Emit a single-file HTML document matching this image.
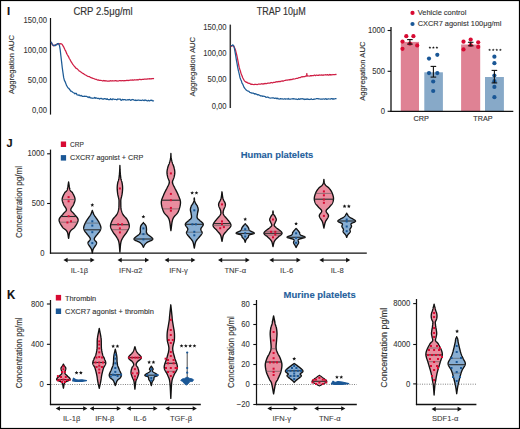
<!DOCTYPE html>
<html><head><meta charset="utf-8"><style>
html,body{margin:0;padding:0;background:#fff;}
svg{display:block;font-family:"Liberation Sans", sans-serif;}
</style></head><body>
<svg width="520" height="429" viewBox="0 0 520 429">
<rect x="0" y="0" width="520" height="429" fill="#fff"/>
<text x="7.0" y="14.7" font-size="11.2" text-anchor="start" font-weight="bold" fill="#111" stroke="#111" stroke-width="0.15" >I</text>
<text x="73.4" y="15.4" font-size="10.2" text-anchor="start" font-weight="normal" fill="#333" stroke="#333" stroke-width="0.15" textLength="59.2" lengthAdjust="spacingAndGlyphs" >CRP 2.5μg/ml</text>
<text x="256.8" y="15.4" font-size="10.2" text-anchor="start" font-weight="normal" fill="#333" stroke="#333" stroke-width="0.15" textLength="49" lengthAdjust="spacingAndGlyphs" >TRAP 10μM</text>
<text transform="translate(46.9,23.3) scale(0.9,1)" x="0" y="0" font-size="8.5" text-anchor="end" font-weight="normal" fill="#333" stroke="#333" stroke-width="0.08" >150,00</text>
<text transform="translate(46.9,53.300000000000004) scale(0.9,1)" x="0" y="0" font-size="8.5" text-anchor="end" font-weight="normal" fill="#333" stroke="#333" stroke-width="0.08" >100,00</text>
<text transform="translate(46.9,83.3) scale(0.9,1)" x="0" y="0" font-size="8.5" text-anchor="end" font-weight="normal" fill="#333" stroke="#333" stroke-width="0.08" >50,00</text>
<text transform="translate(46.9,113.3) scale(0.9,1)" x="0" y="0" font-size="8.5" text-anchor="end" font-weight="normal" fill="#333" stroke="#333" stroke-width="0.08" >0,00</text>
<text transform="translate(14.1,94.1) rotate(-90)" x="0" y="0" font-size="7.6" fill="#333" stroke="#333" stroke-width="0.15" textLength="59" lengthAdjust="spacingAndGlyphs">Aggregation AUC</text>
<line x1="50.5" y1="18" x2="50.5" y2="114.6" stroke="#111" stroke-width="1.2" />
<path d="M51.1,42.1 L51.8,43.4 L52.5,44.6 L53.2,45.6 L53.9,45.8 L54.6,45.3 L55.3,44.9 L56.0,44.9 L56.7,44.3 L57.4,44.0 L58.1,44.2 L58.8,43.7 L59.5,43.8 L60.2,43.6 L60.9,43.8 L61.6,43.9 L62.3,44.7 L63.0,45.8 L63.7,46.9 L64.4,48.5 L65.1,50.1 L65.8,51.2 L66.5,53.1 L67.2,54.5 L67.9,55.7 L68.6,56.8 L69.3,58.5 L70.0,59.5 L70.7,60.9 L71.4,62.2 L72.1,63.2 L72.8,64.4 L73.5,65.1 L74.2,66.1 L74.9,66.8 L75.6,67.8 L76.3,68.5 L77.0,68.7 L77.7,69.4 L78.4,70.0 L79.1,71.0 L79.8,71.2 L80.5,71.8 L81.2,72.2 L81.9,72.8 L82.6,73.2 L83.3,73.6 L84.0,74.1 L84.7,74.5 L85.4,75.0 L86.1,75.3 L86.8,75.8 L87.5,76.1 L88.2,76.5 L88.9,76.6 L89.6,76.7 L90.3,77.3 L91.0,77.7 L91.7,77.9 L92.4,78.1 L93.1,78.4 L93.8,78.5 L94.5,79.0 L95.2,79.2 L95.9,79.3 L96.6,79.4 L97.3,80.0 L98.0,80.2 L98.7,79.9 L99.4,80.4 L100.1,80.3 L100.8,80.3 L101.5,80.5 L102.2,80.8 L102.9,80.9 L103.6,80.5 L104.3,80.9 L105.0,80.6 L105.7,81.0 L106.4,80.8 L107.1,81.1 L107.8,81.2 L108.5,81.0 L109.2,81.2 L109.9,80.9 L110.6,80.7 L111.3,81.0 L112.0,80.7 L112.7,80.8 L113.4,80.9 L114.1,81.0 L114.8,80.7 L115.5,80.6 L116.2,81.0 L116.9,80.7 L117.6,81.0 L118.3,81.0 L119.0,80.7 L119.7,80.7 L120.4,80.7 L121.1,80.8 L121.8,80.7 L122.5,80.7 L123.2,80.7 L123.9,80.8 L124.6,80.6 L125.3,80.5 L126.0,80.6 L126.7,80.3 L127.4,80.3 L128.1,80.6 L128.8,80.3 L129.5,80.3 L130.2,80.0 L130.9,80.2 L131.6,80.2 L132.3,79.9 L133.0,80.1 L133.7,80.1 L134.4,79.7 L135.1,80.0 L135.8,79.9 L136.5,79.9 L137.2,79.7 L137.9,79.8 L138.6,79.8 L139.3,79.4 L140.0,79.3 L140.7,79.6 L141.4,79.7 L142.1,79.3 L142.8,79.3 L143.5,79.3 L144.2,79.2 L144.9,79.1 L145.6,79.1 L146.3,79.0 L147.0,79.1 L147.7,78.9 L148.4,78.9 L149.1,79.0 L149.8,78.6 L150.5,78.8 L151.2,78.9 L151.9,78.6 L152.6,78.5 L153.3,78.7 L154.0,78.4" fill="none" stroke="#cf1f45" stroke-width="1.25" stroke-linejoin="round"/>
<path d="M51.1,41.8 L51.8,43.3 L52.5,44.9 L53.2,45.0 L53.9,45.6 L54.6,45.4 L55.3,45.6 L56.0,44.7 L56.7,44.8 L57.4,43.7 L58.1,43.5 L58.8,43.9 L59.5,45.7 L60.2,49.9 L60.9,56.0 L61.6,61.9 L62.3,68.0 L63.0,72.8 L63.7,77.7 L64.4,80.4 L65.1,81.6 L65.8,83.4 L66.5,85.4 L67.2,86.5 L67.9,87.8 L68.6,88.3 L69.3,89.0 L70.0,89.9 L70.7,91.2 L71.4,91.1 L72.1,91.7 L72.8,92.3 L73.5,92.7 L74.2,93.0 L74.9,93.9 L75.6,93.3 L76.3,93.4 L77.0,94.8 L77.7,95.0 L78.4,95.3 L79.1,94.9 L79.8,95.7 L80.5,95.9 L81.2,95.3 L81.9,96.1 L82.6,96.4 L83.3,96.4 L84.0,96.3 L84.7,96.2 L85.4,96.4 L86.1,96.4 L86.8,96.4 L87.5,97.1 L88.2,96.9 L88.9,97.6 L89.6,96.8 L90.3,97.9 L91.0,97.8 L91.7,98.1 L92.4,98.2 L93.1,98.3 L93.8,98.0 L94.5,97.4 L95.2,98.4 L95.9,97.7 L96.6,98.0 L97.3,98.5 L98.0,98.4 L98.7,98.3 L99.4,99.0 L100.1,98.7 L100.8,98.4 L101.5,98.4 L102.2,99.2 L102.9,98.8 L103.6,99.2 L104.3,98.7 L105.0,98.6 L105.7,99.0 L106.4,99.4 L107.1,98.7 L107.8,99.5 L108.5,99.7 L109.2,99.6 L109.9,99.6 L110.6,98.7 L111.3,99.5 L112.0,99.8 L112.7,98.9 L113.4,99.2 L114.1,99.2 L114.8,99.5 L115.5,99.4 L116.2,99.5 L116.9,99.9 L117.6,99.0 L118.3,99.1 L119.0,99.2 L119.7,99.2 L120.4,99.2 L121.1,100.3 L121.8,100.2 L122.5,99.3 L123.2,99.8 L123.9,99.6 L124.6,99.6 L125.3,99.7 L126.0,100.1 L126.7,100.0 L127.4,99.8 L128.1,99.6 L128.8,99.8 L129.5,99.5 L130.2,100.1 L130.9,100.3 L131.6,99.9 L132.3,99.5 L133.0,99.7 L133.7,99.9 L134.4,100.2 L135.1,100.5 L135.8,100.0 L136.5,100.5 L137.2,100.3 L137.9,100.1 L138.6,100.0 L139.3,100.2 L140.0,100.5 L140.7,100.2 L141.4,100.5 L142.1,100.2 L142.8,100.0 L143.5,100.4 L144.2,100.6 L144.9,99.8 L145.6,100.3 L146.3,100.3 L147.0,100.9 L147.7,100.9 L148.4,100.3 L149.1,100.9 L149.8,100.8 L150.5,100.2 L151.2,100.5 L151.9,100.1 L152.6,100.9 L153.3,100.8 L154.0,101.0" fill="none" stroke="#1d5b96" stroke-width="1.25" stroke-linejoin="round"/>
<text transform="translate(226.6,29.5) scale(0.9,1)" x="0" y="0" font-size="8.5" text-anchor="end" font-weight="normal" fill="#333" stroke="#333" stroke-width="0.08" >150,00</text>
<text transform="translate(226.6,55.800000000000004) scale(0.9,1)" x="0" y="0" font-size="8.5" text-anchor="end" font-weight="normal" fill="#333" stroke="#333" stroke-width="0.08" >100,00</text>
<text transform="translate(226.6,82.1) scale(0.9,1)" x="0" y="0" font-size="8.5" text-anchor="end" font-weight="normal" fill="#333" stroke="#333" stroke-width="0.08" >50,00</text>
<text transform="translate(226.6,108.5) scale(0.9,1)" x="0" y="0" font-size="8.5" text-anchor="end" font-weight="normal" fill="#333" stroke="#333" stroke-width="0.08" >0,00</text>
<text transform="translate(194.6,96.5) rotate(-90)" x="0" y="0" font-size="7.6" fill="#333" stroke="#333" stroke-width="0.15" textLength="59.7" lengthAdjust="spacingAndGlyphs">Aggregation AUC</text>
<line x1="230.3" y1="24.6" x2="230.3" y2="108" stroke="#333" stroke-width="1.5" />
<path d="M230.8,46.4 L231.5,46.1 L232.2,46.0 L232.9,45.8 L233.6,45.8 L234.3,47.2 L235.0,48.7 L235.7,50.8 L236.4,53.7 L237.1,56.5 L237.8,60.2 L238.5,63.8 L239.2,67.4 L239.9,69.6 L240.6,71.8 L241.3,74.3 L242.0,75.7 L242.7,77.7 L243.4,79.0 L244.1,80.3 L244.8,81.2 L245.5,81.7 L246.2,82.3 L246.9,82.2 L247.6,83.0 L248.3,83.1 L249.0,83.4 L249.7,83.3 L250.4,84.0 L251.1,84.4 L251.8,84.1 L252.5,84.4 L253.2,84.5 L253.9,84.7 L254.6,84.4 L255.3,84.3 L256.0,84.3 L256.7,84.5 L257.4,84.5 L258.1,84.2 L258.8,84.2 L259.5,84.1 L260.2,84.0 L260.9,84.0 L261.6,83.7 L262.3,83.9 L263.0,84.1 L263.7,83.7 L264.4,83.8 L265.1,83.4 L265.8,83.6 L266.5,83.6 L267.2,83.4 L267.9,83.2 L268.6,83.1 L269.3,83.1 L270.0,83.2 L270.7,82.6 L271.4,82.5 L272.1,82.8 L272.8,82.8 L273.5,82.4 L274.2,82.3 L274.9,82.4 L275.6,81.9 L276.3,81.9 L277.0,81.7 L277.7,81.8 L278.4,81.6 L279.1,81.4 L279.8,81.6 L280.5,81.6 L281.2,81.1 L281.9,81.2 L282.6,80.9 L283.3,81.1 L284.0,80.8 L284.7,80.5 L285.4,80.3 L286.1,80.1 L286.8,80.2 L287.5,80.1 L288.2,79.8 L288.9,79.8 L289.6,79.6 L290.3,79.8 L291.0,79.3 L291.7,79.7 L292.4,79.2 L293.1,79.2 L293.8,78.9 L294.5,79.0 L295.2,78.8 L295.9,78.5 L296.6,78.3 L297.3,78.3 L298.0,78.1 L298.7,77.7 L299.4,77.7 L300.1,77.6 L300.8,77.2 L301.5,76.9 L302.2,76.7 L302.9,76.8 L303.6,76.7 L304.3,76.7 L305.0,76.6 L305.7,76.1 L306.4,76.0 L307.1,75.9 L307.8,75.8 L308.5,76.0 L309.2,76.1 L309.9,76.0 L310.6,75.6 L311.3,75.9 L312.0,75.5 L312.7,75.5 L313.4,75.7 L314.1,75.2 L314.8,75.2 L315.5,75.6 L316.2,75.2 L316.9,75.2 L317.6,75.3 L318.3,75.4 L319.0,74.9 L319.7,75.1 L320.4,75.1 L321.1,75.1 L321.8,74.9 L322.5,75.1 L323.2,75.3 L323.9,74.9 L324.6,75.0 L325.3,74.7 L326.0,74.8 L326.7,75.0 L327.4,74.6 L328.1,75.0 L328.8,75.0 L329.5,74.5 L330.2,75.0 L330.9,74.6 L331.6,74.8 L332.3,74.8 L333.0,74.5 L333.7,74.7 L334.4,74.6 L335.1,74.7 L335.8,74.3 L336.5,74.6" fill="none" stroke="#cf1f45" stroke-width="1.25" stroke-linejoin="round"/>
<path d="M306.3,76.5 L306.8,73.2 L307.4,76.3" fill="none" stroke="#cf1f45" stroke-width="0.9"/>
<path d="M230.8,46.0 L231.5,45.5 L232.2,45.3 L232.9,44.9 L233.6,45.8 L234.3,47.9 L235.0,51.7 L235.7,55.7 L236.4,60.1 L237.1,63.9 L237.8,67.9 L238.5,71.2 L239.2,73.8 L239.9,77.2 L240.6,79.2 L241.3,80.7 L242.0,83.2 L242.7,84.1 L243.4,85.8 L244.1,87.4 L244.8,88.4 L245.5,89.2 L246.2,90.0 L246.9,90.5 L247.6,90.9 L248.3,91.2 L249.0,91.4 L249.7,92.3 L250.4,92.7 L251.1,92.7 L251.8,93.1 L252.5,93.0 L253.2,93.1 L253.9,93.5 L254.6,94.1 L255.3,93.6 L256.0,94.2 L256.7,94.2 L257.4,94.9 L258.1,94.7 L258.8,94.9 L259.5,95.2 L260.2,95.6 L260.9,96.0 L261.6,95.8 L262.3,96.4 L263.0,96.0 L263.7,96.3 L264.4,96.3 L265.1,96.5 L265.8,97.2 L266.5,97.3 L267.2,97.0 L267.9,97.1 L268.6,97.5 L269.3,97.9 L270.0,98.0 L270.7,98.1 L271.4,98.0 L272.1,97.7 L272.8,98.0 L273.5,97.9 L274.2,98.3 L274.9,98.4 L275.6,98.1 L276.3,98.2 L277.0,98.8 L277.7,98.1 L278.4,98.9 L279.1,99.0 L279.8,99.1 L280.5,98.6 L281.2,98.8 L281.9,98.8 L282.6,98.9 L283.3,99.2 L284.0,99.0 L284.7,98.7 L285.4,99.2 L286.1,98.9 L286.8,99.0 L287.5,99.1 L288.2,98.5 L288.9,99.2 L289.6,99.1 L290.3,99.0 L291.0,99.0 L291.7,98.9 L292.4,98.7 L293.1,99.0 L293.8,98.6 L294.5,99.0 L295.2,99.2 L295.9,99.0 L296.6,99.1 L297.3,99.5 L298.0,99.4 L298.7,98.7 L299.4,99.3 L300.1,99.2 L300.8,98.7 L301.5,98.9 L302.2,98.8 L302.9,98.7 L303.6,99.1 L304.3,99.5 L305.0,98.9 L305.7,99.4 L306.4,99.3 L307.1,98.8 L307.8,99.4 L308.5,99.2 L309.2,99.5 L309.9,99.3 L310.6,99.3 L311.3,98.9 L312.0,99.3 L312.7,99.5 L313.4,99.4 L314.1,99.0 L314.8,99.3 L315.5,99.0 L316.2,98.7 L316.9,98.6 L317.6,98.7 L318.3,98.8 L319.0,98.7 L319.7,99.0 L320.4,99.2 L321.1,99.1 L321.8,99.0 L322.5,99.2 L323.2,98.9 L323.9,99.0 L324.6,99.3 L325.3,98.9 L326.0,98.7 L326.7,99.4 L327.4,99.2 L328.1,98.9 L328.8,98.9 L329.5,99.0 L330.2,99.1 L330.9,98.8 L331.6,98.6 L332.3,98.7 L333.0,99.3 L333.7,98.7 L334.4,99.0 L335.1,98.7 L335.8,98.7 L336.5,98.7" fill="none" stroke="#1d5b96" stroke-width="1.25" stroke-linejoin="round"/>
<circle cx="412.5" cy="12.9" r="2.1" fill="#d80a32"/>
<circle cx="412.5" cy="24" r="2.1" fill="#1a5796"/>
<text x="417.7" y="15.2" font-size="8" text-anchor="start" font-weight="normal" fill="#333" stroke="#333" stroke-width="0.12" textLength="48.6" lengthAdjust="spacingAndGlyphs" >Vehicle control</text>
<text x="417.7" y="26.2" font-size="8" text-anchor="start" font-weight="normal" fill="#333" stroke="#333" stroke-width="0.12" textLength="83.7" lengthAdjust="spacingAndGlyphs" >CXCR7 agonist 100μg/ml</text>
<rect x="400.8" y="41.9" width="18.20" height="69.40" fill="#df8294"/>
<rect x="424.3" y="72.3" width="18.60" height="39.00" fill="#87a9c8"/>
<rect x="461.1" y="44.5" width="19.10" height="66.80" fill="#df8294"/>
<rect x="485" y="77" width="18.90" height="34.30" fill="#87a9c8"/>
<text transform="translate(385,33.3) scale(0.9,1)" x="0" y="0" font-size="8.5" text-anchor="end" font-weight="normal" fill="#333" stroke="#333" stroke-width="0.08" >1000</text>
<text transform="translate(385,73.7) scale(0.9,1)" x="0" y="0" font-size="8.5" text-anchor="end" font-weight="normal" fill="#333" stroke="#333" stroke-width="0.08" >500</text>
<text transform="translate(385,114.1) scale(0.9,1)" x="0" y="0" font-size="8.5" text-anchor="end" font-weight="normal" fill="#333" stroke="#333" stroke-width="0.08" >0</text>
<line x1="387.6" y1="30.5" x2="391" y2="30.5" stroke="#111" stroke-width="1.1" />
<line x1="387.6" y1="71.3" x2="391" y2="71.3" stroke="#111" stroke-width="1.1" />
<line x1="387.6" y1="111.3" x2="391" y2="111.3" stroke="#111" stroke-width="1.1" />
<text transform="translate(365,100.8) rotate(-90)" x="0" y="0" font-size="7.6" fill="#333" stroke="#333" stroke-width="0.15" textLength="59.3" lengthAdjust="spacingAndGlyphs">Aggregation AUC</text>
<circle cx="406.3" cy="36.2" r="2.1" fill="#d80a32"/>
<circle cx="413.4" cy="36.2" r="2.1" fill="#d80a32"/>
<circle cx="402.5" cy="41.6" r="2.1" fill="#d80a32"/>
<circle cx="417.2" cy="45.4" r="2.1" fill="#d80a32"/>
<circle cx="402.5" cy="48.8" r="2.1" fill="#d80a32"/>
<circle cx="409.9" cy="43.7" r="2.1" fill="#d80a32"/>
<circle cx="437.3" cy="54.8" r="2.1" fill="#1a5796"/>
<circle cx="429" cy="58.6" r="2.1" fill="#1a5796"/>
<circle cx="429" cy="73.1" r="2.1" fill="#1a5796"/>
<circle cx="437.3" cy="73.1" r="2.1" fill="#1a5796"/>
<circle cx="433.2" cy="81.5" r="2.1" fill="#1a5796"/>
<circle cx="433.2" cy="91" r="2.1" fill="#1a5796"/>
<circle cx="463.5" cy="41.7" r="2.1" fill="#d80a32"/>
<circle cx="470.7" cy="39.6" r="2.1" fill="#d80a32"/>
<circle cx="478.2" cy="42.3" r="2.1" fill="#d80a32"/>
<circle cx="463.5" cy="49.4" r="2.1" fill="#d80a32"/>
<circle cx="478.2" cy="46.9" r="2.1" fill="#d80a32"/>
<circle cx="470.7" cy="45" r="2.1" fill="#d80a32"/>
<circle cx="494.4" cy="56.7" r="2.1" fill="#1a5796"/>
<circle cx="494.4" cy="63.2" r="2.1" fill="#1a5796"/>
<circle cx="494.4" cy="75.5" r="2.1" fill="#1a5796"/>
<circle cx="494.4" cy="81.2" r="2.1" fill="#1a5796"/>
<circle cx="494.4" cy="86.9" r="2.1" fill="#1a5796"/>
<circle cx="494.4" cy="97.2" r="2.1" fill="#1a5796"/>
<line x1="409.9" y1="39.6" x2="409.9" y2="44.1" stroke="#111" stroke-width="1.1" />
<line x1="407.09999999999997" y1="39.6" x2="412.7" y2="39.6" stroke="#111" stroke-width="1.1" />
<line x1="407.09999999999997" y1="44.1" x2="412.7" y2="44.1" stroke="#111" stroke-width="1.1" />
<line x1="433.4" y1="66.4" x2="433.4" y2="77.1" stroke="#111" stroke-width="1.1" />
<line x1="430.59999999999997" y1="66.4" x2="436.2" y2="66.4" stroke="#111" stroke-width="1.1" />
<line x1="430.59999999999997" y1="77.1" x2="436.2" y2="77.1" stroke="#111" stroke-width="1.1" />
<line x1="470.7" y1="42.3" x2="470.7" y2="45.8" stroke="#111" stroke-width="1.1" />
<line x1="467.9" y1="42.3" x2="473.5" y2="42.3" stroke="#111" stroke-width="1.1" />
<line x1="467.9" y1="45.8" x2="473.5" y2="45.8" stroke="#111" stroke-width="1.1" />
<line x1="494.4" y1="70.4" x2="494.4" y2="82.9" stroke="#111" stroke-width="1.1" />
<line x1="491.59999999999997" y1="70.4" x2="497.2" y2="70.4" stroke="#111" stroke-width="1.1" />
<line x1="491.59999999999997" y1="82.9" x2="497.2" y2="82.9" stroke="#111" stroke-width="1.1" />
<line x1="391" y1="27" x2="391" y2="112.1" stroke="#111" stroke-width="1.3" />
<line x1="390.4" y1="111.45" x2="513.3" y2="111.45" stroke="#111" stroke-width="1.3" />
<polygon points="429.90,46.20 430.28,47.12 431.28,47.20 430.52,47.85 430.75,48.82 429.90,48.30 429.05,48.82 429.28,47.85 428.52,47.20 429.52,47.12" fill="#151515"/>
<polygon points="433.40,46.20 433.78,47.12 434.78,47.20 434.02,47.85 434.25,48.82 433.40,48.30 432.55,48.82 432.78,47.85 432.02,47.20 433.02,47.12" fill="#151515"/>
<polygon points="436.90,46.20 437.28,47.12 438.28,47.20 437.52,47.85 437.75,48.82 436.90,48.30 436.05,48.82 436.28,47.85 435.52,47.20 436.52,47.12" fill="#151515"/>
<polygon points="489.60,48.50 489.98,49.42 490.98,49.50 490.22,50.15 490.45,51.12 489.60,50.60 488.75,51.12 488.98,50.15 488.22,49.50 489.22,49.42" fill="#151515"/>
<polygon points="493.20,48.50 493.58,49.42 494.58,49.50 493.82,50.15 494.05,51.12 493.20,50.60 492.35,51.12 492.58,50.15 491.82,49.50 492.82,49.42" fill="#151515"/>
<polygon points="496.80,48.50 497.18,49.42 498.18,49.50 497.42,50.15 497.65,51.12 496.80,50.60 495.95,51.12 496.18,50.15 495.42,49.50 496.42,49.42" fill="#151515"/>
<polygon points="500.40,48.50 500.78,49.42 501.78,49.50 501.02,50.15 501.25,51.12 500.40,50.60 499.55,51.12 499.78,50.15 499.02,49.50 500.02,49.42" fill="#151515"/>
<text x="421.3" y="121" font-size="7.8" text-anchor="middle" font-weight="normal" fill="#333" stroke="#333" stroke-width="0.15" textLength="15.4" lengthAdjust="spacingAndGlyphs" >CRP</text>
<text x="482.9" y="121" font-size="7.8" text-anchor="middle" font-weight="normal" fill="#333" stroke="#333" stroke-width="0.15" textLength="19.2" lengthAdjust="spacingAndGlyphs" >TRAP</text>
<text transform="translate(6.6,146.7) scale(0.95,1)" x="0" y="0" font-size="11.5" text-anchor="start" font-weight="bold" fill="#111" stroke="#111" stroke-width="0.15" >J</text>
<rect x="60.8" y="141.5" width="5.3" height="5.5" fill="#d80a32"/>
<rect x="60.8" y="155.1" width="5.3" height="5.5" fill="#1a5796"/>
<text x="70" y="147" font-size="8" text-anchor="start" font-weight="normal" fill="#333" stroke="#333" stroke-width="0.12" textLength="13.8" lengthAdjust="spacingAndGlyphs" >CRP</text>
<text x="70" y="160.4" font-size="8" text-anchor="start" font-weight="normal" fill="#333" stroke="#333" stroke-width="0.12" textLength="73.2" lengthAdjust="spacingAndGlyphs" >CXCR7 agonist + CRP</text>
<text x="240.7" y="157.8" font-size="8.8" text-anchor="start" font-weight="bold" fill="#24609c" stroke="#24609c" stroke-width="0.1" textLength="72.6" lengthAdjust="spacingAndGlyphs" >Human platelets</text>
<text transform="translate(44.6,156.4) scale(0.9,1)" x="0" y="0" font-size="8.5" text-anchor="end" font-weight="normal" fill="#333" stroke="#333" stroke-width="0.08" >1000</text>
<text transform="translate(44.6,206.1) scale(0.9,1)" x="0" y="0" font-size="8.5" text-anchor="end" font-weight="normal" fill="#333" stroke="#333" stroke-width="0.08" >500</text>
<text transform="translate(44.6,255.7) scale(0.9,1)" x="0" y="0" font-size="8.5" text-anchor="end" font-weight="normal" fill="#333" stroke="#333" stroke-width="0.08" >0</text>
<line x1="47.1" y1="153.8" x2="50.5" y2="153.8" stroke="#111" stroke-width="1.1" />
<line x1="47.1" y1="203.5" x2="50.5" y2="203.5" stroke="#111" stroke-width="1.1" />
<text transform="translate(21.6,238.1) rotate(-90)" x="0" y="0" font-size="9.5" fill="#333" stroke="#333" stroke-width="0.15" textLength="72.2" lengthAdjust="spacingAndGlyphs">Concentration pg/ml</text>
<path d="M68.60,182.00 L68.69,182.50 L68.77,183.01 L68.85,183.53 L68.92,184.06 L69.00,184.59 L69.07,185.13 L69.15,185.66 L69.22,186.19 L69.30,186.71 L69.39,187.21 L69.47,187.70 L69.57,188.17 L69.66,188.62 L69.77,189.05 L69.88,189.44 L70.00,189.80 L70.13,190.12 L70.27,190.40 L70.42,190.65 L70.57,190.86 L70.73,191.05 L70.90,191.22 L71.07,191.37 L71.24,191.52 L71.41,191.66 L71.59,191.80 L71.76,191.96 L71.94,192.12 L72.11,192.30 L72.28,192.50 L72.44,192.73 L72.60,193.00 L72.76,193.30 L72.94,193.61 L73.12,193.94 L73.30,194.29 L73.49,194.65 L73.68,195.03 L73.87,195.41 L74.05,195.80 L74.22,196.19 L74.39,196.59 L74.54,196.99 L74.67,197.38 L74.79,197.77 L74.88,198.16 L74.95,198.53 L75.00,198.90 L75.02,199.26 L75.02,199.62 L74.99,199.97 L74.95,200.33 L74.89,200.68 L74.81,201.04 L74.73,201.39 L74.62,201.74 L74.51,202.09 L74.39,202.44 L74.27,202.78 L74.14,203.13 L74.00,203.47 L73.87,203.82 L73.73,204.16 L73.60,204.50 L73.45,204.84 L73.28,205.18 L73.07,205.53 L72.86,205.87 L72.62,206.22 L72.38,206.56 L72.14,206.90 L71.91,207.24 L71.68,207.57 L71.46,207.91 L71.27,208.24 L71.10,208.56 L70.97,208.88 L70.87,209.19 L70.81,209.50 L70.80,209.80 L70.84,210.09 L70.92,210.37 L71.03,210.63 L71.18,210.89 L71.36,211.14 L71.56,211.39 L71.78,211.63 L72.02,211.87 L72.28,212.11 L72.54,212.36 L72.81,212.61 L73.08,212.86 L73.35,213.13 L73.61,213.41 L73.86,213.70 L74.10,214.00 L74.34,214.32 L74.62,214.64 L74.91,214.97 L75.22,215.30 L75.54,215.65 L75.87,216.00 L76.19,216.35 L76.51,216.71 L76.82,217.08 L77.10,217.45 L77.37,217.83 L77.60,218.21 L77.79,218.60 L77.94,219.00 L78.05,219.40 L78.10,219.80 L78.10,220.22 L78.05,220.65 L77.95,221.10 L77.82,221.56 L77.65,222.03 L77.46,222.51 L77.24,222.99 L76.99,223.48 L76.73,223.95 L76.46,224.43 L76.18,224.90 L75.89,225.35 L75.61,225.79 L75.33,226.21 L75.06,226.62 L74.80,227.00 L74.54,227.35 L74.26,227.68 L73.96,227.99 L73.65,228.28 L73.33,228.56 L73.00,228.82 L72.67,229.07 L72.34,229.32 L72.01,229.58 L71.69,229.83 L71.38,230.09 L71.08,230.36 L70.80,230.64 L70.54,230.94 L70.31,231.26 L70.10,231.60 L69.92,231.96 L69.76,232.34 L69.62,232.74 L69.50,233.15 L69.39,233.56 L69.30,233.99 L69.22,234.42 L69.15,234.86 L69.08,235.31 L69.02,235.75 L68.96,236.20 L68.90,236.65 L68.84,237.09 L68.77,237.53 L68.69,237.97 L68.60,238.40 L68.60,238.40 L68.51,237.97 L68.43,237.53 L68.36,237.09 L68.30,236.65 L68.24,236.20 L68.18,235.75 L68.12,235.31 L68.05,234.86 L67.98,234.42 L67.90,233.99 L67.81,233.56 L67.70,233.15 L67.58,232.74 L67.44,232.34 L67.28,231.96 L67.10,231.60 L66.89,231.26 L66.66,230.94 L66.40,230.64 L66.12,230.36 L65.82,230.09 L65.51,229.83 L65.19,229.58 L64.86,229.32 L64.53,229.07 L64.20,228.82 L63.87,228.56 L63.55,228.28 L63.24,227.99 L62.94,227.68 L62.66,227.35 L62.40,227.00 L62.14,226.62 L61.87,226.21 L61.59,225.79 L61.31,225.35 L61.02,224.90 L60.74,224.43 L60.47,223.95 L60.21,223.48 L59.96,222.99 L59.74,222.51 L59.55,222.03 L59.38,221.56 L59.25,221.10 L59.15,220.65 L59.10,220.22 L59.10,219.80 L59.15,219.40 L59.26,219.00 L59.41,218.60 L59.60,218.21 L59.83,217.83 L60.10,217.45 L60.38,217.08 L60.69,216.71 L61.01,216.35 L61.33,216.00 L61.66,215.65 L61.98,215.30 L62.29,214.97 L62.58,214.64 L62.86,214.32 L63.10,214.00 L63.34,213.70 L63.59,213.41 L63.85,213.13 L64.12,212.86 L64.39,212.61 L64.66,212.36 L64.92,212.11 L65.17,211.87 L65.42,211.63 L65.64,211.39 L65.84,211.14 L66.02,210.89 L66.17,210.63 L66.28,210.37 L66.36,210.09 L66.40,209.80 L66.39,209.50 L66.33,209.19 L66.23,208.88 L66.10,208.56 L65.93,208.24 L65.74,207.91 L65.52,207.57 L65.29,207.24 L65.06,206.90 L64.82,206.56 L64.58,206.22 L64.34,205.87 L64.13,205.53 L63.92,205.18 L63.75,204.84 L63.60,204.50 L63.47,204.16 L63.33,203.82 L63.20,203.47 L63.06,203.13 L62.93,202.78 L62.81,202.44 L62.69,202.09 L62.57,201.74 L62.47,201.39 L62.39,201.04 L62.31,200.68 L62.25,200.33 L62.21,199.97 L62.18,199.62 L62.18,199.26 L62.20,198.90 L62.25,198.53 L62.32,198.16 L62.41,197.77 L62.53,197.38 L62.66,196.99 L62.81,196.59 L62.98,196.19 L63.15,195.80 L63.33,195.41 L63.52,195.03 L63.71,194.65 L63.90,194.29 L64.08,193.94 L64.26,193.61 L64.44,193.30 L64.60,193.00 L64.76,192.73 L64.92,192.50 L65.09,192.30 L65.26,192.12 L65.44,191.96 L65.61,191.80 L65.79,191.66 L65.96,191.52 L66.13,191.37 L66.30,191.22 L66.47,191.05 L66.63,190.86 L66.78,190.65 L66.93,190.40 L67.07,190.12 L67.20,189.80 L67.32,189.44 L67.43,189.05 L67.54,188.62 L67.63,188.17 L67.73,187.70 L67.81,187.21 L67.90,186.71 L67.97,186.19 L68.05,185.66 L68.13,185.13 L68.20,184.59 L68.28,184.06 L68.35,183.53 L68.43,183.01 L68.51,182.50 L68.60,182.00Z" fill="#e98d9f" stroke="#111" stroke-width="1.35" stroke-linejoin="round"/>
<line x1="62.18" y1="199.5" x2="75.02" y2="199.5" stroke="#555" stroke-width="0.6"/>
<line x1="60.87" y1="216.5" x2="76.33" y2="216.5" stroke="#2a2a2a" stroke-width="1.1"/>
<line x1="59.61" y1="222.2" x2="77.59" y2="222.2" stroke="#555" stroke-width="0.6"/>
<rect x="67.60" y="196.10" width="2" height="2" fill="#d80a32"/>
<rect x="67.60" y="200.30" width="2" height="2" fill="#d80a32"/>
<rect x="67.60" y="215.20" width="2" height="2" fill="#d80a32"/>
<rect x="66.40" y="221.50" width="2" height="2" fill="#d80a32"/>
<rect x="70.00" y="220.30" width="2" height="2" fill="#d80a32"/>
<path d="M92.30,210.40 L92.39,210.65 L92.48,210.90 L92.56,211.14 L92.64,211.39 L92.72,211.63 L92.80,211.88 L92.88,212.12 L92.96,212.37 L93.04,212.62 L93.13,212.86 L93.22,213.11 L93.32,213.36 L93.43,213.62 L93.54,213.88 L93.67,214.14 L93.80,214.40 L93.95,214.67 L94.11,214.94 L94.28,215.22 L94.46,215.50 L94.64,215.78 L94.84,216.07 L95.04,216.36 L95.24,216.64 L95.44,216.93 L95.65,217.22 L95.85,217.51 L96.05,217.79 L96.25,218.07 L96.44,218.35 L96.62,218.63 L96.80,218.90 L96.97,219.17 L97.14,219.43 L97.31,219.69 L97.48,219.94 L97.65,220.20 L97.81,220.45 L97.98,220.70 L98.14,220.95 L98.30,221.20 L98.45,221.45 L98.60,221.70 L98.75,221.96 L98.89,222.21 L99.03,222.47 L99.17,222.73 L99.30,223.00 L99.43,223.27 L99.56,223.55 L99.69,223.83 L99.82,224.12 L99.95,224.41 L100.08,224.70 L100.20,224.99 L100.32,225.29 L100.43,225.58 L100.53,225.87 L100.62,226.15 L100.70,226.44 L100.77,226.71 L100.83,226.98 L100.87,227.25 L100.90,227.50 L100.91,227.75 L100.91,227.99 L100.89,228.23 L100.86,228.46 L100.82,228.68 L100.77,228.91 L100.71,229.13 L100.64,229.34 L100.57,229.56 L100.48,229.77 L100.40,229.98 L100.30,230.18 L100.21,230.39 L100.10,230.59 L100.00,230.80 L99.90,231.00 L99.79,231.20 L99.68,231.39 L99.56,231.57 L99.44,231.74 L99.31,231.91 L99.18,232.08 L99.04,232.24 L98.89,232.41 L98.75,232.58 L98.59,232.76 L98.44,232.94 L98.28,233.13 L98.11,233.33 L97.94,233.54 L97.77,233.76 L97.60,234.00 L97.41,234.26 L97.20,234.53 L96.96,234.81 L96.71,235.11 L96.45,235.41 L96.19,235.73 L95.92,236.05 L95.66,236.38 L95.41,236.70 L95.17,237.03 L94.95,237.36 L94.75,237.68 L94.59,238.00 L94.45,238.31 L94.35,238.61 L94.30,238.90 L94.30,239.18 L94.36,239.45 L94.46,239.71 L94.61,239.96 L94.79,240.21 L95.00,240.46 L95.22,240.70 L95.45,240.94 L95.68,241.19 L95.90,241.44 L96.11,241.69 L96.29,241.95 L96.44,242.22 L96.54,242.50 L96.60,242.79 L96.60,243.10 L96.54,243.42 L96.44,243.76 L96.29,244.11 L96.11,244.48 L95.91,244.85 L95.67,245.23 L95.42,245.62 L95.16,246.01 L94.89,246.39 L94.62,246.78 L94.35,247.16 L94.09,247.53 L93.86,247.89 L93.64,248.25 L93.45,248.58 L93.30,248.90 L93.17,249.20 L93.06,249.49 L92.97,249.77 L92.89,250.04 L92.82,250.31 L92.76,250.56 L92.70,250.81 L92.66,251.06 L92.61,251.30 L92.57,251.54 L92.54,251.78 L92.50,252.01 L92.45,252.26 L92.41,252.50 L92.36,252.75 L92.30,253.00 L92.30,253.00 L92.24,252.75 L92.19,252.50 L92.15,252.26 L92.10,252.01 L92.06,251.78 L92.03,251.54 L91.99,251.30 L91.94,251.06 L91.90,250.81 L91.84,250.56 L91.78,250.31 L91.71,250.04 L91.63,249.77 L91.54,249.49 L91.43,249.20 L91.30,248.90 L91.15,248.58 L90.96,248.25 L90.74,247.89 L90.51,247.53 L90.25,247.16 L89.98,246.78 L89.71,246.39 L89.44,246.01 L89.18,245.62 L88.93,245.23 L88.69,244.85 L88.49,244.48 L88.31,244.11 L88.16,243.76 L88.06,243.42 L88.00,243.10 L88.00,242.79 L88.06,242.50 L88.16,242.22 L88.31,241.95 L88.49,241.69 L88.70,241.44 L88.92,241.19 L89.15,240.94 L89.38,240.70 L89.60,240.46 L89.81,240.21 L89.99,239.96 L90.14,239.71 L90.24,239.45 L90.30,239.18 L90.30,238.90 L90.25,238.61 L90.15,238.31 L90.01,238.00 L89.85,237.68 L89.65,237.36 L89.43,237.03 L89.19,236.70 L88.94,236.38 L88.68,236.05 L88.41,235.73 L88.15,235.41 L87.89,235.11 L87.64,234.81 L87.40,234.53 L87.19,234.26 L87.00,234.00 L86.83,233.76 L86.66,233.54 L86.49,233.33 L86.32,233.13 L86.16,232.94 L86.01,232.76 L85.85,232.58 L85.71,232.41 L85.56,232.24 L85.42,232.08 L85.29,231.91 L85.16,231.74 L85.04,231.57 L84.92,231.39 L84.81,231.20 L84.70,231.00 L84.60,230.80 L84.50,230.59 L84.39,230.39 L84.30,230.18 L84.20,229.98 L84.12,229.77 L84.03,229.56 L83.96,229.34 L83.89,229.13 L83.83,228.91 L83.78,228.68 L83.74,228.46 L83.71,228.23 L83.69,227.99 L83.69,227.75 L83.70,227.50 L83.73,227.25 L83.77,226.98 L83.83,226.71 L83.90,226.44 L83.98,226.15 L84.07,225.87 L84.17,225.58 L84.28,225.29 L84.40,224.99 L84.52,224.70 L84.65,224.41 L84.78,224.12 L84.91,223.83 L85.04,223.55 L85.17,223.27 L85.30,223.00 L85.43,222.73 L85.57,222.47 L85.71,222.21 L85.85,221.96 L86.00,221.70 L86.15,221.45 L86.30,221.20 L86.46,220.95 L86.62,220.70 L86.79,220.45 L86.95,220.20 L87.12,219.94 L87.29,219.69 L87.46,219.43 L87.63,219.17 L87.80,218.90 L87.98,218.63 L88.16,218.35 L88.35,218.07 L88.55,217.79 L88.75,217.51 L88.95,217.22 L89.16,216.93 L89.36,216.64 L89.56,216.36 L89.76,216.07 L89.96,215.78 L90.14,215.50 L90.32,215.22 L90.49,214.94 L90.65,214.67 L90.80,214.40 L90.93,214.14 L91.06,213.88 L91.17,213.62 L91.28,213.36 L91.38,213.11 L91.47,212.86 L91.56,212.62 L91.64,212.37 L91.72,212.12 L91.80,211.88 L91.88,211.63 L91.96,211.39 L92.04,211.14 L92.12,210.90 L92.21,210.65 L92.30,210.40Z" fill="#88aed3" stroke="#111" stroke-width="1.35" stroke-linejoin="round"/>
<line x1="85.25" y1="223.1" x2="99.35" y2="223.1" stroke="#555" stroke-width="0.6"/>
<line x1="84.13" y1="229.8" x2="100.47" y2="229.8" stroke="#2a2a2a" stroke-width="1.1"/>
<rect x="91.30" y="220.30" width="2" height="2" fill="#1a5796"/>
<rect x="91.30" y="224.60" width="2" height="2" fill="#1a5796"/>
<rect x="91.30" y="231.20" width="2" height="2" fill="#1a5796"/>
<rect x="91.30" y="242.10" width="2" height="2" fill="#1a5796"/>
<path d="M119.90,165.50 L119.92,165.91 L119.93,166.31 L119.95,166.72 L119.97,167.12 L119.98,167.53 L119.99,167.93 L120.01,168.34 L120.03,168.74 L120.04,169.15 L120.06,169.56 L120.08,169.96 L120.10,170.37 L120.12,170.78 L120.14,171.18 L120.17,171.59 L120.20,172.00 L120.23,172.41 L120.26,172.84 L120.30,173.26 L120.34,173.69 L120.37,174.13 L120.41,174.56 L120.45,175.00 L120.49,175.43 L120.54,175.86 L120.58,176.28 L120.63,176.70 L120.68,177.10 L120.73,177.50 L120.79,177.88 L120.84,178.25 L120.90,178.60 L120.96,178.93 L121.03,179.25 L121.10,179.55 L121.18,179.84 L121.26,180.11 L121.34,180.38 L121.43,180.64 L121.51,180.89 L121.60,181.14 L121.68,181.40 L121.76,181.65 L121.84,181.90 L121.91,182.16 L121.98,182.43 L122.04,182.71 L122.10,183.00 L122.15,183.30 L122.20,183.60 L122.25,183.90 L122.30,184.21 L122.34,184.52 L122.38,184.83 L122.42,185.14 L122.46,185.46 L122.49,185.78 L122.52,186.10 L122.54,186.42 L122.56,186.75 L122.58,187.08 L122.59,187.42 L122.60,187.76 L122.60,188.10 L122.60,188.45 L122.59,188.80 L122.58,189.16 L122.56,189.53 L122.54,189.90 L122.52,190.27 L122.49,190.65 L122.46,191.02 L122.42,191.40 L122.38,191.78 L122.34,192.16 L122.30,192.53 L122.25,192.91 L122.20,193.28 L122.15,193.64 L122.10,194.00 L122.04,194.36 L121.98,194.72 L121.90,195.09 L121.82,195.45 L121.74,195.82 L121.65,196.19 L121.56,196.55 L121.48,196.91 L121.39,197.27 L121.30,197.62 L121.22,197.96 L121.14,198.29 L121.07,198.61 L121.00,198.92 L120.95,199.22 L120.90,199.50 L120.86,199.77 L120.83,200.01 L120.81,200.24 L120.79,200.46 L120.78,200.66 L120.77,200.86 L120.77,201.05 L120.77,201.23 L120.77,201.41 L120.77,201.59 L120.78,201.78 L120.79,201.96 L120.79,202.16 L120.80,202.36 L120.80,202.57 L120.80,202.80 L120.80,203.04 L120.80,203.29 L120.80,203.54 L120.80,203.81 L120.80,204.07 L120.81,204.34 L120.81,204.62 L120.81,204.89 L120.82,205.17 L120.82,205.44 L120.83,205.72 L120.84,205.99 L120.85,206.25 L120.87,206.51 L120.88,206.76 L120.90,207.00 L120.92,207.23 L120.93,207.46 L120.95,207.67 L120.96,207.88 L120.98,208.08 L121.00,208.28 L121.02,208.48 L121.04,208.68 L121.06,208.87 L121.09,209.07 L121.13,209.28 L121.17,209.48 L121.21,209.70 L121.27,209.92 L121.33,210.16 L121.40,210.40 L121.48,210.65 L121.56,210.92 L121.64,211.19 L121.73,211.47 L121.83,211.75 L121.93,212.04 L122.03,212.33 L122.14,212.63 L122.26,212.93 L122.39,213.23 L122.52,213.53 L122.66,213.83 L122.81,214.13 L122.96,214.42 L123.13,214.71 L123.30,215.00 L123.49,215.28 L123.70,215.55 L123.92,215.82 L124.15,216.09 L124.40,216.35 L124.66,216.61 L124.92,216.87 L125.18,217.13 L125.45,217.40 L125.71,217.67 L125.97,217.95 L126.22,218.24 L126.46,218.53 L126.69,218.84 L126.90,219.16 L127.10,219.50 L127.29,219.85 L127.48,220.22 L127.68,220.60 L127.87,221.00 L128.06,221.40 L128.24,221.82 L128.42,222.24 L128.59,222.66 L128.74,223.09 L128.88,223.52 L129.01,223.95 L129.11,224.37 L129.20,224.79 L129.26,225.20 L129.29,225.61 L129.30,226.00 L129.28,226.39 L129.23,226.77 L129.15,227.15 L129.05,227.53 L128.93,227.91 L128.79,228.29 L128.64,228.66 L128.47,229.03 L128.29,229.40 L128.10,229.77 L127.90,230.13 L127.70,230.49 L127.50,230.85 L127.29,231.20 L127.09,231.55 L126.90,231.90 L126.70,232.24 L126.49,232.58 L126.27,232.92 L126.03,233.25 L125.79,233.58 L125.55,233.90 L125.30,234.22 L125.04,234.54 L124.79,234.86 L124.54,235.18 L124.30,235.50 L124.06,235.82 L123.83,236.13 L123.60,236.45 L123.40,236.78 L123.20,237.10 L123.02,237.42 L122.84,237.72 L122.66,238.01 L122.50,238.29 L122.33,238.57 L122.18,238.85 L122.03,239.13 L121.88,239.41 L121.74,239.71 L121.61,240.01 L121.48,240.34 L121.35,240.68 L121.23,241.04 L121.12,241.43 L121.01,241.85 L120.90,242.30 L120.80,242.79 L120.71,243.30 L120.63,243.85 L120.56,244.43 L120.49,245.02 L120.43,245.64 L120.37,246.27 L120.32,246.91 L120.27,247.56 L120.22,248.22 L120.17,248.88 L120.12,249.54 L120.07,250.20 L120.02,250.84 L119.96,251.48 L119.90,252.10 L119.90,252.10 L119.84,251.48 L119.78,250.84 L119.73,250.20 L119.68,249.54 L119.63,248.88 L119.58,248.22 L119.53,247.56 L119.48,246.91 L119.43,246.27 L119.37,245.64 L119.31,245.02 L119.24,244.43 L119.17,243.85 L119.09,243.30 L119.00,242.79 L118.90,242.30 L118.79,241.85 L118.68,241.43 L118.57,241.04 L118.45,240.68 L118.32,240.34 L118.19,240.01 L118.06,239.71 L117.92,239.41 L117.77,239.13 L117.62,238.85 L117.47,238.57 L117.30,238.29 L117.14,238.01 L116.96,237.72 L116.78,237.42 L116.60,237.10 L116.40,236.78 L116.20,236.45 L115.97,236.13 L115.74,235.82 L115.50,235.50 L115.26,235.18 L115.01,234.86 L114.76,234.54 L114.50,234.22 L114.25,233.90 L114.01,233.58 L113.77,233.25 L113.53,232.92 L113.31,232.58 L113.10,232.24 L112.90,231.90 L112.71,231.55 L112.51,231.20 L112.30,230.85 L112.10,230.49 L111.90,230.13 L111.70,229.77 L111.51,229.40 L111.33,229.03 L111.16,228.66 L111.01,228.29 L110.87,227.91 L110.75,227.53 L110.65,227.15 L110.57,226.77 L110.52,226.39 L110.50,226.00 L110.51,225.61 L110.54,225.20 L110.60,224.79 L110.69,224.37 L110.79,223.95 L110.92,223.52 L111.06,223.09 L111.21,222.66 L111.38,222.24 L111.56,221.82 L111.74,221.40 L111.93,221.00 L112.12,220.60 L112.32,220.22 L112.51,219.85 L112.70,219.50 L112.90,219.16 L113.11,218.84 L113.34,218.53 L113.58,218.24 L113.83,217.95 L114.09,217.67 L114.35,217.40 L114.62,217.13 L114.88,216.87 L115.14,216.61 L115.40,216.35 L115.65,216.09 L115.88,215.82 L116.10,215.55 L116.31,215.28 L116.50,215.00 L116.67,214.71 L116.84,214.42 L116.99,214.13 L117.14,213.83 L117.28,213.53 L117.41,213.23 L117.54,212.93 L117.66,212.63 L117.77,212.33 L117.87,212.04 L117.97,211.75 L118.07,211.47 L118.16,211.19 L118.24,210.92 L118.32,210.65 L118.40,210.40 L118.47,210.16 L118.53,209.92 L118.59,209.70 L118.63,209.48 L118.67,209.28 L118.71,209.07 L118.74,208.87 L118.76,208.68 L118.78,208.48 L118.80,208.28 L118.82,208.08 L118.84,207.88 L118.85,207.67 L118.87,207.46 L118.88,207.23 L118.90,207.00 L118.92,206.76 L118.93,206.51 L118.95,206.25 L118.96,205.99 L118.97,205.72 L118.98,205.44 L118.98,205.17 L118.99,204.89 L118.99,204.62 L118.99,204.34 L119.00,204.07 L119.00,203.81 L119.00,203.54 L119.00,203.29 L119.00,203.04 L119.00,202.80 L119.00,202.57 L119.00,202.36 L119.01,202.16 L119.01,201.96 L119.02,201.78 L119.03,201.59 L119.03,201.41 L119.03,201.23 L119.03,201.05 L119.03,200.86 L119.02,200.66 L119.01,200.46 L118.99,200.24 L118.97,200.01 L118.94,199.77 L118.90,199.50 L118.85,199.22 L118.80,198.92 L118.73,198.61 L118.66,198.29 L118.58,197.96 L118.50,197.62 L118.41,197.27 L118.33,196.91 L118.24,196.55 L118.15,196.19 L118.06,195.82 L117.98,195.45 L117.90,195.09 L117.82,194.72 L117.76,194.36 L117.70,194.00 L117.65,193.64 L117.60,193.28 L117.55,192.91 L117.50,192.53 L117.46,192.16 L117.42,191.78 L117.38,191.40 L117.34,191.02 L117.31,190.65 L117.28,190.27 L117.26,189.90 L117.24,189.53 L117.22,189.16 L117.21,188.80 L117.20,188.45 L117.20,188.10 L117.20,187.76 L117.21,187.42 L117.22,187.08 L117.24,186.75 L117.26,186.42 L117.28,186.10 L117.31,185.78 L117.34,185.46 L117.38,185.14 L117.42,184.83 L117.46,184.52 L117.50,184.21 L117.55,183.90 L117.60,183.60 L117.65,183.30 L117.70,183.00 L117.76,182.71 L117.82,182.43 L117.89,182.16 L117.96,181.90 L118.04,181.65 L118.12,181.40 L118.20,181.14 L118.29,180.89 L118.37,180.64 L118.46,180.38 L118.54,180.11 L118.62,179.84 L118.70,179.55 L118.77,179.25 L118.84,178.93 L118.90,178.60 L118.96,178.25 L119.01,177.88 L119.07,177.50 L119.12,177.10 L119.17,176.70 L119.22,176.28 L119.26,175.86 L119.31,175.43 L119.35,175.00 L119.39,174.56 L119.43,174.13 L119.46,173.69 L119.50,173.26 L119.54,172.84 L119.57,172.41 L119.60,172.00 L119.63,171.59 L119.66,171.18 L119.68,170.78 L119.70,170.37 L119.72,169.96 L119.74,169.56 L119.76,169.15 L119.78,168.74 L119.79,168.34 L119.81,167.93 L119.82,167.53 L119.83,167.12 L119.85,166.72 L119.87,166.31 L119.88,165.91 L119.90,165.50Z" fill="#e98d9f" stroke="#111" stroke-width="1.35" stroke-linejoin="round"/>
<line x1="110.62" y1="224.7" x2="129.18" y2="224.7" stroke="#2a2a2a" stroke-width="1.1"/>
<line x1="111.67" y1="229.7" x2="128.13" y2="229.7" stroke="#555" stroke-width="0.6"/>
<rect x="118.90" y="187.50" width="2" height="2" fill="#d80a32"/>
<rect x="117.20" y="223.30" width="2" height="2" fill="#d80a32"/>
<rect x="121.10" y="223.30" width="2" height="2" fill="#d80a32"/>
<rect x="118.90" y="227.40" width="2" height="2" fill="#d80a32"/>
<rect x="118.90" y="231.40" width="2" height="2" fill="#d80a32"/>
<path d="M143.40,222.50 L143.56,222.71 L143.73,222.91 L143.90,223.12 L144.07,223.32 L144.25,223.53 L144.42,223.74 L144.60,223.94 L144.77,224.15 L144.94,224.36 L145.10,224.56 L145.26,224.77 L145.41,224.97 L145.55,225.18 L145.68,225.39 L145.80,225.59 L145.90,225.80 L145.99,226.00 L146.07,226.20 L146.13,226.40 L146.19,226.60 L146.23,226.79 L146.27,226.99 L146.30,227.18 L146.33,227.38 L146.35,227.58 L146.37,227.78 L146.39,227.99 L146.41,228.20 L146.43,228.41 L146.45,228.63 L146.47,228.86 L146.50,229.10 L146.52,229.34 L146.52,229.59 L146.51,229.84 L146.49,230.10 L146.46,230.36 L146.42,230.62 L146.39,230.89 L146.37,231.16 L146.36,231.44 L146.36,231.72 L146.38,232.01 L146.42,232.30 L146.49,232.59 L146.59,232.89 L146.72,233.19 L146.90,233.50 L147.14,233.82 L147.45,234.15 L147.83,234.50 L148.25,234.85 L148.72,235.21 L149.21,235.58 L149.71,235.95 L150.21,236.32 L150.70,236.69 L151.17,237.06 L151.61,237.41 L151.99,237.76 L152.31,238.10 L152.57,238.42 L152.73,238.72 L152.80,239.00 L152.77,239.27 L152.65,239.52 L152.45,239.76 L152.18,239.99 L151.85,240.20 L151.48,240.41 L151.06,240.61 L150.62,240.81 L150.17,240.99 L149.71,241.17 L149.25,241.35 L148.81,241.52 L148.39,241.69 L148.01,241.86 L147.68,242.03 L147.40,242.20 L147.16,242.36 L146.94,242.52 L146.74,242.66 L146.55,242.80 L146.37,242.94 L146.21,243.07 L146.05,243.19 L145.91,243.32 L145.77,243.44 L145.64,243.57 L145.51,243.69 L145.39,243.82 L145.27,243.96 L145.14,244.10 L145.02,244.25 L144.90,244.40 L144.78,244.56 L144.66,244.73 L144.56,244.90 L144.45,245.08 L144.36,245.25 L144.26,245.44 L144.17,245.62 L144.09,245.81 L144.00,245.99 L143.92,246.18 L143.84,246.37 L143.75,246.56 L143.67,246.75 L143.58,246.93 L143.49,247.12 L143.40,247.30 L143.40,247.30 L143.31,247.12 L143.22,246.93 L143.13,246.75 L143.05,246.56 L142.96,246.37 L142.88,246.18 L142.80,245.99 L142.71,245.81 L142.63,245.62 L142.54,245.44 L142.44,245.25 L142.35,245.08 L142.24,244.90 L142.14,244.73 L142.02,244.56 L141.90,244.40 L141.78,244.25 L141.66,244.10 L141.53,243.96 L141.41,243.82 L141.29,243.69 L141.16,243.57 L141.03,243.44 L140.89,243.32 L140.75,243.19 L140.59,243.07 L140.43,242.94 L140.25,242.80 L140.06,242.66 L139.86,242.52 L139.64,242.36 L139.40,242.20 L139.12,242.03 L138.79,241.86 L138.41,241.69 L137.99,241.52 L137.55,241.35 L137.09,241.17 L136.63,240.99 L136.18,240.81 L135.74,240.61 L135.32,240.41 L134.95,240.20 L134.62,239.99 L134.35,239.76 L134.15,239.52 L134.03,239.27 L134.00,239.00 L134.07,238.72 L134.23,238.42 L134.49,238.10 L134.81,237.76 L135.19,237.41 L135.63,237.06 L136.10,236.69 L136.59,236.32 L137.09,235.95 L137.59,235.58 L138.08,235.21 L138.55,234.85 L138.97,234.50 L139.35,234.15 L139.66,233.82 L139.90,233.50 L140.08,233.19 L140.21,232.89 L140.31,232.59 L140.38,232.30 L140.42,232.01 L140.44,231.72 L140.44,231.44 L140.43,231.16 L140.41,230.89 L140.38,230.62 L140.34,230.36 L140.31,230.10 L140.29,229.84 L140.28,229.59 L140.28,229.34 L140.30,229.10 L140.33,228.86 L140.35,228.63 L140.37,228.41 L140.39,228.20 L140.41,227.99 L140.43,227.78 L140.45,227.58 L140.47,227.38 L140.50,227.18 L140.53,226.99 L140.57,226.79 L140.61,226.60 L140.67,226.40 L140.73,226.20 L140.81,226.00 L140.90,225.80 L141.00,225.59 L141.12,225.39 L141.25,225.18 L141.39,224.97 L141.54,224.77 L141.70,224.56 L141.86,224.36 L142.03,224.15 L142.20,223.94 L142.38,223.74 L142.55,223.53 L142.73,223.32 L142.90,223.12 L143.07,222.91 L143.24,222.71 L143.40,222.50Z" fill="#88aed3" stroke="#111" stroke-width="1.35" stroke-linejoin="round"/>
<line x1="139.40" y1="234.1" x2="147.40" y2="234.1" stroke="#555" stroke-width="0.6"/>
<line x1="134.00" y1="239" x2="152.80" y2="239" stroke="#2a2a2a" stroke-width="1.1"/>
<rect x="142.40" y="227.40" width="2" height="2" fill="#1a5796"/>
<rect x="142.40" y="233.10" width="2" height="2" fill="#1a5796"/>
<rect x="142.40" y="238.40" width="2" height="2" fill="#1a5796"/>
<path d="M170.90,153.50 L170.92,153.78 L170.93,154.06 L170.94,154.34 L170.95,154.62 L170.96,154.89 L170.97,155.17 L170.98,155.45 L170.99,155.72 L171.01,156.00 L171.02,156.28 L171.04,156.56 L171.06,156.85 L171.09,157.13 L171.12,157.42 L171.16,157.71 L171.20,158.00 L171.25,158.30 L171.30,158.60 L171.37,158.91 L171.43,159.22 L171.50,159.53 L171.57,159.84 L171.65,160.16 L171.72,160.48 L171.81,160.79 L171.89,161.10 L171.97,161.41 L172.06,161.72 L172.14,162.03 L172.23,162.32 L172.32,162.61 L172.40,162.90 L172.49,163.18 L172.58,163.44 L172.67,163.70 L172.77,163.96 L172.87,164.20 L172.97,164.45 L173.07,164.69 L173.17,164.93 L173.27,165.17 L173.37,165.42 L173.47,165.66 L173.56,165.92 L173.65,166.17 L173.74,166.44 L173.82,166.72 L173.90,167.00 L173.98,167.30 L174.05,167.60 L174.13,167.91 L174.20,168.23 L174.28,168.56 L174.35,168.89 L174.42,169.22 L174.49,169.56 L174.55,169.89 L174.61,170.23 L174.66,170.57 L174.70,170.90 L174.74,171.23 L174.77,171.56 L174.79,171.88 L174.80,172.20 L174.80,172.51 L174.80,172.82 L174.78,173.13 L174.76,173.44 L174.73,173.74 L174.69,174.04 L174.65,174.34 L174.61,174.64 L174.55,174.94 L174.50,175.24 L174.44,175.54 L174.38,175.83 L174.31,176.12 L174.24,176.42 L174.17,176.71 L174.10,177.00 L174.02,177.29 L173.93,177.59 L173.83,177.89 L173.72,178.19 L173.60,178.50 L173.48,178.80 L173.35,179.10 L173.23,179.39 L173.11,179.69 L172.99,179.97 L172.88,180.25 L172.78,180.52 L172.69,180.78 L172.61,181.04 L172.55,181.27 L172.50,181.50 L172.47,181.71 L172.44,181.89 L172.43,182.06 L172.42,182.22 L172.42,182.36 L172.42,182.49 L172.44,182.62 L172.46,182.74 L172.49,182.87 L172.53,183.00 L172.57,183.13 L172.63,183.27 L172.69,183.43 L172.75,183.60 L172.82,183.79 L172.90,184.00 L172.99,184.23 L173.08,184.46 L173.19,184.71 L173.30,184.96 L173.42,185.22 L173.55,185.49 L173.69,185.77 L173.83,186.06 L173.98,186.35 L174.13,186.65 L174.29,186.96 L174.44,187.27 L174.61,187.60 L174.77,187.92 L174.93,188.26 L175.10,188.60 L175.27,188.95 L175.45,189.31 L175.64,189.67 L175.83,190.05 L176.03,190.43 L176.23,190.82 L176.44,191.21 L176.64,191.61 L176.85,192.02 L177.06,192.43 L177.26,192.85 L177.46,193.27 L177.66,193.70 L177.84,194.13 L178.03,194.56 L178.20,195.00 L178.37,195.44 L178.56,195.88 L178.75,196.33 L178.94,196.78 L179.14,197.23 L179.33,197.69 L179.51,198.15 L179.69,198.62 L179.86,199.09 L180.02,199.57 L180.16,200.06 L180.27,200.55 L180.37,201.05 L180.44,201.56 L180.49,202.08 L180.50,202.60 L180.48,203.14 L180.44,203.70 L180.38,204.27 L180.30,204.86 L180.19,205.46 L180.07,206.06 L179.93,206.67 L179.77,207.29 L179.60,207.90 L179.41,208.51 L179.21,209.11 L179.01,209.70 L178.79,210.27 L178.57,210.84 L178.34,211.38 L178.10,211.90 L177.85,212.39 L177.56,212.85 L177.25,213.29 L176.92,213.70 L176.57,214.10 L176.21,214.49 L175.85,214.87 L175.47,215.25 L175.10,215.64 L174.74,216.03 L174.38,216.44 L174.04,216.87 L173.72,217.33 L173.42,217.82 L173.14,218.34 L172.90,218.90 L172.69,219.50 L172.50,220.14 L172.33,220.80 L172.18,221.49 L172.04,222.21 L171.92,222.94 L171.80,223.69 L171.70,224.46 L171.60,225.23 L171.51,226.01 L171.42,226.79 L171.33,227.56 L171.23,228.34 L171.13,229.11 L171.02,229.86 L170.90,230.60 L170.90,230.60 L170.78,229.86 L170.67,229.11 L170.57,228.34 L170.47,227.56 L170.38,226.79 L170.29,226.01 L170.20,225.23 L170.10,224.46 L170.00,223.69 L169.88,222.94 L169.76,222.21 L169.62,221.49 L169.47,220.80 L169.30,220.14 L169.11,219.50 L168.90,218.90 L168.66,218.34 L168.38,217.82 L168.08,217.33 L167.76,216.87 L167.42,216.44 L167.06,216.03 L166.70,215.64 L166.33,215.25 L165.95,214.87 L165.59,214.49 L165.23,214.10 L164.88,213.70 L164.55,213.29 L164.24,212.85 L163.95,212.39 L163.70,211.90 L163.46,211.38 L163.23,210.84 L163.01,210.27 L162.79,209.70 L162.59,209.11 L162.39,208.51 L162.20,207.90 L162.03,207.29 L161.87,206.67 L161.73,206.06 L161.61,205.46 L161.50,204.86 L161.42,204.27 L161.36,203.70 L161.32,203.14 L161.30,202.60 L161.31,202.08 L161.36,201.56 L161.43,201.05 L161.53,200.55 L161.64,200.06 L161.78,199.57 L161.94,199.09 L162.11,198.62 L162.29,198.15 L162.47,197.69 L162.66,197.23 L162.86,196.78 L163.05,196.33 L163.24,195.88 L163.43,195.44 L163.60,195.00 L163.77,194.56 L163.96,194.13 L164.14,193.70 L164.34,193.27 L164.54,192.85 L164.74,192.43 L164.95,192.02 L165.16,191.61 L165.36,191.21 L165.57,190.82 L165.77,190.43 L165.97,190.05 L166.16,189.67 L166.35,189.31 L166.53,188.95 L166.70,188.60 L166.87,188.26 L167.03,187.92 L167.19,187.60 L167.36,187.27 L167.51,186.96 L167.67,186.65 L167.82,186.35 L167.97,186.06 L168.11,185.77 L168.25,185.49 L168.38,185.22 L168.50,184.96 L168.61,184.71 L168.72,184.46 L168.81,184.23 L168.90,184.00 L168.98,183.79 L169.05,183.60 L169.11,183.43 L169.17,183.27 L169.23,183.13 L169.27,183.00 L169.31,182.87 L169.34,182.74 L169.36,182.62 L169.38,182.49 L169.38,182.36 L169.38,182.22 L169.37,182.06 L169.36,181.89 L169.33,181.71 L169.30,181.50 L169.25,181.27 L169.19,181.04 L169.11,180.78 L169.02,180.52 L168.92,180.25 L168.81,179.97 L168.69,179.69 L168.57,179.39 L168.45,179.10 L168.32,178.80 L168.20,178.50 L168.08,178.19 L167.97,177.89 L167.87,177.59 L167.78,177.29 L167.70,177.00 L167.63,176.71 L167.56,176.42 L167.49,176.12 L167.42,175.83 L167.36,175.54 L167.30,175.24 L167.25,174.94 L167.19,174.64 L167.15,174.34 L167.11,174.04 L167.07,173.74 L167.04,173.44 L167.02,173.13 L167.00,172.82 L167.00,172.51 L167.00,172.20 L167.01,171.88 L167.03,171.56 L167.06,171.23 L167.10,170.90 L167.14,170.57 L167.19,170.23 L167.25,169.89 L167.31,169.56 L167.38,169.22 L167.45,168.89 L167.52,168.56 L167.60,168.23 L167.67,167.91 L167.75,167.60 L167.82,167.30 L167.90,167.00 L167.98,166.72 L168.06,166.44 L168.15,166.17 L168.24,165.92 L168.33,165.66 L168.43,165.42 L168.53,165.17 L168.63,164.93 L168.73,164.69 L168.83,164.45 L168.93,164.20 L169.03,163.96 L169.13,163.70 L169.22,163.44 L169.31,163.18 L169.40,162.90 L169.48,162.61 L169.57,162.32 L169.66,162.03 L169.74,161.72 L169.83,161.41 L169.91,161.10 L169.99,160.79 L170.08,160.48 L170.15,160.16 L170.23,159.84 L170.30,159.53 L170.37,159.22 L170.43,158.91 L170.50,158.60 L170.55,158.30 L170.60,158.00 L170.64,157.71 L170.68,157.42 L170.71,157.13 L170.74,156.85 L170.76,156.56 L170.78,156.28 L170.79,156.00 L170.81,155.72 L170.82,155.45 L170.83,155.17 L170.84,154.89 L170.85,154.62 L170.86,154.34 L170.87,154.06 L170.88,153.78 L170.90,153.50Z" fill="#e98d9f" stroke="#111" stroke-width="1.35" stroke-linejoin="round"/>
<line x1="161.61" y1="200.2" x2="180.19" y2="200.2" stroke="#2a2a2a" stroke-width="1.1"/>
<line x1="162.52" y1="208.9" x2="179.28" y2="208.9" stroke="#555" stroke-width="0.6"/>
<rect x="169.90" y="172.40" width="2" height="2" fill="#d80a32"/>
<rect x="169.90" y="192.90" width="2" height="2" fill="#d80a32"/>
<rect x="169.90" y="199.20" width="2" height="2" fill="#d80a32"/>
<rect x="169.90" y="206.90" width="2" height="2" fill="#d80a32"/>
<rect x="169.90" y="209.70" width="2" height="2" fill="#d80a32"/>
<path d="M194.30,197.90 L194.32,198.09 L194.35,198.29 L194.37,198.49 L194.38,198.68 L194.40,198.88 L194.42,199.08 L194.44,199.28 L194.46,199.47 L194.48,199.67 L194.50,199.87 L194.52,200.06 L194.55,200.25 L194.58,200.44 L194.62,200.63 L194.66,200.82 L194.70,201.00 L194.75,201.18 L194.80,201.36 L194.86,201.54 L194.92,201.71 L194.98,201.89 L195.04,202.06 L195.11,202.23 L195.18,202.40 L195.25,202.57 L195.33,202.73 L195.40,202.90 L195.48,203.06 L195.56,203.22 L195.64,203.38 L195.72,203.54 L195.80,203.70 L195.88,203.85 L195.97,204.00 L196.07,204.14 L196.16,204.27 L196.26,204.40 L196.36,204.53 L196.46,204.66 L196.56,204.79 L196.66,204.93 L196.76,205.06 L196.86,205.20 L196.96,205.34 L197.05,205.49 L197.14,205.65 L197.22,205.82 L197.30,206.00 L197.38,206.19 L197.45,206.39 L197.53,206.59 L197.60,206.80 L197.68,207.02 L197.75,207.24 L197.82,207.47 L197.89,207.70 L197.95,207.93 L198.01,208.17 L198.06,208.41 L198.10,208.65 L198.14,208.89 L198.17,209.13 L198.19,209.36 L198.20,209.60 L198.20,209.83 L198.19,210.07 L198.16,210.31 L198.13,210.54 L198.09,210.78 L198.04,211.02 L197.98,211.26 L197.93,211.51 L197.86,211.75 L197.80,212.00 L197.74,212.24 L197.68,212.49 L197.63,212.74 L197.58,212.99 L197.54,213.24 L197.50,213.50 L197.46,213.76 L197.42,214.03 L197.38,214.30 L197.33,214.58 L197.28,214.87 L197.23,215.15 L197.18,215.44 L197.14,215.73 L197.11,216.01 L197.08,216.29 L197.07,216.56 L197.06,216.83 L197.07,217.09 L197.10,217.34 L197.14,217.57 L197.20,217.80 L197.28,218.01 L197.38,218.21 L197.50,218.39 L197.62,218.56 L197.77,218.72 L197.92,218.88 L198.09,219.03 L198.26,219.18 L198.44,219.33 L198.63,219.48 L198.82,219.63 L199.02,219.79 L199.22,219.95 L199.41,220.12 L199.61,220.30 L199.80,220.50 L200.01,220.71 L200.24,220.92 L200.49,221.13 L200.75,221.35 L201.03,221.58 L201.31,221.80 L201.59,222.04 L201.87,222.28 L202.14,222.52 L202.39,222.76 L202.62,223.01 L202.83,223.26 L203.00,223.52 L203.14,223.77 L203.24,224.04 L203.30,224.30 L203.30,224.57 L203.25,224.85 L203.15,225.14 L203.01,225.43 L202.83,225.73 L202.63,226.03 L202.42,226.33 L202.19,226.64 L201.95,226.94 L201.72,227.25 L201.50,227.55 L201.30,227.85 L201.12,228.15 L200.97,228.44 L200.86,228.72 L200.80,229.00 L200.78,229.27 L200.81,229.53 L200.87,229.79 L200.95,230.05 L201.06,230.30 L201.19,230.55 L201.33,230.80 L201.47,231.04 L201.61,231.29 L201.75,231.53 L201.87,231.77 L201.97,232.02 L202.06,232.26 L202.11,232.50 L202.12,232.75 L202.10,233.00 L202.04,233.25 L201.95,233.50 L201.84,233.74 L201.70,233.99 L201.55,234.23 L201.38,234.47 L201.20,234.72 L201.00,234.96 L200.79,235.21 L200.58,235.46 L200.36,235.71 L200.15,235.96 L199.93,236.21 L199.71,236.47 L199.50,236.73 L199.30,237.00 L199.10,237.27 L198.88,237.53 L198.66,237.80 L198.43,238.06 L198.19,238.33 L197.95,238.60 L197.71,238.87 L197.47,239.14 L197.23,239.42 L197.00,239.71 L196.77,240.00 L196.55,240.30 L196.34,240.61 L196.15,240.93 L195.97,241.26 L195.80,241.60 L195.65,241.95 L195.52,242.32 L195.39,242.70 L195.28,243.09 L195.18,243.49 L195.09,243.90 L195.01,244.31 L194.93,244.73 L194.85,245.15 L194.77,245.58 L194.70,246.00 L194.63,246.43 L194.55,246.85 L194.47,247.27 L194.39,247.69 L194.30,248.10 L194.30,248.10 L194.21,247.69 L194.13,247.27 L194.05,246.85 L193.97,246.43 L193.90,246.00 L193.83,245.58 L193.75,245.15 L193.68,244.73 L193.59,244.31 L193.51,243.90 L193.42,243.49 L193.32,243.09 L193.21,242.70 L193.08,242.32 L192.95,241.95 L192.80,241.60 L192.63,241.26 L192.45,240.93 L192.26,240.61 L192.05,240.30 L191.83,240.00 L191.60,239.71 L191.37,239.42 L191.13,239.14 L190.89,238.87 L190.65,238.60 L190.41,238.33 L190.17,238.06 L189.94,237.80 L189.72,237.53 L189.50,237.27 L189.30,237.00 L189.10,236.73 L188.89,236.47 L188.67,236.21 L188.45,235.96 L188.24,235.71 L188.02,235.46 L187.81,235.21 L187.60,234.96 L187.40,234.72 L187.22,234.47 L187.05,234.23 L186.90,233.99 L186.76,233.74 L186.65,233.50 L186.56,233.25 L186.50,233.00 L186.48,232.75 L186.49,232.50 L186.54,232.26 L186.63,232.02 L186.73,231.77 L186.85,231.53 L186.99,231.29 L187.13,231.04 L187.27,230.80 L187.41,230.55 L187.54,230.30 L187.65,230.05 L187.73,229.79 L187.79,229.53 L187.82,229.27 L187.80,229.00 L187.74,228.72 L187.63,228.44 L187.48,228.15 L187.30,227.85 L187.10,227.55 L186.88,227.25 L186.65,226.94 L186.41,226.64 L186.18,226.33 L185.97,226.03 L185.77,225.73 L185.59,225.43 L185.45,225.14 L185.35,224.85 L185.30,224.57 L185.30,224.30 L185.36,224.04 L185.46,223.77 L185.60,223.52 L185.77,223.26 L185.98,223.01 L186.21,222.76 L186.46,222.52 L186.73,222.28 L187.01,222.04 L187.29,221.80 L187.57,221.58 L187.85,221.35 L188.11,221.13 L188.36,220.92 L188.59,220.71 L188.80,220.50 L188.99,220.30 L189.19,220.12 L189.38,219.95 L189.58,219.79 L189.78,219.63 L189.97,219.48 L190.16,219.33 L190.34,219.18 L190.51,219.03 L190.68,218.88 L190.83,218.72 L190.98,218.56 L191.10,218.39 L191.22,218.21 L191.32,218.01 L191.40,217.80 L191.46,217.57 L191.50,217.34 L191.53,217.09 L191.54,216.83 L191.53,216.56 L191.52,216.29 L191.49,216.01 L191.46,215.73 L191.42,215.44 L191.37,215.15 L191.32,214.87 L191.27,214.58 L191.22,214.30 L191.18,214.03 L191.14,213.76 L191.10,213.50 L191.06,213.24 L191.02,212.99 L190.97,212.74 L190.92,212.49 L190.86,212.24 L190.80,212.00 L190.74,211.75 L190.68,211.51 L190.62,211.26 L190.56,211.02 L190.51,210.78 L190.47,210.54 L190.44,210.31 L190.41,210.07 L190.40,209.83 L190.40,209.60 L190.41,209.36 L190.43,209.13 L190.46,208.89 L190.50,208.65 L190.54,208.41 L190.59,208.17 L190.65,207.93 L190.71,207.70 L190.78,207.47 L190.85,207.24 L190.92,207.02 L191.00,206.80 L191.07,206.59 L191.15,206.39 L191.22,206.19 L191.30,206.00 L191.38,205.82 L191.46,205.65 L191.55,205.49 L191.64,205.34 L191.74,205.20 L191.84,205.06 L191.94,204.93 L192.04,204.79 L192.14,204.66 L192.24,204.53 L192.34,204.40 L192.44,204.27 L192.53,204.14 L192.63,204.00 L192.72,203.85 L192.80,203.70 L192.88,203.54 L192.96,203.38 L193.04,203.22 L193.12,203.06 L193.20,202.90 L193.27,202.73 L193.35,202.57 L193.42,202.40 L193.49,202.23 L193.56,202.06 L193.62,201.89 L193.68,201.71 L193.74,201.54 L193.80,201.36 L193.85,201.18 L193.90,201.00 L193.94,200.82 L193.98,200.63 L194.02,200.44 L194.05,200.25 L194.08,200.06 L194.10,199.87 L194.12,199.67 L194.14,199.47 L194.16,199.28 L194.18,199.08 L194.20,198.88 L194.22,198.68 L194.23,198.49 L194.25,198.29 L194.28,198.09 L194.30,197.90Z" fill="#88aed3" stroke="#111" stroke-width="1.35" stroke-linejoin="round"/>
<line x1="185.30" y1="224.3" x2="203.30" y2="224.3" stroke="#2a2a2a" stroke-width="1.1"/>
<line x1="186.56" y1="232.2" x2="202.04" y2="232.2" stroke="#555" stroke-width="0.6"/>
<rect x="193.30" y="209.30" width="2" height="2" fill="#1a5796"/>
<rect x="191.40" y="223.30" width="2" height="2" fill="#1a5796"/>
<rect x="194.90" y="223.30" width="2" height="2" fill="#1a5796"/>
<rect x="193.30" y="230.80" width="2" height="2" fill="#1a5796"/>
<rect x="193.30" y="234.30" width="2" height="2" fill="#1a5796"/>
<path d="M222.00,191.80 L222.06,192.23 L222.12,192.66 L222.17,193.09 L222.22,193.52 L222.27,193.96 L222.31,194.39 L222.36,194.83 L222.41,195.26 L222.47,195.69 L222.52,196.12 L222.58,196.55 L222.65,196.97 L222.73,197.39 L222.81,197.80 L222.90,198.20 L223.00,198.60 L223.12,198.99 L223.26,199.37 L223.42,199.75 L223.60,200.12 L223.79,200.49 L223.98,200.86 L224.18,201.22 L224.38,201.57 L224.57,201.93 L224.75,202.28 L224.91,202.64 L225.06,202.99 L225.19,203.34 L225.29,203.69 L225.36,204.04 L225.40,204.40 L225.40,204.76 L225.37,205.13 L225.30,205.51 L225.21,205.89 L225.10,206.28 L224.97,206.66 L224.83,207.04 L224.68,207.42 L224.52,207.79 L224.36,208.15 L224.20,208.50 L224.05,208.84 L223.91,209.16 L223.79,209.46 L223.68,209.74 L223.60,210.00 L223.53,210.23 L223.47,210.44 L223.42,210.63 L223.37,210.79 L223.33,210.94 L223.29,211.07 L223.26,211.20 L223.24,211.31 L223.22,211.42 L223.20,211.53 L223.19,211.64 L223.18,211.75 L223.18,211.87 L223.18,212.00 L223.19,212.14 L223.20,212.30 L223.21,212.46 L223.20,212.60 L223.19,212.73 L223.17,212.85 L223.16,212.97 L223.14,213.09 L223.14,213.22 L223.14,213.36 L223.16,213.51 L223.20,213.68 L223.26,213.87 L223.34,214.08 L223.46,214.33 L223.60,214.61 L223.78,214.94 L224.00,215.30 L224.28,215.72 L224.64,216.19 L225.07,216.72 L225.55,217.28 L226.07,217.89 L226.62,218.51 L227.18,219.16 L227.74,219.82 L228.30,220.49 L228.84,221.16 L229.34,221.81 L229.79,222.45 L230.19,223.07 L230.51,223.65 L230.75,224.20 L230.90,224.70 L230.95,225.16 L230.93,225.61 L230.83,226.03 L230.68,226.43 L230.47,226.82 L230.21,227.20 L229.92,227.56 L229.60,227.91 L229.26,228.25 L228.91,228.58 L228.55,228.90 L228.20,229.23 L227.86,229.54 L227.54,229.86 L227.25,230.18 L227.00,230.50 L226.77,230.81 L226.53,231.11 L226.29,231.40 L226.05,231.67 L225.81,231.94 L225.57,232.20 L225.33,232.46 L225.10,232.71 L224.87,232.97 L224.65,233.23 L224.43,233.50 L224.22,233.77 L224.03,234.06 L223.84,234.36 L223.66,234.67 L223.50,235.00 L223.35,235.35 L223.22,235.71 L223.09,236.08 L222.98,236.47 L222.88,236.86 L222.79,237.26 L222.71,237.67 L222.62,238.08 L222.55,238.50 L222.47,238.92 L222.40,239.34 L222.33,239.76 L222.25,240.17 L222.17,240.59 L222.09,241.00 L222.00,241.40 L222.00,241.40 L221.91,241.00 L221.83,240.59 L221.75,240.17 L221.67,239.76 L221.60,239.34 L221.53,238.92 L221.45,238.50 L221.38,238.08 L221.29,237.67 L221.21,237.26 L221.12,236.86 L221.02,236.47 L220.91,236.08 L220.78,235.71 L220.65,235.35 L220.50,235.00 L220.34,234.67 L220.16,234.36 L219.97,234.06 L219.78,233.77 L219.57,233.50 L219.35,233.23 L219.13,232.97 L218.90,232.71 L218.67,232.46 L218.43,232.20 L218.19,231.94 L217.95,231.67 L217.71,231.40 L217.47,231.11 L217.23,230.81 L217.00,230.50 L216.75,230.18 L216.46,229.86 L216.14,229.54 L215.80,229.23 L215.45,228.90 L215.09,228.58 L214.74,228.25 L214.40,227.91 L214.08,227.56 L213.79,227.20 L213.53,226.82 L213.32,226.43 L213.17,226.03 L213.07,225.61 L213.05,225.16 L213.10,224.70 L213.25,224.20 L213.49,223.65 L213.81,223.07 L214.21,222.45 L214.66,221.81 L215.16,221.16 L215.70,220.49 L216.26,219.82 L216.82,219.16 L217.38,218.51 L217.93,217.89 L218.45,217.28 L218.93,216.72 L219.36,216.19 L219.72,215.72 L220.00,215.30 L220.22,214.94 L220.40,214.61 L220.54,214.33 L220.66,214.08 L220.74,213.87 L220.80,213.68 L220.84,213.51 L220.86,213.36 L220.86,213.22 L220.86,213.09 L220.84,212.97 L220.83,212.85 L220.81,212.73 L220.80,212.60 L220.79,212.46 L220.80,212.30 L220.81,212.14 L220.82,212.00 L220.82,211.87 L220.82,211.75 L220.81,211.64 L220.80,211.53 L220.78,211.42 L220.76,211.31 L220.74,211.20 L220.71,211.07 L220.67,210.94 L220.63,210.79 L220.58,210.63 L220.53,210.44 L220.47,210.23 L220.40,210.00 L220.32,209.74 L220.21,209.46 L220.09,209.16 L219.95,208.84 L219.80,208.50 L219.64,208.15 L219.48,207.79 L219.32,207.42 L219.17,207.04 L219.03,206.66 L218.90,206.28 L218.79,205.89 L218.70,205.51 L218.63,205.13 L218.60,204.76 L218.60,204.40 L218.64,204.04 L218.71,203.69 L218.81,203.34 L218.94,202.99 L219.09,202.64 L219.25,202.28 L219.43,201.93 L219.62,201.57 L219.82,201.22 L220.02,200.86 L220.21,200.49 L220.40,200.12 L220.58,199.75 L220.74,199.37 L220.88,198.99 L221.00,198.60 L221.10,198.20 L221.19,197.80 L221.27,197.39 L221.35,196.97 L221.42,196.55 L221.48,196.12 L221.53,195.69 L221.59,195.26 L221.64,194.83 L221.69,194.39 L221.73,193.96 L221.78,193.52 L221.83,193.09 L221.88,192.66 L221.94,192.23 L222.00,191.80Z" fill="#e98d9f" stroke="#111" stroke-width="1.35" stroke-linejoin="round"/>
<line x1="213.52" y1="223.6" x2="230.48" y2="223.6" stroke="#2a2a2a" stroke-width="1.1"/>
<line x1="213.07" y1="225.6" x2="230.93" y2="225.6" stroke="#555" stroke-width="0.6"/>
<rect x="221.00" y="203.40" width="2" height="2" fill="#d80a32"/>
<rect x="221.00" y="220.40" width="2" height="2" fill="#d80a32"/>
<rect x="219.20" y="227.20" width="2" height="2" fill="#d80a32"/>
<rect x="222.90" y="226.10" width="2" height="2" fill="#d80a32"/>
<rect x="221.00" y="223.10" width="2" height="2" fill="#d80a32"/>
<path d="M245.20,223.60 L245.39,223.84 L245.59,224.08 L245.78,224.32 L245.99,224.57 L246.19,224.81 L246.39,225.06 L246.59,225.30 L246.79,225.54 L246.99,225.79 L247.18,226.03 L247.37,226.26 L247.56,226.50 L247.73,226.73 L247.90,226.96 L248.05,227.18 L248.20,227.40 L248.33,227.61 L248.44,227.82 L248.53,228.03 L248.61,228.23 L248.68,228.43 L248.74,228.63 L248.79,228.83 L248.85,229.02 L248.91,229.21 L248.98,229.40 L249.05,229.58 L249.14,229.77 L249.25,229.95 L249.37,230.14 L249.52,230.32 L249.70,230.50 L249.92,230.68 L250.19,230.86 L250.51,231.04 L250.86,231.22 L251.23,231.40 L251.62,231.58 L252.02,231.76 L252.41,231.93 L252.79,232.10 L253.15,232.27 L253.47,232.44 L253.76,232.60 L253.99,232.76 L254.17,232.91 L254.27,233.06 L254.30,233.20 L254.24,233.34 L254.10,233.46 L253.89,233.59 L253.61,233.70 L253.28,233.81 L252.92,233.92 L252.52,234.02 L252.10,234.12 L251.67,234.23 L251.24,234.33 L250.82,234.43 L250.41,234.54 L250.04,234.64 L249.71,234.76 L249.42,234.88 L249.20,235.00 L249.03,235.13 L248.89,235.26 L248.77,235.40 L248.69,235.54 L248.62,235.69 L248.57,235.83 L248.53,235.98 L248.51,236.13 L248.49,236.27 L248.47,236.42 L248.45,236.57 L248.42,236.72 L248.39,236.87 L248.34,237.01 L248.28,237.16 L248.20,237.30 L248.10,237.44 L247.99,237.58 L247.87,237.71 L247.75,237.84 L247.62,237.97 L247.48,238.11 L247.34,238.24 L247.20,238.37 L247.06,238.50 L246.92,238.64 L246.78,238.77 L246.65,238.91 L246.53,239.05 L246.41,239.20 L246.30,239.35 L246.20,239.50 L246.11,239.66 L246.03,239.82 L245.95,239.99 L245.88,240.16 L245.81,240.33 L245.75,240.51 L245.69,240.68 L245.64,240.86 L245.58,241.04 L245.53,241.22 L245.48,241.40 L245.43,241.59 L245.37,241.77 L245.32,241.95 L245.26,242.12 L245.20,242.30 L245.20,242.30 L245.14,242.12 L245.08,241.95 L245.03,241.77 L244.97,241.59 L244.92,241.40 L244.87,241.22 L244.82,241.04 L244.76,240.86 L244.71,240.68 L244.65,240.51 L244.59,240.33 L244.52,240.16 L244.45,239.99 L244.37,239.82 L244.29,239.66 L244.20,239.50 L244.10,239.35 L243.99,239.20 L243.87,239.05 L243.75,238.91 L243.62,238.77 L243.48,238.64 L243.34,238.50 L243.20,238.37 L243.06,238.24 L242.92,238.11 L242.78,237.97 L242.65,237.84 L242.53,237.71 L242.41,237.58 L242.30,237.44 L242.20,237.30 L242.12,237.16 L242.06,237.01 L242.01,236.87 L241.98,236.72 L241.95,236.57 L241.93,236.42 L241.91,236.27 L241.89,236.13 L241.87,235.98 L241.83,235.83 L241.78,235.69 L241.71,235.54 L241.63,235.40 L241.51,235.26 L241.37,235.13 L241.20,235.00 L240.98,234.88 L240.69,234.76 L240.36,234.64 L239.99,234.54 L239.58,234.43 L239.16,234.33 L238.73,234.23 L238.30,234.12 L237.88,234.02 L237.48,233.92 L237.12,233.81 L236.79,233.70 L236.51,233.59 L236.30,233.46 L236.16,233.34 L236.10,233.20 L236.13,233.06 L236.23,232.91 L236.41,232.76 L236.64,232.60 L236.93,232.44 L237.25,232.27 L237.61,232.10 L237.99,231.93 L238.38,231.76 L238.78,231.58 L239.17,231.40 L239.54,231.22 L239.89,231.04 L240.21,230.86 L240.48,230.68 L240.70,230.50 L240.88,230.32 L241.03,230.14 L241.15,229.95 L241.26,229.77 L241.35,229.58 L241.42,229.40 L241.49,229.21 L241.55,229.02 L241.61,228.83 L241.66,228.63 L241.72,228.43 L241.79,228.23 L241.87,228.03 L241.96,227.82 L242.07,227.61 L242.20,227.40 L242.35,227.18 L242.50,226.96 L242.67,226.73 L242.84,226.50 L243.03,226.26 L243.22,226.03 L243.41,225.79 L243.61,225.54 L243.81,225.30 L244.01,225.06 L244.21,224.81 L244.41,224.57 L244.62,224.32 L244.81,224.08 L245.01,223.84 L245.20,223.60Z" fill="#88aed3" stroke="#111" stroke-width="1.35" stroke-linejoin="round"/>
<line x1="240.70" y1="230.5" x2="249.70" y2="230.5" stroke="#555" stroke-width="0.6"/>
<line x1="236.36" y1="233.5" x2="254.04" y2="233.5" stroke="#2a2a2a" stroke-width="1.1"/>
<rect x="244.20" y="228.20" width="2" height="2" fill="#1a5796"/>
<rect x="244.20" y="232.20" width="2" height="2" fill="#1a5796"/>
<rect x="244.20" y="235.50" width="2" height="2" fill="#1a5796"/>
<path d="M273.00,211.00 L273.03,211.19 L273.06,211.38 L273.08,211.58 L273.11,211.77 L273.13,211.97 L273.15,212.17 L273.18,212.37 L273.20,212.56 L273.23,212.76 L273.25,212.95 L273.28,213.14 L273.32,213.32 L273.36,213.50 L273.40,213.67 L273.45,213.84 L273.50,214.00 L273.56,214.15 L273.62,214.29 L273.69,214.42 L273.76,214.54 L273.84,214.65 L273.92,214.76 L274.00,214.86 L274.09,214.97 L274.17,215.08 L274.26,215.18 L274.35,215.30 L274.44,215.42 L274.53,215.55 L274.62,215.69 L274.71,215.84 L274.80,216.00 L274.89,216.18 L275.00,216.37 L275.11,216.57 L275.22,216.78 L275.34,217.00 L275.46,217.22 L275.58,217.45 L275.70,217.69 L275.81,217.92 L275.92,218.16 L276.02,218.39 L276.10,218.62 L276.18,218.85 L276.24,219.08 L276.28,219.29 L276.30,219.50 L276.30,219.70 L276.29,219.90 L276.25,220.10 L276.21,220.29 L276.14,220.48 L276.07,220.67 L275.99,220.86 L275.91,221.04 L275.81,221.23 L275.72,221.41 L275.62,221.59 L275.53,221.78 L275.44,221.96 L275.35,222.14 L275.27,222.32 L275.20,222.50 L275.13,222.68 L275.05,222.86 L274.97,223.05 L274.88,223.23 L274.79,223.41 L274.69,223.59 L274.60,223.77 L274.52,223.95 L274.44,224.13 L274.37,224.30 L274.30,224.48 L274.25,224.65 L274.21,224.81 L274.19,224.98 L274.19,225.14 L274.20,225.30 L274.23,225.45 L274.26,225.58 L274.30,225.70 L274.35,225.82 L274.41,225.92 L274.49,226.03 L274.57,226.13 L274.66,226.24 L274.77,226.35 L274.89,226.47 L275.03,226.60 L275.19,226.74 L275.36,226.90 L275.55,227.08 L275.77,227.28 L276.00,227.50 L276.28,227.75 L276.61,228.03 L277.00,228.34 L277.43,228.66 L277.88,229.00 L278.36,229.36 L278.85,229.72 L279.33,230.09 L279.81,230.47 L280.26,230.84 L280.69,231.22 L281.07,231.58 L281.40,231.93 L281.68,232.27 L281.88,232.60 L282.00,232.90 L282.04,233.18 L282.02,233.46 L281.94,233.72 L281.80,233.97 L281.62,234.22 L281.41,234.45 L281.15,234.69 L280.88,234.92 L280.58,235.15 L280.27,235.37 L279.95,235.60 L279.63,235.83 L279.32,236.07 L279.03,236.30 L278.75,236.55 L278.50,236.80 L278.26,237.06 L278.01,237.31 L277.75,237.56 L277.48,237.82 L277.20,238.07 L276.93,238.33 L276.65,238.59 L276.38,238.85 L276.10,239.11 L275.84,239.38 L275.58,239.65 L275.34,239.93 L275.10,240.21 L274.88,240.50 L274.68,240.80 L274.50,241.10 L274.34,241.41 L274.19,241.73 L274.06,242.06 L273.95,242.39 L273.85,242.73 L273.75,243.07 L273.67,243.42 L273.59,243.78 L273.52,244.13 L273.45,244.48 L273.38,244.84 L273.32,245.20 L273.25,245.55 L273.17,245.90 L273.09,246.25 L273.00,246.60 L273.00,246.60 L272.91,246.25 L272.83,245.90 L272.75,245.55 L272.68,245.20 L272.62,244.84 L272.55,244.48 L272.48,244.13 L272.41,243.78 L272.33,243.42 L272.25,243.07 L272.15,242.73 L272.05,242.39 L271.94,242.06 L271.81,241.73 L271.66,241.41 L271.50,241.10 L271.32,240.80 L271.12,240.50 L270.90,240.21 L270.66,239.93 L270.42,239.65 L270.16,239.38 L269.90,239.11 L269.62,238.85 L269.35,238.59 L269.07,238.33 L268.80,238.07 L268.52,237.82 L268.25,237.56 L267.99,237.31 L267.74,237.06 L267.50,236.80 L267.25,236.55 L266.97,236.30 L266.68,236.07 L266.37,235.83 L266.05,235.60 L265.73,235.37 L265.42,235.15 L265.12,234.92 L264.85,234.69 L264.59,234.45 L264.38,234.22 L264.20,233.97 L264.06,233.72 L263.98,233.46 L263.96,233.18 L264.00,232.90 L264.12,232.60 L264.32,232.27 L264.60,231.93 L264.93,231.58 L265.31,231.22 L265.74,230.84 L266.19,230.47 L266.67,230.09 L267.15,229.72 L267.64,229.36 L268.12,229.00 L268.57,228.66 L269.00,228.34 L269.39,228.03 L269.72,227.75 L270.00,227.50 L270.23,227.28 L270.45,227.08 L270.64,226.90 L270.81,226.74 L270.97,226.60 L271.11,226.47 L271.23,226.35 L271.34,226.24 L271.43,226.13 L271.51,226.03 L271.59,225.92 L271.65,225.82 L271.70,225.70 L271.74,225.58 L271.77,225.45 L271.80,225.30 L271.81,225.14 L271.81,224.98 L271.79,224.81 L271.75,224.65 L271.70,224.48 L271.63,224.30 L271.56,224.13 L271.48,223.95 L271.40,223.77 L271.31,223.59 L271.21,223.41 L271.12,223.23 L271.03,223.05 L270.95,222.86 L270.87,222.68 L270.80,222.50 L270.73,222.32 L270.65,222.14 L270.56,221.96 L270.47,221.78 L270.38,221.59 L270.28,221.41 L270.19,221.23 L270.09,221.04 L270.01,220.86 L269.93,220.67 L269.86,220.48 L269.79,220.29 L269.75,220.10 L269.71,219.90 L269.70,219.70 L269.70,219.50 L269.72,219.29 L269.76,219.08 L269.82,218.85 L269.90,218.62 L269.98,218.39 L270.08,218.16 L270.19,217.92 L270.30,217.69 L270.42,217.45 L270.54,217.22 L270.66,217.00 L270.78,216.78 L270.89,216.57 L271.00,216.37 L271.11,216.18 L271.20,216.00 L271.29,215.84 L271.38,215.69 L271.47,215.55 L271.56,215.42 L271.65,215.30 L271.74,215.18 L271.83,215.08 L271.91,214.97 L272.00,214.86 L272.08,214.76 L272.16,214.65 L272.24,214.54 L272.31,214.42 L272.38,214.29 L272.44,214.15 L272.50,214.00 L272.55,213.84 L272.60,213.67 L272.64,213.50 L272.68,213.32 L272.72,213.14 L272.75,212.95 L272.77,212.76 L272.80,212.56 L272.82,212.37 L272.85,212.17 L272.87,211.97 L272.89,211.77 L272.92,211.58 L272.94,211.38 L272.97,211.19 L273.00,211.00Z" fill="#e98d9f" stroke="#111" stroke-width="1.35" stroke-linejoin="round"/>
<line x1="265.23" y1="231.3" x2="280.77" y2="231.3" stroke="#555" stroke-width="0.6"/>
<line x1="263.97" y1="233.3" x2="282.03" y2="233.3" stroke="#2a2a2a" stroke-width="1.1"/>
<line x1="265.36" y1="235.1" x2="280.64" y2="235.1" stroke="#555" stroke-width="0.6"/>
<rect x="272.00" y="218.50" width="2" height="2" fill="#d80a32"/>
<rect x="270.10" y="230.80" width="2" height="2" fill="#d80a32"/>
<rect x="274.30" y="230.80" width="2" height="2" fill="#d80a32"/>
<rect x="274.30" y="233.60" width="2" height="2" fill="#d80a32"/>
<rect x="272.00" y="236.30" width="2" height="2" fill="#d80a32"/>
<path d="M296.10,228.50 L296.19,228.59 L296.29,228.68 L296.38,228.77 L296.47,228.85 L296.56,228.94 L296.65,229.02 L296.74,229.11 L296.83,229.19 L296.92,229.28 L297.02,229.37 L297.11,229.46 L297.20,229.56 L297.30,229.66 L297.40,229.77 L297.50,229.88 L297.60,230.00 L297.71,230.12 L297.81,230.26 L297.93,230.39 L298.04,230.53 L298.16,230.68 L298.28,230.83 L298.40,230.98 L298.52,231.13 L298.64,231.29 L298.76,231.45 L298.87,231.61 L298.99,231.76 L299.10,231.92 L299.20,232.08 L299.30,232.24 L299.40,232.40 L299.49,232.56 L299.56,232.72 L299.62,232.88 L299.66,233.04 L299.71,233.21 L299.75,233.37 L299.79,233.54 L299.83,233.71 L299.88,233.87 L299.93,234.04 L300.00,234.20 L300.08,234.37 L300.18,234.53 L300.30,234.69 L300.44,234.85 L300.60,235.00 L300.81,235.15 L301.08,235.30 L301.40,235.45 L301.75,235.60 L302.13,235.74 L302.53,235.89 L302.93,236.03 L303.33,236.17 L303.71,236.32 L304.07,236.46 L304.40,236.60 L304.67,236.74 L304.89,236.88 L305.04,237.02 L305.11,237.16 L305.10,237.30 L304.98,237.44 L304.77,237.57 L304.47,237.70 L304.10,237.83 L303.66,237.96 L303.18,238.08 L302.67,238.21 L302.13,238.34 L301.59,238.47 L301.04,238.60 L300.52,238.73 L300.03,238.88 L299.57,239.02 L299.18,239.17 L298.85,239.33 L298.60,239.50 L298.42,239.68 L298.30,239.86 L298.22,240.06 L298.18,240.26 L298.17,240.47 L298.19,240.68 L298.23,240.90 L298.29,241.12 L298.35,241.34 L298.42,241.56 L298.49,241.78 L298.55,241.99 L298.60,242.20 L298.63,242.41 L298.63,242.61 L298.60,242.80 L298.55,242.99 L298.48,243.17 L298.40,243.35 L298.32,243.53 L298.23,243.71 L298.13,243.89 L298.02,244.06 L297.91,244.23 L297.80,244.40 L297.69,244.57 L297.58,244.73 L297.48,244.89 L297.37,245.05 L297.27,245.20 L297.18,245.35 L297.10,245.50 L297.02,245.64 L296.95,245.78 L296.88,245.92 L296.81,246.05 L296.75,246.18 L296.69,246.30 L296.63,246.42 L296.57,246.54 L296.51,246.66 L296.45,246.78 L296.40,246.90 L296.34,247.02 L296.28,247.13 L296.22,247.25 L296.16,247.38 L296.10,247.50 L296.10,247.50 L296.04,247.38 L295.98,247.25 L295.92,247.13 L295.86,247.02 L295.80,246.90 L295.75,246.78 L295.69,246.66 L295.63,246.54 L295.57,246.42 L295.51,246.30 L295.45,246.18 L295.39,246.05 L295.32,245.92 L295.25,245.78 L295.18,245.64 L295.10,245.50 L295.02,245.35 L294.93,245.20 L294.83,245.05 L294.73,244.89 L294.62,244.73 L294.51,244.57 L294.40,244.40 L294.29,244.23 L294.18,244.06 L294.07,243.89 L293.97,243.71 L293.88,243.53 L293.80,243.35 L293.72,243.17 L293.65,242.99 L293.60,242.80 L293.57,242.61 L293.57,242.41 L293.60,242.20 L293.65,241.99 L293.71,241.78 L293.78,241.56 L293.85,241.34 L293.91,241.12 L293.97,240.90 L294.01,240.68 L294.03,240.47 L294.02,240.26 L293.98,240.06 L293.90,239.86 L293.78,239.68 L293.60,239.50 L293.35,239.33 L293.02,239.17 L292.63,239.02 L292.17,238.88 L291.68,238.73 L291.16,238.60 L290.61,238.47 L290.07,238.34 L289.53,238.21 L289.02,238.08 L288.54,237.96 L288.10,237.83 L287.73,237.70 L287.43,237.57 L287.22,237.44 L287.10,237.30 L287.09,237.16 L287.16,237.02 L287.31,236.88 L287.53,236.74 L287.80,236.60 L288.13,236.46 L288.49,236.32 L288.87,236.17 L289.27,236.03 L289.67,235.89 L290.07,235.74 L290.45,235.60 L290.80,235.45 L291.12,235.30 L291.39,235.15 L291.60,235.00 L291.76,234.85 L291.90,234.69 L292.02,234.53 L292.12,234.37 L292.20,234.20 L292.27,234.04 L292.32,233.87 L292.37,233.71 L292.41,233.54 L292.45,233.37 L292.49,233.21 L292.54,233.04 L292.58,232.88 L292.64,232.72 L292.71,232.56 L292.80,232.40 L292.90,232.24 L293.00,232.08 L293.10,231.92 L293.21,231.76 L293.33,231.61 L293.44,231.45 L293.56,231.29 L293.68,231.13 L293.80,230.98 L293.92,230.83 L294.04,230.68 L294.16,230.53 L294.27,230.39 L294.39,230.26 L294.49,230.12 L294.60,230.00 L294.70,229.88 L294.80,229.77 L294.90,229.66 L295.00,229.56 L295.09,229.46 L295.18,229.37 L295.28,229.28 L295.37,229.19 L295.46,229.11 L295.55,229.02 L295.64,228.94 L295.73,228.85 L295.82,228.77 L295.91,228.68 L296.01,228.59 L296.10,228.50Z" fill="#88aed3" stroke="#111" stroke-width="1.35" stroke-linejoin="round"/>
<line x1="287.10" y1="237.3" x2="305.10" y2="237.3" stroke="#2a2a2a" stroke-width="1.1"/>
<rect x="295.10" y="232.30" width="2" height="2" fill="#1a5796"/>
<rect x="295.10" y="236.90" width="2" height="2" fill="#1a5796"/>
<rect x="295.10" y="241.80" width="2" height="2" fill="#1a5796"/>
<path d="M323.90,179.40 L323.93,179.63 L323.96,179.86 L323.98,180.09 L324.00,180.33 L324.02,180.56 L324.04,180.80 L324.06,181.03 L324.09,181.27 L324.11,181.50 L324.14,181.73 L324.17,181.96 L324.20,182.18 L324.24,182.39 L324.29,182.60 L324.34,182.81 L324.40,183.00 L324.46,183.19 L324.53,183.37 L324.60,183.54 L324.67,183.70 L324.74,183.86 L324.82,184.02 L324.91,184.17 L324.99,184.32 L325.09,184.47 L325.18,184.61 L325.29,184.76 L325.40,184.90 L325.51,185.05 L325.63,185.20 L325.76,185.35 L325.90,185.50 L326.05,185.65 L326.20,185.80 L326.37,185.95 L326.55,186.09 L326.73,186.23 L326.92,186.37 L327.12,186.51 L327.32,186.66 L327.52,186.80 L327.72,186.95 L327.93,187.11 L328.13,187.27 L328.33,187.44 L328.52,187.62 L328.72,187.80 L328.90,188.00 L329.08,188.21 L329.27,188.41 L329.45,188.63 L329.64,188.85 L329.82,189.07 L330.01,189.30 L330.19,189.54 L330.38,189.78 L330.55,190.03 L330.73,190.29 L330.91,190.55 L331.07,190.82 L331.24,191.10 L331.40,191.39 L331.55,191.69 L331.70,192.00 L331.85,192.32 L331.99,192.66 L332.14,193.02 L332.29,193.38 L332.43,193.76 L332.57,194.15 L332.71,194.54 L332.84,194.94 L332.96,195.34 L333.07,195.74 L333.18,196.13 L333.27,196.52 L333.35,196.91 L333.42,197.28 L333.47,197.65 L333.50,198.00 L333.52,198.34 L333.52,198.68 L333.52,199.01 L333.50,199.34 L333.46,199.67 L333.42,199.99 L333.37,200.31 L333.31,200.62 L333.23,200.94 L333.15,201.24 L333.06,201.54 L332.96,201.84 L332.86,202.14 L332.74,202.43 L332.63,202.72 L332.50,203.00 L332.36,203.28 L332.21,203.55 L332.05,203.81 L331.88,204.07 L331.69,204.32 L331.50,204.57 L331.30,204.82 L331.09,205.06 L330.88,205.30 L330.67,205.54 L330.45,205.78 L330.24,206.02 L330.02,206.26 L329.81,206.51 L329.60,206.75 L329.40,207.00 L329.19,207.25 L328.96,207.49 L328.71,207.74 L328.46,207.98 L328.19,208.22 L327.93,208.46 L327.66,208.70 L327.41,208.94 L327.16,209.19 L326.93,209.43 L326.72,209.68 L326.53,209.94 L326.37,210.19 L326.24,210.46 L326.15,210.73 L326.10,211.00 L326.10,211.28 L326.16,211.56 L326.28,211.85 L326.43,212.14 L326.61,212.43 L326.82,212.73 L327.05,213.03 L327.29,213.33 L327.52,213.64 L327.75,213.95 L327.96,214.26 L328.15,214.58 L328.31,214.91 L328.42,215.23 L328.49,215.56 L328.50,215.90 L328.45,216.24 L328.36,216.59 L328.24,216.94 L328.07,217.30 L327.88,217.66 L327.67,218.03 L327.44,218.40 L327.19,218.77 L326.94,219.14 L326.69,219.52 L326.44,219.90 L326.19,220.28 L325.96,220.66 L325.75,221.04 L325.56,221.42 L325.40,221.80 L325.26,222.18 L325.14,222.56 L325.02,222.94 L324.91,223.33 L324.81,223.72 L324.72,224.10 L324.63,224.49 L324.55,224.88 L324.47,225.27 L324.39,225.66 L324.32,226.05 L324.24,226.44 L324.16,226.83 L324.08,227.22 L323.99,227.61 L323.90,228.00 L323.90,228.00 L323.81,227.61 L323.72,227.22 L323.64,226.83 L323.56,226.44 L323.48,226.05 L323.41,225.66 L323.33,225.27 L323.25,224.88 L323.17,224.49 L323.08,224.10 L322.99,223.72 L322.89,223.33 L322.78,222.94 L322.66,222.56 L322.54,222.18 L322.40,221.80 L322.24,221.42 L322.05,221.04 L321.84,220.66 L321.61,220.28 L321.36,219.90 L321.11,219.52 L320.86,219.14 L320.61,218.77 L320.36,218.40 L320.13,218.03 L319.92,217.66 L319.73,217.30 L319.56,216.94 L319.44,216.59 L319.35,216.24 L319.30,215.90 L319.31,215.56 L319.38,215.23 L319.49,214.91 L319.65,214.58 L319.84,214.26 L320.05,213.95 L320.28,213.64 L320.51,213.33 L320.75,213.03 L320.98,212.73 L321.19,212.43 L321.37,212.14 L321.52,211.85 L321.64,211.56 L321.70,211.28 L321.70,211.00 L321.65,210.73 L321.56,210.46 L321.43,210.19 L321.27,209.94 L321.08,209.68 L320.87,209.43 L320.64,209.19 L320.39,208.94 L320.14,208.70 L319.87,208.46 L319.61,208.22 L319.34,207.98 L319.09,207.74 L318.84,207.49 L318.61,207.25 L318.40,207.00 L318.20,206.75 L317.99,206.51 L317.78,206.26 L317.56,206.02 L317.35,205.78 L317.13,205.54 L316.92,205.30 L316.71,205.06 L316.50,204.82 L316.30,204.57 L316.11,204.32 L315.92,204.07 L315.75,203.81 L315.59,203.55 L315.44,203.28 L315.30,203.00 L315.17,202.72 L315.06,202.43 L314.94,202.14 L314.84,201.84 L314.74,201.54 L314.65,201.24 L314.57,200.94 L314.49,200.62 L314.43,200.31 L314.38,199.99 L314.34,199.67 L314.30,199.34 L314.28,199.01 L314.28,198.68 L314.28,198.34 L314.30,198.00 L314.33,197.65 L314.38,197.28 L314.45,196.91 L314.53,196.52 L314.62,196.13 L314.73,195.74 L314.84,195.34 L314.96,194.94 L315.09,194.54 L315.23,194.15 L315.37,193.76 L315.51,193.38 L315.66,193.02 L315.81,192.66 L315.95,192.32 L316.10,192.00 L316.25,191.69 L316.40,191.39 L316.56,191.10 L316.72,190.82 L316.89,190.55 L317.07,190.29 L317.25,190.03 L317.42,189.78 L317.61,189.54 L317.79,189.30 L317.98,189.07 L318.16,188.85 L318.35,188.63 L318.53,188.41 L318.72,188.21 L318.90,188.00 L319.08,187.80 L319.28,187.62 L319.47,187.44 L319.67,187.27 L319.87,187.11 L320.08,186.95 L320.28,186.80 L320.48,186.66 L320.68,186.51 L320.88,186.37 L321.07,186.23 L321.25,186.09 L321.43,185.95 L321.60,185.80 L321.75,185.65 L321.90,185.50 L322.04,185.35 L322.17,185.20 L322.29,185.05 L322.40,184.90 L322.51,184.76 L322.62,184.61 L322.71,184.47 L322.81,184.32 L322.89,184.17 L322.98,184.02 L323.06,183.86 L323.13,183.70 L323.20,183.54 L323.27,183.37 L323.34,183.19 L323.40,183.00 L323.46,182.81 L323.51,182.60 L323.56,182.39 L323.60,182.18 L323.63,181.96 L323.66,181.73 L323.69,181.50 L323.71,181.27 L323.74,181.03 L323.76,180.80 L323.78,180.56 L323.80,180.33 L323.82,180.09 L323.84,179.86 L323.87,179.63 L323.90,179.40Z" fill="#e98d9f" stroke="#111" stroke-width="1.35" stroke-linejoin="round"/>
<line x1="315.51" y1="193.4" x2="332.29" y2="193.4" stroke="#555" stroke-width="0.6"/>
<line x1="314.30" y1="199.2" x2="333.50" y2="199.2" stroke="#2a2a2a" stroke-width="1.1"/>
<rect x="322.90" y="190.40" width="2" height="2" fill="#d80a32"/>
<rect x="322.90" y="194.30" width="2" height="2" fill="#d80a32"/>
<rect x="322.90" y="198.60" width="2" height="2" fill="#d80a32"/>
<rect x="322.90" y="201.80" width="2" height="2" fill="#d80a32"/>
<rect x="322.90" y="214.90" width="2" height="2" fill="#d80a32"/>
<path d="M346.70,213.20 L346.85,213.42 L346.99,213.65 L347.11,213.87 L347.24,214.09 L347.35,214.30 L347.47,214.52 L347.59,214.74 L347.71,214.96 L347.84,215.18 L347.98,215.41 L348.14,215.63 L348.31,215.86 L348.50,216.09 L348.71,216.32 L348.94,216.56 L349.20,216.80 L349.51,217.05 L349.88,217.31 L350.30,217.57 L350.76,217.84 L351.24,218.12 L351.75,218.40 L352.26,218.68 L352.77,218.96 L353.27,219.23 L353.75,219.51 L354.19,219.78 L354.58,220.04 L354.92,220.30 L355.19,220.54 L355.39,220.78 L355.50,221.00 L355.51,221.21 L355.44,221.41 L355.28,221.60 L355.06,221.78 L354.78,221.95 L354.46,222.12 L354.10,222.28 L353.72,222.44 L353.33,222.59 L352.94,222.75 L352.56,222.90 L352.20,223.05 L351.87,223.21 L351.59,223.37 L351.36,223.53 L351.20,223.70 L351.10,223.87 L351.03,224.05 L351.00,224.22 L350.99,224.39 L351.01,224.57 L351.05,224.74 L351.11,224.92 L351.18,225.09 L351.25,225.27 L351.32,225.45 L351.38,225.62 L351.44,225.80 L351.49,225.97 L351.52,226.15 L351.52,226.32 L351.50,226.50 L351.45,226.68 L351.39,226.85 L351.31,227.03 L351.21,227.20 L351.11,227.38 L350.99,227.56 L350.88,227.74 L350.76,227.91 L350.64,228.09 L350.52,228.26 L350.40,228.44 L350.30,228.61 L350.20,228.79 L350.12,228.96 L350.05,229.13 L350.00,229.30 L349.97,229.47 L349.96,229.63 L349.97,229.79 L349.99,229.95 L350.03,230.11 L350.07,230.27 L350.12,230.42 L350.16,230.58 L350.21,230.74 L350.25,230.90 L350.28,231.06 L350.30,231.22 L350.31,231.38 L350.29,231.55 L350.26,231.72 L350.20,231.90 L350.12,232.08 L350.01,232.27 L349.88,232.46 L349.73,232.66 L349.57,232.86 L349.39,233.06 L349.21,233.26 L349.02,233.46 L348.84,233.67 L348.65,233.87 L348.46,234.07 L348.28,234.26 L348.11,234.45 L347.96,234.64 L347.82,234.82 L347.70,235.00 L347.60,235.17 L347.50,235.33 L347.42,235.49 L347.34,235.65 L347.28,235.80 L347.22,235.95 L347.16,236.10 L347.11,236.24 L347.06,236.39 L347.01,236.53 L346.96,236.67 L346.91,236.82 L346.87,236.96 L346.81,237.10 L346.76,237.25 L346.70,237.40 L346.70,237.40 L346.64,237.25 L346.59,237.10 L346.53,236.96 L346.49,236.82 L346.44,236.67 L346.39,236.53 L346.34,236.39 L346.29,236.24 L346.24,236.10 L346.18,235.95 L346.12,235.80 L346.06,235.65 L345.98,235.49 L345.90,235.33 L345.80,235.17 L345.70,235.00 L345.58,234.82 L345.44,234.64 L345.29,234.45 L345.12,234.26 L344.94,234.07 L344.75,233.87 L344.56,233.67 L344.38,233.46 L344.19,233.26 L344.01,233.06 L343.83,232.86 L343.67,232.66 L343.52,232.46 L343.39,232.27 L343.28,232.08 L343.20,231.90 L343.14,231.72 L343.11,231.55 L343.09,231.38 L343.10,231.22 L343.12,231.06 L343.15,230.90 L343.19,230.74 L343.24,230.58 L343.28,230.42 L343.33,230.27 L343.37,230.11 L343.41,229.95 L343.43,229.79 L343.44,229.63 L343.43,229.47 L343.40,229.30 L343.35,229.13 L343.28,228.96 L343.20,228.79 L343.10,228.61 L343.00,228.44 L342.88,228.26 L342.76,228.09 L342.64,227.91 L342.52,227.74 L342.41,227.56 L342.29,227.38 L342.19,227.20 L342.09,227.03 L342.01,226.85 L341.95,226.68 L341.90,226.50 L341.88,226.32 L341.88,226.15 L341.91,225.97 L341.96,225.80 L342.02,225.62 L342.08,225.45 L342.15,225.27 L342.22,225.09 L342.29,224.92 L342.35,224.74 L342.39,224.57 L342.41,224.39 L342.40,224.22 L342.37,224.05 L342.30,223.87 L342.20,223.70 L342.04,223.53 L341.81,223.37 L341.53,223.21 L341.20,223.05 L340.84,222.90 L340.46,222.75 L340.07,222.59 L339.68,222.44 L339.30,222.28 L338.94,222.12 L338.62,221.95 L338.34,221.78 L338.12,221.60 L337.96,221.41 L337.89,221.21 L337.90,221.00 L338.01,220.78 L338.21,220.54 L338.48,220.30 L338.82,220.04 L339.21,219.78 L339.65,219.51 L340.13,219.23 L340.62,218.96 L341.14,218.68 L341.65,218.40 L342.16,218.12 L342.64,217.84 L343.10,217.57 L343.52,217.31 L343.89,217.05 L344.20,216.80 L344.46,216.56 L344.69,216.32 L344.90,216.09 L345.09,215.86 L345.26,215.63 L345.42,215.41 L345.56,215.18 L345.69,214.96 L345.81,214.74 L345.93,214.52 L346.05,214.30 L346.16,214.09 L346.29,213.87 L346.41,213.65 L346.55,213.42 L346.70,213.20Z" fill="#88aed3" stroke="#111" stroke-width="1.35" stroke-linejoin="round"/>
<line x1="337.90" y1="221" x2="355.50" y2="221" stroke="#2a2a2a" stroke-width="1.1"/>
<rect x="345.70" y="218.50" width="2" height="2" fill="#1a5796"/>
<rect x="345.70" y="220.50" width="2" height="2" fill="#1a5796"/>
<rect x="345.70" y="225.50" width="2" height="2" fill="#1a5796"/>
<rect x="345.70" y="230.20" width="2" height="2" fill="#1a5796"/>
<line x1="50.5" y1="149.6" x2="50.5" y2="253.7" stroke="#111" stroke-width="1.25" />
<line x1="49.9" y1="253.1" x2="366.8" y2="253.1" stroke="#111" stroke-width="1.3" />
<line x1="65.4" y1="260.1" x2="92.6" y2="260.1" stroke="#111" stroke-width="1.1" />
<path d="M63.4,260.1 L67.6,257.8 L67.6,262.40000000000003Z M94.6,260.1 L90.39999999999999,257.8 L90.39999999999999,262.40000000000003Z" fill="#111"/>
<line x1="119.5" y1="260.1" x2="147.2" y2="260.1" stroke="#111" stroke-width="1.1" />
<path d="M117.5,260.1 L121.7,257.8 L121.7,262.40000000000003Z M149.2,260.1 L145.0,257.8 L145.0,262.40000000000003Z" fill="#111"/>
<line x1="166.6" y1="260.1" x2="193.4" y2="260.1" stroke="#111" stroke-width="1.1" />
<path d="M164.6,260.1 L168.79999999999998,257.8 L168.79999999999998,262.40000000000003Z M195.4,260.1 L191.20000000000002,257.8 L191.20000000000002,262.40000000000003Z" fill="#111"/>
<line x1="220" y1="260.1" x2="247.7" y2="260.1" stroke="#111" stroke-width="1.1" />
<path d="M218,260.1 L222.2,257.8 L222.2,262.40000000000003Z M249.7,260.1 L245.5,257.8 L245.5,262.40000000000003Z" fill="#111"/>
<line x1="271.3" y1="260.1" x2="298.7" y2="260.1" stroke="#111" stroke-width="1.1" />
<path d="M269.3,260.1 L273.5,257.8 L273.5,262.40000000000003Z M300.7,260.1 L296.5,257.8 L296.5,262.40000000000003Z" fill="#111"/>
<line x1="321.3" y1="260.1" x2="348.3" y2="260.1" stroke="#111" stroke-width="1.1" />
<path d="M319.3,260.1 L323.5,257.8 L323.5,262.40000000000003Z M350.3,260.1 L346.1,257.8 L346.1,262.40000000000003Z" fill="#111"/>
<text x="79.4" y="272.7" font-size="7.6" text-anchor="middle" font-weight="normal" fill="#3a3a3a" stroke="#3a3a3a" stroke-width="0.08" >IL-1β</text>
<text x="130.8" y="272.7" font-size="7.6" text-anchor="middle" font-weight="normal" fill="#3a3a3a" stroke="#3a3a3a" stroke-width="0.08" >IFN-α2</text>
<text x="178.5" y="272.7" font-size="7.6" text-anchor="middle" font-weight="normal" fill="#3a3a3a" stroke="#3a3a3a" stroke-width="0.08" >IFN-γ</text>
<text x="235.3" y="272.7" font-size="7.6" text-anchor="middle" font-weight="normal" fill="#3a3a3a" stroke="#3a3a3a" stroke-width="0.08" >TNF-α</text>
<text x="286.6" y="272.7" font-size="7.6" text-anchor="middle" font-weight="normal" fill="#3a3a3a" stroke="#3a3a3a" stroke-width="0.08" >IL-6</text>
<text x="337.3" y="272.7" font-size="7.6" text-anchor="middle" font-weight="normal" fill="#3a3a3a" stroke="#3a3a3a" stroke-width="0.08" >IL-8</text>
<polygon points="92.30,203.05 92.83,204.32 94.20,204.43 93.16,205.33 93.48,206.67 92.30,205.95 91.12,206.67 91.44,205.33 90.40,204.43 91.77,204.32" fill="#151515"/>
<polygon points="143.40,214.75 143.93,216.02 145.30,216.13 144.26,217.03 144.58,218.37 143.40,217.65 142.22,218.37 142.54,217.03 141.50,216.13 142.87,216.02" fill="#151515"/>
<polygon points="192.15,190.95 192.68,192.22 194.05,192.33 193.01,193.23 193.33,194.57 192.15,193.85 190.97,194.57 191.29,193.23 190.25,192.33 191.62,192.22" fill="#151515"/>
<polygon points="196.45,190.95 196.98,192.22 198.35,192.33 197.31,193.23 197.63,194.57 196.45,193.85 195.27,194.57 195.59,193.23 194.55,192.33 195.92,192.22" fill="#151515"/>
<polygon points="245.20,217.25 245.73,218.52 247.10,218.63 246.06,219.53 246.38,220.87 245.20,220.15 244.02,220.87 244.34,219.53 243.30,218.63 244.67,218.52" fill="#151515"/>
<polygon points="296.10,221.75 296.63,223.02 298.00,223.13 296.96,224.03 297.28,225.37 296.10,224.65 294.92,225.37 295.24,224.03 294.20,223.13 295.57,223.02" fill="#151515"/>
<polygon points="344.55,204.35 345.08,205.62 346.45,205.73 345.41,206.63 345.73,207.97 344.55,207.25 343.37,207.97 343.69,206.63 342.65,205.73 344.02,205.62" fill="#151515"/>
<polygon points="348.85,204.35 349.38,205.62 350.75,205.73 349.71,206.63 350.03,207.97 348.85,207.25 347.67,207.97 347.99,206.63 346.95,205.73 348.32,205.62" fill="#151515"/>
<text transform="translate(7.0,298.8) scale(0.95,1)" x="0" y="0" font-size="12" text-anchor="start" font-weight="bold" fill="#111" stroke="#111" stroke-width="0.15" >K</text>
<rect x="55.8" y="294.9" width="5.3" height="5.6" fill="#d80a32"/>
<rect x="55.8" y="308.5" width="5.3" height="5.5" fill="#1a5796"/>
<text x="65" y="300.7" font-size="8" text-anchor="start" font-weight="normal" fill="#333" stroke="#333" stroke-width="0.12" textLength="31.2" lengthAdjust="spacingAndGlyphs" >Thrombin</text>
<text x="65" y="313.8" font-size="8" text-anchor="start" font-weight="normal" fill="#333" stroke="#333" stroke-width="0.12" textLength="88.9" lengthAdjust="spacingAndGlyphs" >CXCR7 agonist + thrombin</text>
<text transform="translate(43.8,306.6) scale(0.9,1)" x="0" y="0" font-size="8.5" text-anchor="end" font-weight="normal" fill="#333" stroke="#333" stroke-width="0.08" >800</text>
<text transform="translate(43.8,346.8) scale(0.9,1)" x="0" y="0" font-size="8.5" text-anchor="end" font-weight="normal" fill="#333" stroke="#333" stroke-width="0.08" >400</text>
<text transform="translate(43.8,387.20000000000005) scale(0.9,1)" x="0" y="0" font-size="8.5" text-anchor="end" font-weight="normal" fill="#333" stroke="#333" stroke-width="0.08" >0</text>
<line x1="46.9" y1="304" x2="50.5" y2="304" stroke="#111" stroke-width="1.1" />
<line x1="46.9" y1="344.3" x2="50.5" y2="344.3" stroke="#111" stroke-width="1.1" />
<line x1="46.9" y1="384.5" x2="50.5" y2="384.5" stroke="#111" stroke-width="1.1" />
<text transform="translate(22.3,388.3) rotate(-90)" x="0" y="0" font-size="9.5" fill="#333" stroke="#333" stroke-width="0.15" textLength="70.8" lengthAdjust="spacingAndGlyphs">Concentration pg/ml</text>
<line x1="51.5" y1="384.5" x2="200.8" y2="384.5" stroke="#555" stroke-width="0.9" stroke-dasharray="0.8,1.5"/>
<path d="M63.40,364.10 L63.46,364.22 L63.52,364.33 L63.58,364.45 L63.64,364.56 L63.70,364.68 L63.76,364.79 L63.82,364.90 L63.88,365.02 L63.93,365.13 L64.00,365.25 L64.06,365.37 L64.12,365.49 L64.19,365.61 L64.26,365.74 L64.33,365.87 L64.40,366.00 L64.48,366.13 L64.57,366.26 L64.67,366.39 L64.78,366.51 L64.89,366.64 L65.00,366.76 L65.11,366.89 L65.22,367.02 L65.33,367.16 L65.43,367.31 L65.52,367.46 L65.60,367.63 L65.67,367.80 L65.73,367.99 L65.77,368.19 L65.80,368.40 L65.80,368.63 L65.77,368.89 L65.73,369.16 L65.66,369.46 L65.57,369.76 L65.48,370.07 L65.38,370.39 L65.28,370.72 L65.18,371.04 L65.09,371.37 L65.01,371.69 L64.94,372.00 L64.89,372.30 L64.87,372.58 L64.87,372.85 L64.90,373.10 L64.96,373.33 L65.05,373.54 L65.16,373.75 L65.28,373.94 L65.42,374.12 L65.58,374.29 L65.75,374.46 L65.92,374.62 L66.11,374.78 L66.30,374.94 L66.49,375.10 L66.68,375.27 L66.87,375.44 L67.05,375.62 L67.23,375.80 L67.40,376.00 L67.58,376.21 L67.78,376.42 L68.01,376.64 L68.25,376.86 L68.49,377.09 L68.75,377.33 L68.99,377.56 L69.23,377.79 L69.45,378.03 L69.66,378.26 L69.83,378.50 L69.98,378.73 L70.08,378.95 L70.14,379.17 L70.15,379.39 L70.10,379.60 L69.99,379.80 L69.80,379.99 L69.56,380.16 L69.27,380.33 L68.93,380.49 L68.57,380.65 L68.17,380.81 L67.76,380.98 L67.34,381.14 L66.93,381.31 L66.52,381.49 L66.12,381.68 L65.76,381.89 L65.43,382.10 L65.14,382.34 L64.90,382.60 L64.70,382.88 L64.54,383.18 L64.39,383.49 L64.26,383.82 L64.16,384.16 L64.07,384.51 L63.99,384.87 L63.92,385.24 L63.86,385.61 L63.80,385.99 L63.74,386.36 L63.69,386.74 L63.63,387.11 L63.56,387.48 L63.49,387.85 L63.40,388.20 L63.40,388.20 L63.31,387.85 L63.24,387.48 L63.17,387.11 L63.11,386.74 L63.06,386.36 L63.00,385.99 L62.94,385.61 L62.88,385.24 L62.81,384.87 L62.73,384.51 L62.64,384.16 L62.54,383.82 L62.41,383.49 L62.26,383.18 L62.10,382.88 L61.90,382.60 L61.66,382.34 L61.37,382.10 L61.04,381.89 L60.67,381.68 L60.28,381.49 L59.87,381.31 L59.46,381.14 L59.04,380.98 L58.63,380.81 L58.23,380.65 L57.87,380.49 L57.53,380.33 L57.24,380.16 L57.00,379.99 L56.81,379.80 L56.70,379.60 L56.65,379.39 L56.66,379.17 L56.72,378.95 L56.82,378.73 L56.97,378.50 L57.14,378.26 L57.35,378.03 L57.57,377.79 L57.81,377.56 L58.05,377.33 L58.31,377.09 L58.55,376.86 L58.79,376.64 L59.02,376.42 L59.22,376.21 L59.40,376.00 L59.57,375.80 L59.75,375.62 L59.93,375.44 L60.12,375.27 L60.31,375.10 L60.50,374.94 L60.69,374.78 L60.88,374.62 L61.05,374.46 L61.22,374.29 L61.38,374.12 L61.52,373.94 L61.64,373.75 L61.75,373.54 L61.84,373.33 L61.90,373.10 L61.93,372.85 L61.93,372.58 L61.91,372.30 L61.86,372.00 L61.79,371.69 L61.71,371.37 L61.62,371.04 L61.52,370.72 L61.42,370.39 L61.32,370.07 L61.23,369.76 L61.14,369.46 L61.07,369.16 L61.03,368.89 L61.00,368.63 L61.00,368.40 L61.03,368.19 L61.07,367.99 L61.13,367.80 L61.20,367.63 L61.28,367.46 L61.37,367.31 L61.47,367.16 L61.58,367.02 L61.69,366.89 L61.80,366.76 L61.91,366.64 L62.02,366.51 L62.13,366.39 L62.23,366.26 L62.32,366.13 L62.40,366.00 L62.47,365.87 L62.54,365.74 L62.61,365.61 L62.68,365.49 L62.74,365.37 L62.80,365.25 L62.87,365.13 L62.92,365.02 L62.98,364.90 L63.04,364.79 L63.10,364.68 L63.16,364.56 L63.22,364.45 L63.28,364.33 L63.34,364.22 L63.40,364.10Z" fill="#e98d9f" stroke="#111" stroke-width="1.35" stroke-linejoin="round"/>
<line x1="56.70" y1="379.6" x2="70.10" y2="379.6" stroke="#2a2a2a" stroke-width="1.1"/>
<rect x="62.40" y="365.50" width="2" height="2" fill="#d80a32"/>
<rect x="62.40" y="368.20" width="2" height="2" fill="#d80a32"/>
<rect x="61.00" y="371.00" width="2" height="2" fill="#d80a32"/>
<rect x="63.80" y="371.00" width="2" height="2" fill="#d80a32"/>
<rect x="56.90" y="375.10" width="2" height="2" fill="#d80a32"/>
<rect x="60.00" y="376.00" width="2" height="2" fill="#d80a32"/>
<rect x="64.80" y="376.00" width="2" height="2" fill="#d80a32"/>
<rect x="56.90" y="379.40" width="2" height="2" fill="#d80a32"/>
<rect x="59.00" y="379.00" width="2" height="2" fill="#d80a32"/>
<rect x="62.40" y="378.60" width="2" height="2" fill="#d80a32"/>
<rect x="65.80" y="379.00" width="2" height="2" fill="#d80a32"/>
<rect x="68.50" y="379.00" width="2" height="2" fill="#d80a32"/>
<rect x="61.00" y="381.00" width="2" height="2" fill="#d80a32"/>
<rect x="64.00" y="381.00" width="2" height="2" fill="#d80a32"/>
<path d="M99.25,328.40 L99.35,328.93 L99.46,329.47 L99.57,330.02 L99.68,330.58 L99.79,331.14 L99.90,331.71 L100.01,332.27 L100.12,332.82 L100.23,333.37 L100.34,333.91 L100.44,334.43 L100.53,334.93 L100.62,335.42 L100.71,335.87 L100.78,336.30 L100.85,336.70 L100.91,337.06 L100.96,337.37 L101.00,337.65 L101.04,337.89 L101.07,338.11 L101.10,338.31 L101.12,338.50 L101.14,338.68 L101.15,338.86 L101.17,339.05 L101.18,339.24 L101.19,339.45 L101.20,339.69 L101.22,339.96 L101.23,340.26 L101.25,340.60 L101.27,340.98 L101.28,341.40 L101.29,341.84 L101.29,342.31 L101.29,342.80 L101.30,343.31 L101.30,343.82 L101.30,344.35 L101.30,344.88 L101.31,345.41 L101.32,345.94 L101.33,346.46 L101.35,346.97 L101.38,347.47 L101.41,347.95 L101.45,348.40 L101.50,348.84 L101.55,349.28 L101.61,349.71 L101.67,350.14 L101.73,350.56 L101.80,350.98 L101.88,351.39 L101.96,351.79 L102.04,352.19 L102.12,352.58 L102.20,352.96 L102.29,353.33 L102.38,353.69 L102.47,354.04 L102.56,354.37 L102.65,354.70 L102.74,355.01 L102.84,355.30 L102.94,355.57 L103.05,355.82 L103.15,356.07 L103.26,356.30 L103.38,356.53 L103.49,356.75 L103.60,356.97 L103.71,357.18 L103.82,357.40 L103.93,357.62 L104.04,357.85 L104.15,358.09 L104.25,358.34 L104.35,358.60 L104.45,358.87 L104.56,359.15 L104.68,359.43 L104.81,359.72 L104.93,360.01 L105.06,360.30 L105.18,360.60 L105.29,360.90 L105.40,361.20 L105.50,361.50 L105.59,361.80 L105.66,362.11 L105.71,362.41 L105.75,362.71 L105.76,363.00 L105.75,363.30 L105.71,363.59 L105.64,363.87 L105.55,364.15 L105.44,364.42 L105.31,364.69 L105.17,364.96 L105.02,365.23 L104.85,365.51 L104.68,365.78 L104.50,366.07 L104.33,366.36 L104.16,366.66 L103.99,366.98 L103.83,367.30 L103.68,367.64 L103.55,368.00 L103.43,368.38 L103.30,368.77 L103.18,369.18 L103.05,369.60 L102.93,370.04 L102.81,370.49 L102.69,370.94 L102.58,371.40 L102.46,371.86 L102.35,372.33 L102.24,372.79 L102.13,373.25 L102.03,373.70 L101.93,374.14 L101.84,374.58 L101.75,375.00 L101.67,375.41 L101.59,375.82 L101.52,376.21 L101.46,376.61 L101.40,377.00 L101.34,377.38 L101.28,377.77 L101.23,378.15 L101.18,378.53 L101.13,378.92 L101.07,379.30 L101.02,379.69 L100.96,380.09 L100.89,380.48 L100.82,380.89 L100.75,381.30 L100.67,381.72 L100.59,382.14 L100.50,382.57 L100.41,383.00 L100.32,383.44 L100.22,383.87 L100.13,384.31 L100.03,384.76 L99.93,385.20 L99.83,385.64 L99.74,386.09 L99.64,386.53 L99.54,386.98 L99.44,387.42 L99.34,387.86 L99.25,388.30 L99.25,388.30 L99.16,387.86 L99.06,387.42 L98.96,386.98 L98.86,386.53 L98.76,386.09 L98.67,385.64 L98.57,385.20 L98.47,384.76 L98.37,384.31 L98.28,383.87 L98.18,383.44 L98.09,383.00 L98.00,382.57 L97.91,382.14 L97.83,381.72 L97.75,381.30 L97.68,380.89 L97.61,380.48 L97.54,380.09 L97.48,379.69 L97.43,379.30 L97.37,378.92 L97.32,378.53 L97.27,378.15 L97.22,377.77 L97.16,377.38 L97.10,377.00 L97.04,376.61 L96.98,376.21 L96.91,375.82 L96.83,375.41 L96.75,375.00 L96.66,374.58 L96.57,374.14 L96.47,373.70 L96.37,373.25 L96.26,372.79 L96.15,372.33 L96.04,371.86 L95.92,371.40 L95.81,370.94 L95.69,370.49 L95.57,370.04 L95.45,369.60 L95.32,369.18 L95.20,368.77 L95.07,368.38 L94.95,368.00 L94.82,367.64 L94.67,367.30 L94.51,366.98 L94.34,366.66 L94.17,366.36 L94.00,366.07 L93.82,365.78 L93.65,365.51 L93.48,365.23 L93.33,364.96 L93.19,364.69 L93.06,364.42 L92.95,364.15 L92.86,363.87 L92.79,363.59 L92.75,363.30 L92.74,363.00 L92.75,362.71 L92.79,362.41 L92.84,362.11 L92.91,361.80 L93.00,361.50 L93.10,361.20 L93.21,360.90 L93.32,360.60 L93.44,360.30 L93.57,360.01 L93.69,359.72 L93.82,359.43 L93.94,359.15 L94.05,358.87 L94.15,358.60 L94.25,358.34 L94.35,358.09 L94.46,357.85 L94.57,357.62 L94.68,357.40 L94.79,357.18 L94.90,356.97 L95.01,356.75 L95.12,356.53 L95.24,356.30 L95.35,356.07 L95.45,355.82 L95.56,355.57 L95.66,355.30 L95.76,355.01 L95.85,354.70 L95.94,354.37 L96.03,354.04 L96.12,353.69 L96.21,353.33 L96.30,352.96 L96.38,352.58 L96.46,352.19 L96.54,351.79 L96.62,351.39 L96.70,350.98 L96.77,350.56 L96.83,350.14 L96.89,349.71 L96.95,349.28 L97.00,348.84 L97.05,348.40 L97.09,347.95 L97.12,347.47 L97.15,346.97 L97.17,346.46 L97.18,345.94 L97.19,345.41 L97.20,344.88 L97.20,344.35 L97.20,343.82 L97.20,343.31 L97.21,342.80 L97.21,342.31 L97.21,341.84 L97.22,341.40 L97.23,340.98 L97.25,340.60 L97.27,340.26 L97.28,339.96 L97.30,339.69 L97.31,339.45 L97.32,339.24 L97.33,339.05 L97.35,338.86 L97.36,338.68 L97.38,338.50 L97.40,338.31 L97.43,338.11 L97.46,337.89 L97.50,337.65 L97.54,337.37 L97.59,337.06 L97.65,336.70 L97.72,336.30 L97.79,335.87 L97.88,335.42 L97.97,334.93 L98.06,334.43 L98.16,333.91 L98.27,333.37 L98.38,332.82 L98.49,332.27 L98.60,331.71 L98.71,331.14 L98.82,330.58 L98.93,330.02 L99.04,329.47 L99.15,328.93 L99.25,328.40Z" fill="#e98d9f" stroke="#111" stroke-width="1.35" stroke-linejoin="round"/>
<line x1="92.77" y1="362.5" x2="105.73" y2="362.5" stroke="#2a2a2a" stroke-width="1.1"/>
<line x1="94.47" y1="366.9" x2="104.03" y2="366.9" stroke="#555" stroke-width="0.6"/>
<rect x="98.25" y="340.40" width="2" height="2" fill="#d80a32"/>
<rect x="98.25" y="343.50" width="2" height="2" fill="#d80a32"/>
<rect x="98.25" y="347.40" width="2" height="2" fill="#d80a32"/>
<rect x="98.25" y="351.30" width="2" height="2" fill="#d80a32"/>
<rect x="98.25" y="356.00" width="2" height="2" fill="#d80a32"/>
<rect x="98.25" y="361.50" width="2" height="2" fill="#d80a32"/>
<rect x="98.25" y="364.60" width="2" height="2" fill="#d80a32"/>
<rect x="98.25" y="368.50" width="2" height="2" fill="#d80a32"/>
<rect x="98.25" y="371.70" width="2" height="2" fill="#d80a32"/>
<rect x="94.50" y="361.50" width="2" height="2" fill="#d80a32"/>
<rect x="102.00" y="361.50" width="2" height="2" fill="#d80a32"/>
<rect x="95.50" y="356.50" width="2" height="2" fill="#d80a32"/>
<rect x="101.00" y="356.50" width="2" height="2" fill="#d80a32"/>
<rect x="95.50" y="366.00" width="2" height="2" fill="#d80a32"/>
<rect x="101.00" y="366.00" width="2" height="2" fill="#d80a32"/>
<path d="M115.30,349.20 L115.40,349.64 L115.49,350.08 L115.60,350.52 L115.70,350.96 L115.80,351.40 L115.91,351.84 L116.01,352.27 L116.11,352.71 L116.21,353.15 L116.31,353.59 L116.41,354.04 L116.50,354.48 L116.58,354.93 L116.66,355.38 L116.73,355.84 L116.80,356.30 L116.86,356.77 L116.90,357.25 L116.94,357.74 L116.96,358.23 L116.98,358.74 L117.00,359.24 L117.01,359.75 L117.02,360.25 L117.04,360.75 L117.05,361.25 L117.07,361.74 L117.10,362.22 L117.13,362.68 L117.18,363.14 L117.23,363.58 L117.30,364.00 L117.38,364.40 L117.47,364.79 L117.57,365.17 L117.67,365.54 L117.78,365.89 L117.90,366.24 L118.02,366.57 L118.15,366.91 L118.28,367.23 L118.41,367.56 L118.54,367.88 L118.68,368.20 L118.81,368.52 L118.94,368.84 L119.07,369.17 L119.20,369.50 L119.33,369.84 L119.47,370.18 L119.63,370.52 L119.78,370.87 L119.95,371.22 L120.11,371.56 L120.27,371.91 L120.43,372.25 L120.59,372.59 L120.73,372.92 L120.87,373.24 L120.99,373.55 L121.10,373.86 L121.18,374.15 L121.25,374.43 L121.30,374.70 L121.33,374.95 L121.34,375.19 L121.33,375.42 L121.31,375.63 L121.28,375.84 L121.24,376.03 L121.18,376.22 L121.12,376.41 L121.04,376.58 L120.96,376.76 L120.86,376.93 L120.76,377.10 L120.66,377.27 L120.54,377.45 L120.42,377.62 L120.30,377.80 L120.17,377.98 L120.01,378.14 L119.85,378.30 L119.67,378.45 L119.48,378.59 L119.28,378.74 L119.07,378.88 L118.86,379.03 L118.65,379.17 L118.44,379.33 L118.23,379.49 L118.03,379.67 L117.83,379.85 L117.64,380.05 L117.46,380.27 L117.30,380.50 L117.15,380.75 L117.00,381.02 L116.86,381.31 L116.73,381.61 L116.60,381.92 L116.48,382.24 L116.36,382.57 L116.24,382.90 L116.12,383.24 L116.01,383.58 L115.89,383.93 L115.78,384.27 L115.66,384.61 L115.54,384.95 L115.42,385.28 L115.30,385.60 L115.30,385.60 L115.18,385.28 L115.06,384.95 L114.94,384.61 L114.82,384.27 L114.71,383.93 L114.59,383.58 L114.48,383.24 L114.36,382.90 L114.24,382.57 L114.12,382.24 L114.00,381.92 L113.87,381.61 L113.74,381.31 L113.60,381.02 L113.45,380.75 L113.30,380.50 L113.14,380.27 L112.96,380.05 L112.77,379.85 L112.57,379.67 L112.37,379.49 L112.16,379.33 L111.95,379.17 L111.74,379.03 L111.53,378.88 L111.32,378.74 L111.12,378.59 L110.93,378.45 L110.75,378.30 L110.59,378.14 L110.43,377.98 L110.30,377.80 L110.18,377.62 L110.06,377.45 L109.94,377.27 L109.84,377.10 L109.74,376.93 L109.64,376.76 L109.56,376.58 L109.48,376.41 L109.42,376.22 L109.36,376.03 L109.32,375.84 L109.29,375.63 L109.27,375.42 L109.26,375.19 L109.27,374.95 L109.30,374.70 L109.35,374.43 L109.42,374.15 L109.50,373.86 L109.61,373.55 L109.73,373.24 L109.87,372.92 L110.01,372.59 L110.17,372.25 L110.33,371.91 L110.49,371.56 L110.65,371.22 L110.82,370.87 L110.97,370.52 L111.13,370.18 L111.27,369.84 L111.40,369.50 L111.53,369.17 L111.66,368.84 L111.79,368.52 L111.92,368.20 L112.06,367.88 L112.19,367.56 L112.32,367.23 L112.45,366.91 L112.58,366.57 L112.70,366.24 L112.82,365.89 L112.93,365.54 L113.03,365.17 L113.13,364.79 L113.22,364.40 L113.30,364.00 L113.37,363.58 L113.42,363.14 L113.47,362.68 L113.50,362.22 L113.53,361.74 L113.55,361.25 L113.56,360.75 L113.58,360.25 L113.59,359.75 L113.60,359.24 L113.62,358.74 L113.64,358.23 L113.66,357.74 L113.70,357.25 L113.74,356.77 L113.80,356.30 L113.87,355.84 L113.94,355.38 L114.02,354.93 L114.10,354.48 L114.19,354.04 L114.29,353.59 L114.39,353.15 L114.49,352.71 L114.59,352.27 L114.69,351.84 L114.80,351.40 L114.90,350.96 L115.00,350.52 L115.11,350.08 L115.20,349.64 L115.30,349.20Z" fill="#88aed3" stroke="#111" stroke-width="1.35" stroke-linejoin="round"/>
<line x1="109.30" y1="374.7" x2="121.30" y2="374.7" stroke="#2a2a2a" stroke-width="1.1"/>
<rect x="114.30" y="353.70" width="2" height="2" fill="#1a5796"/>
<rect x="114.30" y="357.60" width="2" height="2" fill="#1a5796"/>
<rect x="114.30" y="362.30" width="2" height="2" fill="#1a5796"/>
<rect x="114.30" y="367.00" width="2" height="2" fill="#1a5796"/>
<rect x="114.30" y="370.90" width="2" height="2" fill="#1a5796"/>
<rect x="114.30" y="374.00" width="2" height="2" fill="#1a5796"/>
<rect x="120.10" y="373.70" width="2" height="2" fill="#1a5796"/>
<rect x="109.70" y="375.60" width="2" height="2" fill="#1a5796"/>
<rect x="112.00" y="373.70" width="2" height="2" fill="#1a5796"/>
<rect x="116.60" y="375.00" width="2" height="2" fill="#1a5796"/>
<path d="M134.90,346.70 L135.02,347.04 L135.13,347.37 L135.24,347.71 L135.34,348.05 L135.44,348.38 L135.54,348.72 L135.65,349.06 L135.75,349.39 L135.86,349.73 L135.97,350.07 L136.10,350.41 L136.23,350.74 L136.38,351.08 L136.54,351.42 L136.71,351.76 L136.90,352.10 L137.12,352.44 L137.39,352.79 L137.70,353.14 L138.03,353.50 L138.38,353.86 L138.74,354.21 L139.11,354.57 L139.47,354.93 L139.82,355.28 L140.15,355.63 L140.46,355.97 L140.73,356.31 L140.95,356.65 L141.13,356.97 L141.25,357.29 L141.30,357.60 L141.28,357.90 L141.19,358.20 L141.05,358.49 L140.85,358.77 L140.61,359.05 L140.33,359.32 L140.03,359.59 L139.71,359.86 L139.37,360.12 L139.04,360.37 L138.71,360.62 L138.39,360.86 L138.09,361.11 L137.82,361.34 L137.59,361.57 L137.40,361.80 L137.24,362.02 L137.09,362.23 L136.95,362.44 L136.82,362.63 L136.70,362.82 L136.59,363.01 L136.48,363.19 L136.39,363.37 L136.31,363.55 L136.25,363.72 L136.19,363.90 L136.15,364.07 L136.11,364.25 L136.10,364.43 L136.09,364.61 L136.10,364.80 L136.13,364.99 L136.18,365.17 L136.26,365.35 L136.35,365.53 L136.46,365.70 L136.59,365.88 L136.72,366.06 L136.86,366.24 L137.01,366.42 L137.15,366.61 L137.30,366.80 L137.44,367.00 L137.57,367.21 L137.70,367.43 L137.81,367.66 L137.90,367.90 L137.99,368.15 L138.07,368.42 L138.16,368.69 L138.24,368.98 L138.32,369.27 L138.40,369.57 L138.48,369.88 L138.55,370.19 L138.61,370.50 L138.67,370.82 L138.72,371.14 L138.76,371.45 L138.79,371.77 L138.80,372.08 L138.81,372.39 L138.80,372.70 L138.78,373.01 L138.74,373.32 L138.68,373.63 L138.61,373.95 L138.54,374.27 L138.45,374.59 L138.35,374.91 L138.25,375.22 L138.14,375.54 L138.03,375.85 L137.92,376.16 L137.81,376.46 L137.70,376.76 L137.60,377.05 L137.49,377.33 L137.40,377.60 L137.31,377.85 L137.21,378.08 L137.12,378.29 L137.02,378.49 L136.92,378.68 L136.82,378.86 L136.72,379.03 L136.62,379.21 L136.53,379.40 L136.43,379.59 L136.34,379.80 L136.24,380.03 L136.15,380.28 L136.06,380.55 L135.98,380.86 L135.90,381.20 L135.82,381.58 L135.75,381.98 L135.68,382.42 L135.61,382.87 L135.55,383.35 L135.49,383.85 L135.43,384.36 L135.37,384.88 L135.31,385.41 L135.25,385.95 L135.20,386.49 L135.14,387.02 L135.08,387.56 L135.02,388.08 L134.96,388.60 L134.90,389.10 L134.90,389.10 L134.84,388.60 L134.78,388.08 L134.72,387.56 L134.66,387.02 L134.60,386.49 L134.55,385.95 L134.49,385.41 L134.43,384.88 L134.37,384.36 L134.31,383.85 L134.25,383.35 L134.19,382.87 L134.12,382.42 L134.05,381.98 L133.98,381.58 L133.90,381.20 L133.82,380.86 L133.74,380.55 L133.65,380.28 L133.56,380.03 L133.46,379.80 L133.37,379.59 L133.27,379.40 L133.18,379.21 L133.08,379.03 L132.98,378.86 L132.88,378.68 L132.78,378.49 L132.68,378.29 L132.59,378.08 L132.49,377.85 L132.40,377.60 L132.31,377.33 L132.20,377.05 L132.10,376.76 L131.99,376.46 L131.88,376.16 L131.77,375.85 L131.66,375.54 L131.55,375.22 L131.45,374.91 L131.35,374.59 L131.26,374.27 L131.19,373.95 L131.12,373.63 L131.06,373.32 L131.02,373.01 L131.00,372.70 L130.99,372.39 L131.00,372.08 L131.01,371.77 L131.04,371.45 L131.08,371.14 L131.13,370.82 L131.19,370.50 L131.25,370.19 L131.32,369.88 L131.40,369.57 L131.48,369.27 L131.56,368.98 L131.64,368.69 L131.73,368.42 L131.81,368.15 L131.90,367.90 L131.99,367.66 L132.10,367.43 L132.23,367.21 L132.36,367.00 L132.50,366.80 L132.65,366.61 L132.79,366.42 L132.94,366.24 L133.08,366.06 L133.21,365.88 L133.34,365.70 L133.45,365.53 L133.54,365.35 L133.62,365.17 L133.67,364.99 L133.70,364.80 L133.71,364.61 L133.70,364.43 L133.69,364.25 L133.65,364.07 L133.61,363.90 L133.55,363.72 L133.49,363.55 L133.41,363.37 L133.32,363.19 L133.21,363.01 L133.10,362.82 L132.98,362.63 L132.85,362.44 L132.71,362.23 L132.56,362.02 L132.40,361.80 L132.21,361.57 L131.98,361.34 L131.71,361.11 L131.41,360.86 L131.09,360.62 L130.76,360.37 L130.43,360.12 L130.09,359.86 L129.77,359.59 L129.47,359.32 L129.19,359.05 L128.95,358.77 L128.75,358.49 L128.61,358.20 L128.52,357.90 L128.50,357.60 L128.55,357.29 L128.67,356.97 L128.85,356.65 L129.07,356.31 L129.34,355.97 L129.65,355.63 L129.98,355.28 L130.33,354.93 L130.69,354.57 L131.06,354.21 L131.42,353.86 L131.77,353.50 L132.10,353.14 L132.41,352.79 L132.68,352.44 L132.90,352.10 L133.09,351.76 L133.26,351.42 L133.42,351.08 L133.57,350.74 L133.70,350.41 L133.83,350.07 L133.94,349.73 L134.05,349.39 L134.15,349.06 L134.26,348.72 L134.36,348.38 L134.46,348.05 L134.56,347.71 L134.67,347.37 L134.78,347.04 L134.90,346.70Z" fill="#e98d9f" stroke="#111" stroke-width="1.35" stroke-linejoin="round"/>
<line x1="128.50" y1="357.6" x2="141.30" y2="357.6" stroke="#2a2a2a" stroke-width="1.1"/>
<rect x="128.20" y="356.60" width="2" height="2" fill="#d80a32"/>
<rect x="131.30" y="356.60" width="2" height="2" fill="#d80a32"/>
<rect x="134.30" y="356.60" width="2" height="2" fill="#d80a32"/>
<rect x="136.70" y="356.60" width="2" height="2" fill="#d80a32"/>
<rect x="139.80" y="356.60" width="2" height="2" fill="#d80a32"/>
<rect x="133.90" y="368.10" width="2" height="2" fill="#d80a32"/>
<rect x="131.50" y="372.30" width="2" height="2" fill="#d80a32"/>
<rect x="136.30" y="372.30" width="2" height="2" fill="#d80a32"/>
<rect x="133.90" y="375.40" width="2" height="2" fill="#d80a32"/>
<rect x="133.90" y="378.40" width="2" height="2" fill="#d80a32"/>
<path d="M151.30,366.10 L151.42,366.29 L151.54,366.48 L151.67,366.67 L151.81,366.87 L151.94,367.06 L152.08,367.26 L152.22,367.46 L152.35,367.65 L152.48,367.84 L152.60,368.03 L152.71,368.22 L152.82,368.41 L152.91,368.59 L152.99,368.76 L153.05,368.93 L153.10,369.10 L153.12,369.26 L153.10,369.40 L153.05,369.54 L152.98,369.67 L152.90,369.79 L152.80,369.91 L152.69,370.03 L152.59,370.14 L152.49,370.26 L152.41,370.39 L152.34,370.51 L152.30,370.65 L152.29,370.79 L152.31,370.95 L152.38,371.12 L152.50,371.30 L152.68,371.50 L152.93,371.72 L153.24,371.96 L153.59,372.20 L153.99,372.46 L154.40,372.73 L154.84,373.00 L155.28,373.27 L155.71,373.55 L156.12,373.82 L156.52,374.08 L156.87,374.33 L157.17,374.57 L157.42,374.80 L157.60,375.01 L157.70,375.20 L157.72,375.37 L157.67,375.52 L157.55,375.66 L157.39,375.78 L157.18,375.90 L156.93,376.00 L156.65,376.10 L156.36,376.19 L156.05,376.28 L155.74,376.37 L155.44,376.46 L155.15,376.56 L154.88,376.66 L154.65,376.76 L154.45,376.87 L154.30,377.00 L154.19,377.13 L154.11,377.27 L154.04,377.41 L153.99,377.56 L153.96,377.71 L153.94,377.86 L153.93,378.01 L153.93,378.16 L153.93,378.32 L153.93,378.47 L153.93,378.63 L153.93,378.79 L153.91,378.94 L153.89,379.10 L153.85,379.25 L153.80,379.40 L153.73,379.55 L153.66,379.69 L153.57,379.83 L153.48,379.97 L153.39,380.11 L153.29,380.24 L153.19,380.38 L153.08,380.52 L152.98,380.66 L152.87,380.80 L152.77,380.95 L152.66,381.11 L152.56,381.27 L152.47,381.44 L152.38,381.61 L152.30,381.80 L152.22,382.00 L152.15,382.20 L152.08,382.41 L152.01,382.63 L151.95,382.86 L151.89,383.09 L151.83,383.33 L151.77,383.57 L151.71,383.81 L151.65,384.06 L151.60,384.30 L151.54,384.54 L151.48,384.79 L151.42,385.03 L151.36,385.27 L151.30,385.50 L151.30,385.50 L151.24,385.27 L151.18,385.03 L151.12,384.79 L151.06,384.54 L151.00,384.30 L150.95,384.06 L150.89,383.81 L150.83,383.57 L150.77,383.33 L150.71,383.09 L150.65,382.86 L150.59,382.63 L150.52,382.41 L150.45,382.20 L150.38,382.00 L150.30,381.80 L150.22,381.61 L150.13,381.44 L150.04,381.27 L149.94,381.11 L149.83,380.95 L149.73,380.80 L149.62,380.66 L149.52,380.52 L149.41,380.38 L149.31,380.24 L149.21,380.11 L149.12,379.97 L149.03,379.83 L148.94,379.69 L148.87,379.55 L148.80,379.40 L148.75,379.25 L148.71,379.10 L148.69,378.94 L148.67,378.79 L148.67,378.63 L148.67,378.47 L148.67,378.32 L148.67,378.16 L148.67,378.01 L148.66,377.86 L148.64,377.71 L148.61,377.56 L148.56,377.41 L148.49,377.27 L148.41,377.13 L148.30,377.00 L148.15,376.87 L147.95,376.76 L147.72,376.66 L147.45,376.56 L147.16,376.46 L146.86,376.37 L146.55,376.28 L146.24,376.19 L145.95,376.10 L145.67,376.00 L145.42,375.90 L145.21,375.78 L145.05,375.66 L144.93,375.52 L144.88,375.37 L144.90,375.20 L145.00,375.01 L145.18,374.80 L145.43,374.57 L145.73,374.33 L146.08,374.08 L146.48,373.82 L146.89,373.55 L147.33,373.27 L147.76,373.00 L148.20,372.73 L148.61,372.46 L149.01,372.20 L149.36,371.96 L149.67,371.72 L149.92,371.50 L150.10,371.30 L150.22,371.12 L150.29,370.95 L150.31,370.79 L150.30,370.65 L150.26,370.51 L150.19,370.39 L150.11,370.26 L150.01,370.14 L149.91,370.03 L149.80,369.91 L149.70,369.79 L149.62,369.67 L149.55,369.54 L149.50,369.40 L149.48,369.26 L149.50,369.10 L149.55,368.93 L149.61,368.76 L149.69,368.59 L149.78,368.41 L149.89,368.22 L150.00,368.03 L150.12,367.84 L150.25,367.65 L150.38,367.46 L150.52,367.26 L150.66,367.06 L150.79,366.87 L150.93,366.67 L151.06,366.48 L151.18,366.29 L151.30,366.10Z" fill="#88aed3" stroke="#111" stroke-width="1.35" stroke-linejoin="round"/>
<line x1="144.90" y1="375.2" x2="157.70" y2="375.2" stroke="#2a2a2a" stroke-width="1.1"/>
<rect x="150.30" y="368.10" width="2" height="2" fill="#1a5796"/>
<rect x="146.00" y="374.20" width="2" height="2" fill="#1a5796"/>
<rect x="154.50" y="374.20" width="2" height="2" fill="#1a5796"/>
<rect x="156.50" y="374.00" width="2" height="2" fill="#1a5796"/>
<rect x="150.30" y="377.00" width="2" height="2" fill="#1a5796"/>
<rect x="150.30" y="379.50" width="2" height="2" fill="#1a5796"/>
<path d="M170.80,304.80 L170.88,305.52 L170.96,306.26 L171.04,307.03 L171.12,307.80 L171.21,308.59 L171.29,309.37 L171.37,310.15 L171.46,310.93 L171.54,311.68 L171.62,312.42 L171.69,313.13 L171.76,313.81 L171.83,314.45 L171.89,315.05 L171.95,315.60 L172.00,316.10 L172.04,316.54 L172.08,316.91 L172.10,317.23 L172.12,317.50 L172.14,317.73 L172.15,317.93 L172.16,318.11 L172.16,318.27 L172.17,318.42 L172.18,318.56 L172.18,318.71 L172.20,318.88 L172.21,319.06 L172.24,319.27 L172.26,319.51 L172.30,319.80 L172.34,320.12 L172.39,320.45 L172.44,320.79 L172.50,321.15 L172.56,321.52 L172.62,321.90 L172.68,322.29 L172.75,322.69 L172.82,323.09 L172.89,323.50 L172.96,323.91 L173.03,324.33 L173.10,324.75 L173.17,325.16 L173.23,325.58 L173.30,326.00 L173.37,326.42 L173.44,326.84 L173.52,327.27 L173.60,327.71 L173.68,328.15 L173.76,328.59 L173.84,329.04 L173.92,329.49 L174.00,329.94 L174.07,330.39 L174.14,330.84 L174.21,331.30 L174.27,331.75 L174.32,332.20 L174.36,332.65 L174.40,333.10 L174.43,333.55 L174.46,333.99 L174.48,334.43 L174.49,334.86 L174.51,335.30 L174.52,335.74 L174.52,336.18 L174.52,336.62 L174.51,337.06 L174.50,337.51 L174.48,337.96 L174.46,338.41 L174.43,338.87 L174.39,339.34 L174.35,339.82 L174.30,340.30 L174.23,340.79 L174.15,341.29 L174.04,341.80 L173.92,342.31 L173.79,342.82 L173.66,343.34 L173.52,343.87 L173.38,344.40 L173.24,344.93 L173.11,345.47 L172.99,346.01 L172.89,346.54 L172.80,347.08 L172.74,347.62 L172.71,348.16 L172.70,348.70 L172.72,349.24 L172.76,349.77 L172.83,350.31 L172.91,350.85 L173.01,351.38 L173.12,351.92 L173.24,352.46 L173.38,353.01 L173.52,353.55 L173.67,354.10 L173.82,354.66 L173.98,355.21 L174.14,355.78 L174.30,356.34 L174.45,356.92 L174.60,357.50 L174.76,358.09 L174.95,358.70 L175.16,359.32 L175.38,359.95 L175.62,360.59 L175.86,361.23 L176.10,361.88 L176.33,362.53 L176.56,363.17 L176.76,363.81 L176.95,364.44 L177.11,365.06 L177.25,365.67 L177.34,366.27 L177.39,366.84 L177.40,367.40 L177.36,367.94 L177.26,368.46 L177.13,368.98 L176.96,369.48 L176.76,369.97 L176.53,370.44 L176.28,370.92 L176.01,371.38 L175.74,371.84 L175.46,372.30 L175.18,372.75 L174.91,373.20 L174.65,373.64 L174.41,374.09 L174.19,374.55 L174.00,375.00 L173.83,375.44 L173.66,375.84 L173.50,376.22 L173.34,376.57 L173.18,376.92 L173.03,377.26 L172.89,377.60 L172.75,377.95 L172.61,378.32 L172.48,378.71 L172.36,379.14 L172.24,379.60 L172.12,380.11 L172.01,380.68 L171.90,381.31 L171.80,382.00 L171.70,382.77 L171.62,383.60 L171.54,384.49 L171.47,385.44 L171.40,386.43 L171.34,387.46 L171.28,388.52 L171.23,389.61 L171.17,390.72 L171.12,391.84 L171.07,392.96 L171.02,394.08 L170.97,395.19 L170.92,396.29 L170.86,397.36 L170.80,398.40 L170.80,398.40 L170.74,397.36 L170.68,396.29 L170.63,395.19 L170.58,394.08 L170.53,392.96 L170.48,391.84 L170.43,390.72 L170.38,389.61 L170.32,388.52 L170.26,387.46 L170.20,386.43 L170.13,385.44 L170.06,384.49 L169.98,383.60 L169.90,382.77 L169.80,382.00 L169.70,381.31 L169.59,380.68 L169.48,380.11 L169.36,379.60 L169.24,379.14 L169.12,378.71 L168.99,378.32 L168.85,377.95 L168.71,377.60 L168.57,377.26 L168.42,376.92 L168.26,376.57 L168.10,376.22 L167.94,375.84 L167.77,375.44 L167.60,375.00 L167.41,374.55 L167.19,374.09 L166.95,373.64 L166.69,373.20 L166.42,372.75 L166.14,372.30 L165.86,371.84 L165.59,371.38 L165.32,370.92 L165.07,370.44 L164.84,369.97 L164.64,369.48 L164.47,368.98 L164.34,368.46 L164.24,367.94 L164.20,367.40 L164.21,366.84 L164.26,366.27 L164.35,365.67 L164.49,365.06 L164.65,364.44 L164.84,363.81 L165.04,363.17 L165.27,362.53 L165.50,361.88 L165.74,361.23 L165.98,360.59 L166.22,359.95 L166.44,359.32 L166.65,358.70 L166.84,358.09 L167.00,357.50 L167.15,356.92 L167.30,356.34 L167.46,355.78 L167.62,355.21 L167.78,354.66 L167.93,354.10 L168.08,353.55 L168.23,353.01 L168.36,352.46 L168.48,351.92 L168.59,351.38 L168.69,350.85 L168.77,350.31 L168.84,349.77 L168.88,349.24 L168.90,348.70 L168.89,348.16 L168.86,347.62 L168.80,347.08 L168.71,346.54 L168.61,346.01 L168.49,345.47 L168.36,344.93 L168.23,344.40 L168.08,343.87 L167.94,343.34 L167.81,342.82 L167.68,342.31 L167.56,341.80 L167.45,341.29 L167.37,340.79 L167.30,340.30 L167.25,339.82 L167.21,339.34 L167.17,338.87 L167.14,338.41 L167.12,337.96 L167.10,337.51 L167.09,337.06 L167.08,336.62 L167.08,336.18 L167.08,335.74 L167.09,335.30 L167.11,334.86 L167.12,334.43 L167.14,333.99 L167.17,333.55 L167.20,333.10 L167.24,332.65 L167.28,332.20 L167.33,331.75 L167.39,331.30 L167.46,330.84 L167.53,330.39 L167.60,329.94 L167.68,329.49 L167.76,329.04 L167.84,328.59 L167.92,328.15 L168.00,327.71 L168.08,327.27 L168.16,326.84 L168.23,326.42 L168.30,326.00 L168.37,325.58 L168.43,325.16 L168.50,324.75 L168.57,324.33 L168.64,323.91 L168.71,323.50 L168.78,323.09 L168.85,322.69 L168.92,322.29 L168.98,321.90 L169.04,321.52 L169.10,321.15 L169.16,320.79 L169.21,320.45 L169.26,320.12 L169.30,319.80 L169.34,319.51 L169.36,319.27 L169.39,319.06 L169.40,318.88 L169.42,318.71 L169.42,318.56 L169.43,318.42 L169.44,318.27 L169.44,318.11 L169.45,317.93 L169.46,317.73 L169.48,317.50 L169.50,317.23 L169.52,316.91 L169.56,316.54 L169.60,316.10 L169.65,315.60 L169.71,315.05 L169.77,314.45 L169.84,313.81 L169.91,313.13 L169.98,312.42 L170.06,311.68 L170.14,310.93 L170.23,310.15 L170.31,309.37 L170.39,308.59 L170.48,307.80 L170.56,307.03 L170.64,306.26 L170.72,305.52 L170.80,304.80Z" fill="#e98d9f" stroke="#111" stroke-width="1.35" stroke-linejoin="round"/>
<line x1="165.00" y1="363.3" x2="176.60" y2="363.3" stroke="#2a2a2a" stroke-width="1.1"/>
<line x1="165.54" y1="371.3" x2="176.06" y2="371.3" stroke="#555" stroke-width="0.6"/>
<rect x="169.80" y="318.80" width="2" height="2" fill="#d80a32"/>
<rect x="169.80" y="329.00" width="2" height="2" fill="#d80a32"/>
<rect x="169.80" y="334.00" width="2" height="2" fill="#d80a32"/>
<rect x="167.80" y="339.00" width="2" height="2" fill="#d80a32"/>
<rect x="171.80" y="339.00" width="2" height="2" fill="#d80a32"/>
<rect x="169.80" y="342.00" width="2" height="2" fill="#d80a32"/>
<rect x="169.80" y="351.00" width="2" height="2" fill="#d80a32"/>
<rect x="169.80" y="355.00" width="2" height="2" fill="#d80a32"/>
<rect x="167.00" y="359.00" width="2" height="2" fill="#d80a32"/>
<rect x="172.60" y="359.00" width="2" height="2" fill="#d80a32"/>
<rect x="167.00" y="362.30" width="2" height="2" fill="#d80a32"/>
<rect x="172.60" y="362.30" width="2" height="2" fill="#d80a32"/>
<rect x="165.00" y="367.00" width="2" height="2" fill="#d80a32"/>
<rect x="169.80" y="367.00" width="2" height="2" fill="#d80a32"/>
<rect x="174.60" y="367.00" width="2" height="2" fill="#d80a32"/>
<rect x="167.00" y="371.00" width="2" height="2" fill="#d80a32"/>
<rect x="172.60" y="371.00" width="2" height="2" fill="#d80a32"/>
<rect x="169.80" y="375.00" width="2" height="2" fill="#d80a32"/>
<rect x="164.60" y="357.70" width="2" height="2" fill="#d80a32"/>
<rect x="175.90" y="367.00" width="2" height="2" fill="#d80a32"/>
<path d="M72.7,380.8 L73.5,378.2 L75.5,379.5 L78,380 L82,379.8 L86.5,380.6 L82,381.5 L76,381.5Z" fill="#1a5796" stroke="#1a5796" stroke-width="1.2" stroke-linejoin="round"/>
<line x1="187.2" y1="352.2" x2="187.2" y2="378" stroke="#3a3a3a" stroke-width="0.9" />
<circle cx="187.2" cy="352.5" r="1.1" fill="#1a5796"/>
<circle cx="187.2" cy="368" r="1.1" fill="#1a5796"/>
<circle cx="187.2" cy="372.7" r="1.1" fill="#1a5796"/>
<path d="M187.2,377 L189.5,378.3 L192,378.8 L193.6,379.8 L192.5,381.5 L190,381.6 L188.5,383.5 L186,385.2 L184,383.2 L182.5,381.5 L180.7,380.5 L182,379 L184.5,378.4 Z" fill="#1a5796" stroke="#1a5796" stroke-width="0.8" stroke-linejoin="round"/>
<line x1="50.5" y1="300" x2="50.5" y2="405.1" stroke="#111" stroke-width="1.25" />
<line x1="49.9" y1="404.5" x2="200.8" y2="404.5" stroke="#111" stroke-width="1.3" />
<line x1="57.7" y1="408.5" x2="85.4" y2="408.5" stroke="#111" stroke-width="1.1" />
<path d="M55.7,408.5 L59.900000000000006,406.2 L59.900000000000006,410.8Z M87.4,408.5 L83.2,406.2 L83.2,410.8Z" fill="#111"/>
<line x1="91.7" y1="408.5" x2="119" y2="408.5" stroke="#111" stroke-width="1.1" />
<path d="M89.7,408.5 L93.9,406.2 L93.9,410.8Z M121,408.5 L116.8,406.2 L116.8,410.8Z" fill="#111"/>
<line x1="128.6" y1="408.5" x2="155.6" y2="408.5" stroke="#111" stroke-width="1.1" />
<path d="M126.6,408.5 L130.79999999999998,406.2 L130.79999999999998,410.8Z M157.6,408.5 L153.4,406.2 L153.4,410.8Z" fill="#111"/>
<line x1="167.2" y1="408.5" x2="194.9" y2="408.5" stroke="#111" stroke-width="1.1" />
<path d="M165.2,408.5 L169.39999999999998,406.2 L169.39999999999998,410.8Z M196.9,408.5 L192.70000000000002,406.2 L192.70000000000002,410.8Z" fill="#111"/>
<text x="71.7" y="421.3" font-size="7.6" text-anchor="middle" font-weight="normal" fill="#3a3a3a" stroke="#3a3a3a" stroke-width="0.08" >IL-1β</text>
<text x="104.8" y="421.3" font-size="7.6" text-anchor="middle" font-weight="normal" fill="#3a3a3a" stroke="#3a3a3a" stroke-width="0.08" >IFN-β</text>
<text x="140" y="421.3" font-size="7.6" text-anchor="middle" font-weight="normal" fill="#3a3a3a" stroke="#3a3a3a" stroke-width="0.08" >IL-6</text>
<text x="181" y="421.3" font-size="7.6" text-anchor="middle" font-weight="normal" fill="#3a3a3a" stroke="#3a3a3a" stroke-width="0.08" >TGF-β</text>
<polygon points="76.55,370.85 77.08,372.12 78.45,372.23 77.41,373.13 77.73,374.47 76.55,373.75 75.37,374.47 75.69,373.13 74.65,372.23 76.02,372.12" fill="#151515"/>
<polygon points="80.85,370.85 81.38,372.12 82.75,372.23 81.71,373.13 82.03,374.47 80.85,373.75 79.67,374.47 79.99,373.13 78.95,372.23 80.32,372.12" fill="#151515"/>
<polygon points="113.15,344.25 113.68,345.52 115.05,345.63 114.01,346.53 114.33,347.87 113.15,347.15 111.97,347.87 112.29,346.53 111.25,345.63 112.62,345.52" fill="#151515"/>
<polygon points="117.45,344.25 117.98,345.52 119.35,345.63 118.31,346.53 118.63,347.87 117.45,347.15 116.27,347.87 116.59,346.53 115.55,345.63 116.92,345.52" fill="#151515"/>
<polygon points="149.15,360.25 149.68,361.52 151.05,361.63 150.01,362.53 150.33,363.87 149.15,363.15 147.97,363.87 148.29,362.53 147.25,361.63 148.62,361.52" fill="#151515"/>
<polygon points="153.45,360.25 153.98,361.52 155.35,361.63 154.31,362.53 154.63,363.87 153.45,363.15 152.27,363.87 152.59,362.53 151.55,361.63 152.92,361.52" fill="#151515"/>
<polygon points="181.55,343.95 182.08,345.22 183.45,345.33 182.41,346.23 182.73,347.57 181.55,346.85 180.37,347.57 180.69,346.23 179.65,345.33 181.02,345.22" fill="#151515"/>
<polygon points="185.85,343.95 186.38,345.22 187.75,345.33 186.71,346.23 187.03,347.57 185.85,346.85 184.67,347.57 184.99,346.23 183.95,345.33 185.32,345.22" fill="#151515"/>
<polygon points="190.15,343.95 190.68,345.22 192.05,345.33 191.01,346.23 191.33,347.57 190.15,346.85 188.97,347.57 189.29,346.23 188.25,345.33 189.62,345.22" fill="#151515"/>
<polygon points="194.45,343.95 194.98,345.22 196.35,345.33 195.31,346.23 195.63,347.57 194.45,346.85 193.27,347.57 193.59,346.23 192.55,345.33 193.92,345.22" fill="#151515"/>
<text x="283.6" y="298.4" font-size="8.8" text-anchor="start" font-weight="bold" fill="#24609c" stroke="#24609c" stroke-width="0.1" textLength="72.2" lengthAdjust="spacingAndGlyphs" >Murine platelets</text>
<text transform="translate(249.8,307.1) scale(0.9,1)" x="0" y="0" font-size="8.5" text-anchor="end" font-weight="normal" fill="#333" stroke="#333" stroke-width="0.08" >80</text>
<text transform="translate(249.8,327.1) scale(0.9,1)" x="0" y="0" font-size="8.5" text-anchor="end" font-weight="normal" fill="#333" stroke="#333" stroke-width="0.08" >60</text>
<text transform="translate(249.8,347.1) scale(0.9,1)" x="0" y="0" font-size="8.5" text-anchor="end" font-weight="normal" fill="#333" stroke="#333" stroke-width="0.08" >40</text>
<text transform="translate(249.8,367.1) scale(0.9,1)" x="0" y="0" font-size="8.5" text-anchor="end" font-weight="normal" fill="#333" stroke="#333" stroke-width="0.08" >20</text>
<text transform="translate(249.8,387.1) scale(0.9,1)" x="0" y="0" font-size="8.5" text-anchor="end" font-weight="normal" fill="#333" stroke="#333" stroke-width="0.08" >0</text>
<text transform="translate(249.8,407.1) scale(0.9,1)" x="0" y="0" font-size="8.5" text-anchor="end" font-weight="normal" fill="#333" stroke="#333" stroke-width="0.08" >−20</text>
<line x1="253.3" y1="304.5" x2="256.5" y2="304.5" stroke="#111" stroke-width="1.1" />
<line x1="253.3" y1="324.5" x2="256.5" y2="324.5" stroke="#111" stroke-width="1.1" />
<line x1="253.3" y1="344.5" x2="256.5" y2="344.5" stroke="#111" stroke-width="1.1" />
<line x1="253.3" y1="364.5" x2="256.5" y2="364.5" stroke="#111" stroke-width="1.1" />
<line x1="253.3" y1="384.5" x2="256.5" y2="384.5" stroke="#111" stroke-width="1.1" />
<line x1="253.3" y1="404.5" x2="256.5" y2="404.5" stroke="#111" stroke-width="1.1" />
<text transform="translate(233.6,388.1) rotate(-90)" x="0" y="0" font-size="9.5" fill="#333" stroke="#333" stroke-width="0.15" textLength="72" lengthAdjust="spacingAndGlyphs">Concentration pg/ml</text>
<line x1="257.5" y1="384.5" x2="356.8" y2="384.5" stroke="#555" stroke-width="0.9" stroke-dasharray="0.8,1.5"/>
<path d="M273.60,315.90 L273.65,316.16 L273.70,316.41 L273.75,316.67 L273.80,316.93 L273.85,317.18 L273.90,317.44 L273.95,317.70 L274.00,317.96 L274.05,318.21 L274.10,318.47 L274.15,318.73 L274.20,318.98 L274.25,319.24 L274.30,319.49 L274.35,319.75 L274.40,320.00 L274.45,320.25 L274.50,320.50 L274.54,320.76 L274.59,321.01 L274.64,321.26 L274.68,321.51 L274.73,321.76 L274.78,322.01 L274.82,322.26 L274.87,322.50 L274.92,322.75 L274.97,323.00 L275.03,323.25 L275.08,323.50 L275.14,323.75 L275.20,324.00 L275.27,324.25 L275.33,324.49 L275.41,324.73 L275.49,324.96 L275.57,325.20 L275.65,325.43 L275.73,325.67 L275.81,325.91 L275.89,326.15 L275.98,326.39 L276.06,326.64 L276.13,326.89 L276.21,327.16 L276.28,327.43 L276.34,327.71 L276.40,328.00 L276.46,328.30 L276.51,328.61 L276.56,328.92 L276.62,329.25 L276.67,329.57 L276.71,329.91 L276.76,330.25 L276.80,330.59 L276.84,330.94 L276.87,331.30 L276.91,331.66 L276.93,332.02 L276.96,332.39 L276.98,332.75 L276.99,333.13 L277.00,333.50 L277.00,333.88 L277.00,334.25 L276.99,334.64 L276.97,335.02 L276.95,335.41 L276.93,335.80 L276.90,336.19 L276.87,336.59 L276.84,337.00 L276.80,337.41 L276.77,337.82 L276.73,338.25 L276.70,338.67 L276.66,339.11 L276.63,339.55 L276.60,340.00 L276.57,340.46 L276.53,340.95 L276.48,341.45 L276.44,341.96 L276.38,342.49 L276.33,343.02 L276.28,343.56 L276.23,344.09 L276.19,344.63 L276.15,345.15 L276.11,345.67 L276.09,346.18 L276.07,346.66 L276.07,347.13 L276.08,347.58 L276.10,348.00 L276.14,348.39 L276.18,348.77 L276.24,349.12 L276.31,349.46 L276.39,349.78 L276.47,350.09 L276.56,350.40 L276.66,350.69 L276.77,350.97 L276.88,351.26 L276.99,351.54 L277.11,351.82 L277.23,352.11 L277.35,352.40 L277.48,352.69 L277.60,353.00 L277.73,353.31 L277.87,353.61 L278.02,353.92 L278.17,354.21 L278.33,354.51 L278.50,354.81 L278.66,355.11 L278.83,355.41 L279.00,355.71 L279.17,356.02 L279.34,356.33 L279.50,356.64 L279.66,356.97 L279.81,357.30 L279.96,357.65 L280.10,358.00 L280.24,358.36 L280.38,358.73 L280.52,359.11 L280.67,359.50 L280.81,359.89 L280.95,360.28 L281.09,360.69 L281.23,361.09 L281.35,361.51 L281.47,361.92 L281.58,362.34 L281.67,362.77 L281.75,363.20 L281.82,363.63 L281.87,364.06 L281.90,364.50 L281.91,364.94 L281.91,365.39 L281.90,365.85 L281.87,366.31 L281.83,366.78 L281.78,367.25 L281.72,367.73 L281.65,368.21 L281.57,368.69 L281.48,369.17 L281.38,369.64 L281.28,370.12 L281.17,370.60 L281.05,371.07 L280.93,371.54 L280.80,372.00 L280.66,372.46 L280.51,372.93 L280.34,373.41 L280.16,373.89 L279.98,374.37 L279.78,374.85 L279.58,375.33 L279.37,375.81 L279.16,376.27 L278.95,376.73 L278.74,377.18 L278.54,377.62 L278.34,378.04 L278.15,378.45 L277.97,378.83 L277.80,379.20 L277.64,379.53 L277.49,379.83 L277.34,380.08 L277.19,380.31 L277.05,380.52 L276.91,380.72 L276.77,380.91 L276.64,381.09 L276.51,381.29 L276.38,381.50 L276.25,381.72 L276.12,381.98 L275.99,382.27 L275.86,382.59 L275.73,382.97 L275.60,383.40 L275.47,383.88 L275.34,384.41 L275.21,384.98 L275.09,385.58 L274.96,386.22 L274.84,386.88 L274.71,387.56 L274.59,388.26 L274.46,388.97 L274.34,389.69 L274.22,390.41 L274.10,391.13 L273.97,391.84 L273.85,392.54 L273.72,393.23 L273.60,393.90 L273.60,393.90 L273.48,393.23 L273.35,392.54 L273.23,391.84 L273.10,391.13 L272.98,390.41 L272.86,389.69 L272.74,388.97 L272.61,388.26 L272.49,387.56 L272.36,386.88 L272.24,386.22 L272.11,385.58 L271.99,384.98 L271.86,384.41 L271.73,383.88 L271.60,383.40 L271.47,382.97 L271.34,382.59 L271.21,382.27 L271.08,381.98 L270.95,381.72 L270.82,381.50 L270.69,381.29 L270.56,381.09 L270.43,380.91 L270.29,380.72 L270.15,380.52 L270.01,380.31 L269.86,380.08 L269.71,379.83 L269.56,379.53 L269.40,379.20 L269.23,378.83 L269.05,378.45 L268.86,378.04 L268.66,377.62 L268.46,377.18 L268.25,376.73 L268.04,376.27 L267.83,375.81 L267.62,375.33 L267.42,374.85 L267.22,374.37 L267.04,373.89 L266.86,373.41 L266.69,372.93 L266.54,372.46 L266.40,372.00 L266.27,371.54 L266.15,371.07 L266.03,370.60 L265.92,370.12 L265.82,369.64 L265.72,369.17 L265.63,368.69 L265.55,368.21 L265.48,367.73 L265.42,367.25 L265.37,366.78 L265.33,366.31 L265.30,365.85 L265.29,365.39 L265.29,364.94 L265.30,364.50 L265.33,364.06 L265.38,363.63 L265.45,363.20 L265.53,362.77 L265.62,362.34 L265.73,361.92 L265.85,361.51 L265.98,361.09 L266.11,360.69 L266.25,360.28 L266.39,359.89 L266.53,359.50 L266.68,359.11 L266.82,358.73 L266.96,358.36 L267.10,358.00 L267.24,357.65 L267.39,357.30 L267.54,356.97 L267.70,356.64 L267.86,356.33 L268.03,356.02 L268.20,355.71 L268.37,355.41 L268.54,355.11 L268.70,354.81 L268.87,354.51 L269.03,354.21 L269.18,353.92 L269.33,353.61 L269.47,353.31 L269.60,353.00 L269.72,352.69 L269.85,352.40 L269.97,352.11 L270.09,351.82 L270.21,351.54 L270.32,351.26 L270.43,350.97 L270.54,350.69 L270.64,350.40 L270.73,350.09 L270.81,349.78 L270.89,349.46 L270.96,349.12 L271.02,348.77 L271.06,348.39 L271.10,348.00 L271.12,347.58 L271.13,347.13 L271.13,346.66 L271.11,346.18 L271.09,345.67 L271.05,345.15 L271.01,344.63 L270.97,344.09 L270.92,343.56 L270.87,343.02 L270.82,342.49 L270.76,341.96 L270.72,341.45 L270.67,340.95 L270.63,340.46 L270.60,340.00 L270.57,339.55 L270.54,339.11 L270.50,338.67 L270.47,338.25 L270.43,337.82 L270.40,337.41 L270.36,337.00 L270.33,336.59 L270.30,336.19 L270.27,335.80 L270.25,335.41 L270.23,335.02 L270.21,334.64 L270.20,334.25 L270.20,333.88 L270.20,333.50 L270.21,333.13 L270.22,332.75 L270.24,332.39 L270.27,332.02 L270.29,331.66 L270.33,331.30 L270.36,330.94 L270.40,330.59 L270.44,330.25 L270.49,329.91 L270.53,329.57 L270.58,329.25 L270.64,328.92 L270.69,328.61 L270.74,328.30 L270.80,328.00 L270.86,327.71 L270.92,327.43 L270.99,327.16 L271.07,326.89 L271.14,326.64 L271.22,326.39 L271.31,326.15 L271.39,325.91 L271.47,325.67 L271.55,325.43 L271.63,325.20 L271.71,324.96 L271.79,324.73 L271.87,324.49 L271.93,324.25 L272.00,324.00 L272.06,323.75 L272.12,323.50 L272.17,323.25 L272.23,323.00 L272.28,322.75 L272.33,322.50 L272.38,322.26 L272.43,322.01 L272.47,321.76 L272.52,321.51 L272.56,321.26 L272.61,321.01 L272.66,320.76 L272.70,320.50 L272.75,320.25 L272.80,320.00 L272.85,319.75 L272.90,319.49 L272.95,319.24 L273.00,318.98 L273.05,318.73 L273.10,318.47 L273.15,318.21 L273.20,317.96 L273.25,317.70 L273.30,317.44 L273.35,317.18 L273.40,316.93 L273.45,316.67 L273.50,316.41 L273.55,316.16 L273.60,315.90Z" fill="#e98d9f" stroke="#111" stroke-width="1.4" stroke-linejoin="round"/>
<line x1="271.02" y1="348.7" x2="276.18" y2="348.7" stroke="#555" stroke-width="0.6"/>
<line x1="265.71" y1="362" x2="281.49" y2="362" stroke="#2a2a2a" stroke-width="1.1"/>
<line x1="266.21" y1="371.3" x2="280.99" y2="371.3" stroke="#555" stroke-width="0.6"/>
<rect x="272.60" y="331.00" width="2" height="2" fill="#d80a32"/>
<rect x="272.60" y="339.40" width="2" height="2" fill="#d80a32"/>
<rect x="272.60" y="352.00" width="2" height="2" fill="#d80a32"/>
<rect x="272.60" y="357.20" width="2" height="2" fill="#d80a32"/>
<rect x="272.60" y="361.40" width="2" height="2" fill="#d80a32"/>
<rect x="272.60" y="367.70" width="2" height="2" fill="#d80a32"/>
<rect x="272.60" y="370.90" width="2" height="2" fill="#d80a32"/>
<rect x="272.60" y="374.00" width="2" height="2" fill="#d80a32"/>
<rect x="269.00" y="361.40" width="2" height="2" fill="#d80a32"/>
<rect x="276.00" y="361.40" width="2" height="2" fill="#d80a32"/>
<path d="M294.20,363.50 L294.38,363.63 L294.56,363.74 L294.72,363.85 L294.89,363.95 L295.05,364.05 L295.21,364.15 L295.37,364.25 L295.53,364.36 L295.70,364.47 L295.88,364.59 L296.06,364.71 L296.26,364.86 L296.47,365.01 L296.70,365.19 L296.94,365.38 L297.20,365.60 L297.50,365.84 L297.84,366.12 L298.22,366.41 L298.63,366.73 L299.06,367.06 L299.51,367.41 L299.96,367.77 L300.41,368.13 L300.84,368.50 L301.26,368.86 L301.65,369.22 L302.00,369.57 L302.31,369.90 L302.57,370.22 L302.77,370.52 L302.90,370.80 L302.96,371.06 L302.94,371.30 L302.86,371.54 L302.73,371.77 L302.55,371.98 L302.34,372.19 L302.10,372.40 L301.84,372.59 L301.58,372.78 L301.31,372.97 L301.05,373.15 L300.81,373.32 L300.60,373.50 L300.42,373.67 L300.28,373.83 L300.20,374.00 L300.17,374.16 L300.19,374.30 L300.24,374.43 L300.33,374.55 L300.44,374.67 L300.57,374.78 L300.70,374.88 L300.84,374.99 L300.98,375.10 L301.10,375.21 L301.21,375.33 L301.29,375.45 L301.33,375.59 L301.34,375.74 L301.30,375.91 L301.20,376.10 L301.05,376.31 L300.84,376.54 L300.59,376.79 L300.30,377.05 L299.98,377.33 L299.63,377.61 L299.27,377.91 L298.89,378.20 L298.50,378.49 L298.12,378.79 L297.74,379.07 L297.38,379.35 L297.04,379.61 L296.72,379.86 L296.44,380.09 L296.20,380.30 L295.99,380.49 L295.81,380.66 L295.64,380.82 L295.49,380.97 L295.35,381.11 L295.23,381.24 L295.12,381.36 L295.01,381.48 L294.91,381.59 L294.82,381.70 L294.72,381.81 L294.63,381.92 L294.53,382.04 L294.43,382.15 L294.32,382.27 L294.20,382.40 L294.20,382.40 L294.08,382.27 L293.97,382.15 L293.87,382.04 L293.77,381.92 L293.68,381.81 L293.58,381.70 L293.49,381.59 L293.39,381.48 L293.28,381.36 L293.17,381.24 L293.05,381.11 L292.91,380.97 L292.76,380.82 L292.59,380.66 L292.41,380.49 L292.20,380.30 L291.96,380.09 L291.68,379.86 L291.36,379.61 L291.02,379.35 L290.66,379.07 L290.28,378.79 L289.90,378.49 L289.51,378.20 L289.13,377.91 L288.77,377.61 L288.42,377.33 L288.10,377.05 L287.81,376.79 L287.56,376.54 L287.35,376.31 L287.20,376.10 L287.10,375.91 L287.06,375.74 L287.07,375.59 L287.11,375.45 L287.19,375.33 L287.30,375.21 L287.42,375.10 L287.56,374.99 L287.70,374.88 L287.83,374.78 L287.96,374.67 L288.07,374.55 L288.16,374.43 L288.21,374.30 L288.23,374.16 L288.20,374.00 L288.12,373.83 L287.98,373.67 L287.80,373.50 L287.59,373.32 L287.35,373.15 L287.09,372.97 L286.82,372.78 L286.56,372.59 L286.30,372.40 L286.06,372.19 L285.85,371.98 L285.67,371.77 L285.54,371.54 L285.46,371.30 L285.44,371.06 L285.50,370.80 L285.63,370.52 L285.83,370.22 L286.09,369.90 L286.40,369.57 L286.75,369.22 L287.14,368.86 L287.56,368.50 L287.99,368.13 L288.44,367.77 L288.89,367.41 L289.34,367.06 L289.77,366.73 L290.18,366.41 L290.56,366.12 L290.90,365.84 L291.20,365.60 L291.46,365.38 L291.70,365.19 L291.93,365.01 L292.14,364.86 L292.34,364.71 L292.52,364.59 L292.70,364.47 L292.87,364.36 L293.03,364.25 L293.19,364.15 L293.35,364.05 L293.51,363.95 L293.68,363.85 L293.84,363.74 L294.02,363.63 L294.20,363.50Z" fill="#88aed3" stroke="#111" stroke-width="1.4" stroke-linejoin="round"/>
<line x1="285.50" y1="370.8" x2="302.90" y2="370.8" stroke="#2a2a2a" stroke-width="1.1"/>
<line x1="287.15" y1="376" x2="301.25" y2="376" stroke="#555" stroke-width="0.6"/>
<rect x="293.20" y="365.00" width="2" height="2" fill="#1a5796"/>
<rect x="289.50" y="369.80" width="2" height="2" fill="#1a5796"/>
<rect x="296.90" y="369.80" width="2" height="2" fill="#1a5796"/>
<rect x="293.20" y="369.80" width="2" height="2" fill="#1a5796"/>
<rect x="286.00" y="369.80" width="2" height="2" fill="#1a5796"/>
<rect x="300.00" y="369.80" width="2" height="2" fill="#1a5796"/>
<rect x="293.20" y="372.50" width="2" height="2" fill="#1a5796"/>
<rect x="289.50" y="375.00" width="2" height="2" fill="#1a5796"/>
<rect x="296.90" y="375.00" width="2" height="2" fill="#1a5796"/>
<rect x="293.20" y="375.00" width="2" height="2" fill="#1a5796"/>
<rect x="293.20" y="378.00" width="2" height="2" fill="#1a5796"/>
<rect x="291.00" y="367.00" width="2" height="2" fill="#1a5796"/>
<rect x="295.40" y="367.00" width="2" height="2" fill="#1a5796"/>
<path d="M319.40,375.20 L319.55,375.31 L319.70,375.41 L319.83,375.50 L319.97,375.59 L320.10,375.68 L320.23,375.77 L320.36,375.85 L320.50,375.94 L320.64,376.04 L320.79,376.14 L320.94,376.25 L321.11,376.37 L321.28,376.51 L321.47,376.66 L321.68,376.82 L321.90,377.00 L322.16,377.20 L322.46,377.43 L322.80,377.67 L323.16,377.94 L323.55,378.21 L323.95,378.50 L324.35,378.79 L324.75,379.09 L325.14,379.39 L325.50,379.69 L325.84,379.99 L326.14,380.28 L326.39,380.56 L326.59,380.82 L326.73,381.07 L326.80,381.30 L326.80,381.51 L326.73,381.72 L326.61,381.92 L326.43,382.10 L326.22,382.29 L325.96,382.46 L325.68,382.63 L325.38,382.79 L325.05,382.95 L324.72,383.11 L324.38,383.26 L324.05,383.41 L323.73,383.56 L323.43,383.71 L323.15,383.85 L322.90,384.00 L322.67,384.14 L322.44,384.28 L322.22,384.42 L322.00,384.55 L321.78,384.68 L321.56,384.80 L321.34,384.92 L321.12,385.04 L320.91,385.16 L320.69,385.28 L320.48,385.40 L320.27,385.52 L320.05,385.63 L319.83,385.75 L319.62,385.88 L319.40,386.00 L319.40,386.00 L319.18,385.88 L318.97,385.75 L318.75,385.63 L318.53,385.52 L318.32,385.40 L318.11,385.28 L317.89,385.16 L317.67,385.04 L317.46,384.92 L317.24,384.80 L317.02,384.68 L316.80,384.55 L316.58,384.42 L316.36,384.28 L316.13,384.14 L315.90,384.00 L315.65,383.85 L315.37,383.71 L315.07,383.56 L314.75,383.41 L314.42,383.26 L314.08,383.11 L313.75,382.95 L313.42,382.79 L313.12,382.63 L312.84,382.46 L312.58,382.29 L312.37,382.10 L312.19,381.92 L312.07,381.72 L312.00,381.51 L312.00,381.30 L312.07,381.07 L312.21,380.82 L312.41,380.56 L312.66,380.28 L312.96,379.99 L313.30,379.69 L313.66,379.39 L314.05,379.09 L314.45,378.79 L314.85,378.50 L315.25,378.21 L315.64,377.94 L316.00,377.67 L316.34,377.43 L316.64,377.20 L316.90,377.00 L317.12,376.82 L317.33,376.66 L317.52,376.51 L317.69,376.37 L317.86,376.25 L318.01,376.14 L318.16,376.04 L318.30,375.94 L318.44,375.85 L318.57,375.77 L318.70,375.68 L318.83,375.59 L318.97,375.50 L319.10,375.41 L319.25,375.31 L319.40,375.20Z" fill="#e98d9f" stroke="#111" stroke-width="1.1" stroke-linejoin="round"/>
<line x1="312.00" y1="381.3" x2="326.80" y2="381.3" stroke="#2a2a2a" stroke-width="1.1"/>
<rect x="311.50" y="381.50" width="2" height="2" fill="#d80a32"/>
<rect x="315.00" y="378.60" width="2" height="2" fill="#d80a32"/>
<rect x="318.40" y="376.80" width="2" height="2" fill="#d80a32"/>
<rect x="321.80" y="378.60" width="2" height="2" fill="#d80a32"/>
<rect x="325.30" y="381.50" width="2" height="2" fill="#d80a32"/>
<rect x="318.40" y="381.50" width="2" height="2" fill="#d80a32"/>
<rect x="315.00" y="383.00" width="2" height="2" fill="#d80a32"/>
<rect x="321.80" y="383.00" width="2" height="2" fill="#d80a32"/>
<rect x="312.50" y="379.00" width="2" height="2" fill="#d80a32"/>
<rect x="324.30" y="379.00" width="2" height="2" fill="#d80a32"/>
<path d="M331.4,383.8 L333,381.2 L335,382.5 L338,381.5 L342,382 L348.7,383.6 L342,384.5 L335,384.5Z" fill="#1a5796" stroke="#1a5796" stroke-width="1.2" stroke-linejoin="round"/>
<line x1="256.5" y1="300" x2="256.5" y2="405.1" stroke="#111" stroke-width="1.25" />
<line x1="255.9" y1="404.5" x2="356.8" y2="404.5" stroke="#111" stroke-width="1.3" />
<line x1="269.3" y1="408.5" x2="295.9" y2="408.5" stroke="#111" stroke-width="1.1" />
<path d="M267.3,408.5 L271.5,406.2 L271.5,410.8Z M297.9,408.5 L293.7,406.2 L293.7,410.8Z" fill="#111"/>
<line x1="316.2" y1="408.5" x2="343.4" y2="408.5" stroke="#111" stroke-width="1.1" />
<path d="M314.2,408.5 L318.4,406.2 L318.4,410.8Z M345.4,408.5 L341.2,406.2 L341.2,410.8Z" fill="#111"/>
<text x="281.9" y="421.3" font-size="7.6" text-anchor="middle" font-weight="normal" fill="#3a3a3a" stroke="#3a3a3a" stroke-width="0.08" >IFN-γ</text>
<text x="329.8" y="421.3" font-size="7.6" text-anchor="middle" font-weight="normal" fill="#3a3a3a" stroke="#3a3a3a" stroke-width="0.08" >TNF-α</text>
<polygon points="294.20,356.85 294.73,358.12 296.10,358.23 295.06,359.13 295.38,360.47 294.20,359.75 293.02,360.47 293.34,359.13 292.30,358.23 293.67,358.12" fill="#151515"/>
<polygon points="336.95,375.15 337.48,376.42 338.85,376.53 337.81,377.43 338.13,378.77 336.95,378.05 335.77,378.77 336.09,377.43 335.05,376.53 336.42,376.42" fill="#151515"/>
<polygon points="341.25,375.15 341.78,376.42 343.15,376.53 342.11,377.43 342.43,378.77 341.25,378.05 340.07,378.77 340.39,377.43 339.35,376.53 340.72,376.42" fill="#151515"/>
<text transform="translate(410.3,306.20000000000005) scale(0.9,1)" x="0" y="0" font-size="8.5" text-anchor="end" font-weight="normal" fill="#333" stroke="#333" stroke-width="0.08" >8000</text>
<text transform="translate(410.3,347.1) scale(0.9,1)" x="0" y="0" font-size="8.5" text-anchor="end" font-weight="normal" fill="#333" stroke="#333" stroke-width="0.08" >4000</text>
<text transform="translate(410.3,386.5) scale(0.9,1)" x="0" y="0" font-size="8.5" text-anchor="end" font-weight="normal" fill="#333" stroke="#333" stroke-width="0.08" >0</text>
<line x1="413.2" y1="303.6" x2="416.5" y2="303.6" stroke="#111" stroke-width="1.1" />
<line x1="413.2" y1="344.5" x2="416.5" y2="344.5" stroke="#111" stroke-width="1.1" />
<line x1="413.2" y1="383.9" x2="416.5" y2="383.9" stroke="#111" stroke-width="1.1" />
<text transform="translate(387.2,387.7) rotate(-90)" x="0" y="0" font-size="9.5" fill="#333" stroke="#333" stroke-width="0.15" textLength="80" lengthAdjust="spacingAndGlyphs">Concentration pg/ml</text>
<line x1="417.5" y1="384.2" x2="476.4" y2="384.2" stroke="#555" stroke-width="0.9" stroke-dasharray="0.8,1.5"/>
<path d="M434.10,304.10 L434.16,304.35 L434.23,304.60 L434.29,304.85 L434.36,305.11 L434.43,305.37 L434.50,305.63 L434.56,305.89 L434.63,306.15 L434.70,306.40 L434.76,306.65 L434.82,306.90 L434.89,307.14 L434.94,307.37 L435.00,307.59 L435.05,307.80 L435.10,308.00 L435.14,308.19 L435.18,308.36 L435.22,308.52 L435.25,308.68 L435.28,308.82 L435.30,308.96 L435.33,309.10 L435.35,309.23 L435.37,309.35 L435.40,309.48 L435.42,309.61 L435.45,309.73 L435.48,309.87 L435.52,310.00 L435.56,310.15 L435.60,310.30 L435.65,310.46 L435.71,310.62 L435.77,310.78 L435.83,310.94 L435.90,311.10 L435.96,311.27 L436.04,311.44 L436.11,311.61 L436.18,311.78 L436.25,311.95 L436.32,312.12 L436.38,312.29 L436.44,312.47 L436.50,312.65 L436.55,312.82 L436.60,313.00 L436.64,313.18 L436.68,313.36 L436.72,313.54 L436.76,313.73 L436.80,313.92 L436.83,314.10 L436.86,314.29 L436.89,314.48 L436.91,314.67 L436.93,314.86 L436.95,315.05 L436.97,315.24 L436.98,315.43 L436.99,315.62 L437.00,315.81 L437.00,316.00 L437.00,316.19 L436.99,316.38 L436.99,316.57 L436.98,316.76 L436.96,316.95 L436.94,317.14 L436.92,317.33 L436.90,317.52 L436.87,317.71 L436.84,317.90 L436.81,318.08 L436.78,318.27 L436.74,318.46 L436.69,318.64 L436.65,318.82 L436.60,319.00 L436.54,319.18 L436.48,319.36 L436.41,319.55 L436.33,319.73 L436.25,319.92 L436.16,320.10 L436.07,320.28 L435.98,320.46 L435.89,320.64 L435.80,320.81 L435.72,320.98 L435.64,321.14 L435.57,321.29 L435.50,321.44 L435.45,321.57 L435.40,321.70 L435.36,321.81 L435.33,321.91 L435.31,321.99 L435.29,322.05 L435.27,322.11 L435.26,322.16 L435.25,322.21 L435.25,322.26 L435.25,322.30 L435.25,322.35 L435.26,322.41 L435.26,322.48 L435.27,322.56 L435.28,322.65 L435.29,322.77 L435.30,322.90 L435.31,323.05 L435.32,323.20 L435.34,323.35 L435.35,323.52 L435.37,323.69 L435.39,323.86 L435.41,324.05 L435.43,324.25 L435.46,324.46 L435.48,324.68 L435.51,324.91 L435.55,325.16 L435.58,325.42 L435.62,325.70 L435.66,325.99 L435.70,326.30 L435.75,326.64 L435.81,327.01 L435.87,327.41 L435.95,327.83 L436.02,328.27 L436.10,328.73 L436.18,329.20 L436.26,329.67 L436.34,330.14 L436.42,330.61 L436.49,331.08 L436.55,331.52 L436.60,331.96 L436.65,332.37 L436.68,332.75 L436.70,333.10 L436.71,333.42 L436.70,333.73 L436.69,334.01 L436.66,334.28 L436.63,334.54 L436.59,334.78 L436.54,335.02 L436.49,335.24 L436.44,335.46 L436.39,335.68 L436.33,335.89 L436.28,336.11 L436.23,336.32 L436.18,336.54 L436.14,336.77 L436.10,337.00 L436.06,337.24 L436.01,337.47 L435.95,337.70 L435.88,337.93 L435.82,338.16 L435.75,338.39 L435.68,338.62 L435.62,338.85 L435.56,339.08 L435.52,339.31 L435.49,339.54 L435.47,339.77 L435.47,340.00 L435.49,340.23 L435.53,340.46 L435.60,340.70 L435.69,340.93 L435.81,341.14 L435.95,341.34 L436.11,341.54 L436.29,341.73 L436.48,341.92 L436.68,342.11 L436.89,342.31 L437.12,342.52 L437.34,342.75 L437.57,342.99 L437.81,343.25 L438.04,343.54 L438.26,343.86 L438.49,344.21 L438.70,344.60 L438.92,345.03 L439.17,345.49 L439.43,345.98 L439.70,346.51 L439.99,347.06 L440.27,347.63 L440.56,348.22 L440.84,348.82 L441.11,349.43 L441.36,350.05 L441.59,350.67 L441.80,351.30 L441.98,351.91 L442.13,352.52 L442.24,353.12 L442.30,353.70 L442.32,354.27 L442.30,354.84 L442.24,355.40 L442.15,355.97 L442.04,356.53 L441.90,357.10 L441.73,357.66 L441.56,358.23 L441.37,358.80 L441.17,359.37 L440.96,359.95 L440.76,360.53 L440.55,361.11 L440.36,361.70 L440.17,362.30 L440.00,362.90 L439.83,363.51 L439.66,364.14 L439.47,364.78 L439.28,365.43 L439.09,366.09 L438.89,366.75 L438.70,367.41 L438.50,368.07 L438.30,368.74 L438.11,369.39 L437.92,370.04 L437.74,370.68 L437.57,371.31 L437.40,371.92 L437.24,372.52 L437.10,373.10 L436.97,373.67 L436.84,374.23 L436.72,374.79 L436.61,375.35 L436.50,375.90 L436.40,376.44 L436.30,376.97 L436.21,377.49 L436.13,378.00 L436.04,378.50 L435.96,378.98 L435.89,379.44 L435.81,379.89 L435.74,380.31 L435.67,380.72 L435.60,381.10 L435.53,381.45 L435.47,381.74 L435.42,382.00 L435.37,382.22 L435.33,382.42 L435.28,382.59 L435.24,382.76 L435.21,382.93 L435.17,383.09 L435.13,383.27 L435.10,383.47 L435.06,383.69 L435.03,383.95 L434.99,384.25 L434.95,384.60 L434.90,385.00 L434.85,385.46 L434.80,385.96 L434.76,386.50 L434.71,387.07 L434.66,387.67 L434.61,388.30 L434.56,388.95 L434.51,389.62 L434.46,390.30 L434.40,390.98 L434.35,391.67 L434.30,392.36 L434.25,393.04 L434.20,393.71 L434.15,394.36 L434.10,395.00 L434.10,395.00 L434.05,394.36 L434.00,393.71 L433.95,393.04 L433.90,392.36 L433.85,391.67 L433.80,390.98 L433.74,390.30 L433.69,389.62 L433.64,388.95 L433.59,388.30 L433.54,387.67 L433.49,387.07 L433.44,386.50 L433.40,385.96 L433.35,385.46 L433.30,385.00 L433.25,384.60 L433.21,384.25 L433.17,383.95 L433.14,383.69 L433.10,383.47 L433.07,383.27 L433.03,383.09 L432.99,382.93 L432.96,382.76 L432.92,382.59 L432.87,382.42 L432.83,382.22 L432.78,382.00 L432.73,381.74 L432.67,381.45 L432.60,381.10 L432.53,380.72 L432.46,380.31 L432.39,379.89 L432.31,379.44 L432.24,378.98 L432.16,378.50 L432.07,378.00 L431.99,377.49 L431.90,376.97 L431.80,376.44 L431.70,375.90 L431.59,375.35 L431.48,374.79 L431.36,374.23 L431.23,373.67 L431.10,373.10 L430.96,372.52 L430.80,371.92 L430.63,371.31 L430.46,370.68 L430.28,370.04 L430.09,369.39 L429.90,368.74 L429.70,368.07 L429.50,367.41 L429.31,366.75 L429.11,366.09 L428.92,365.43 L428.73,364.78 L428.54,364.14 L428.37,363.51 L428.20,362.90 L428.03,362.30 L427.84,361.70 L427.65,361.11 L427.44,360.53 L427.24,359.95 L427.03,359.37 L426.83,358.80 L426.64,358.23 L426.47,357.66 L426.30,357.10 L426.16,356.53 L426.05,355.97 L425.96,355.40 L425.90,354.84 L425.88,354.27 L425.90,353.70 L425.96,353.12 L426.07,352.52 L426.22,351.91 L426.40,351.30 L426.61,350.67 L426.84,350.05 L427.09,349.43 L427.36,348.82 L427.64,348.22 L427.93,347.63 L428.21,347.06 L428.50,346.51 L428.77,345.98 L429.03,345.49 L429.28,345.03 L429.50,344.60 L429.71,344.21 L429.94,343.86 L430.16,343.54 L430.39,343.25 L430.63,342.99 L430.86,342.75 L431.08,342.52 L431.31,342.31 L431.52,342.11 L431.72,341.92 L431.91,341.73 L432.09,341.54 L432.25,341.34 L432.39,341.14 L432.51,340.93 L432.60,340.70 L432.67,340.46 L432.71,340.23 L432.73,340.00 L432.73,339.77 L432.71,339.54 L432.68,339.31 L432.64,339.08 L432.58,338.85 L432.52,338.62 L432.45,338.39 L432.38,338.16 L432.32,337.93 L432.25,337.70 L432.19,337.47 L432.14,337.24 L432.10,337.00 L432.06,336.77 L432.02,336.54 L431.97,336.32 L431.92,336.11 L431.87,335.89 L431.81,335.68 L431.76,335.46 L431.71,335.24 L431.66,335.02 L431.61,334.78 L431.57,334.54 L431.54,334.28 L431.51,334.01 L431.50,333.73 L431.49,333.42 L431.50,333.10 L431.52,332.75 L431.55,332.37 L431.60,331.96 L431.65,331.52 L431.71,331.08 L431.78,330.61 L431.86,330.14 L431.94,329.67 L432.02,329.20 L432.10,328.73 L432.18,328.27 L432.25,327.83 L432.33,327.41 L432.39,327.01 L432.45,326.64 L432.50,326.30 L432.54,325.99 L432.58,325.70 L432.62,325.42 L432.65,325.16 L432.69,324.91 L432.72,324.68 L432.74,324.46 L432.77,324.25 L432.79,324.05 L432.81,323.86 L432.83,323.69 L432.85,323.52 L432.86,323.35 L432.88,323.20 L432.89,323.05 L432.90,322.90 L432.91,322.77 L432.92,322.65 L432.93,322.56 L432.94,322.48 L432.94,322.41 L432.95,322.35 L432.95,322.30 L432.95,322.26 L432.95,322.21 L432.94,322.16 L432.93,322.11 L432.91,322.05 L432.89,321.99 L432.87,321.91 L432.84,321.81 L432.80,321.70 L432.75,321.57 L432.70,321.44 L432.63,321.29 L432.56,321.14 L432.48,320.98 L432.40,320.81 L432.31,320.64 L432.22,320.46 L432.13,320.28 L432.04,320.10 L431.95,319.92 L431.87,319.73 L431.79,319.55 L431.72,319.36 L431.66,319.18 L431.60,319.00 L431.55,318.82 L431.51,318.64 L431.46,318.46 L431.43,318.27 L431.39,318.08 L431.36,317.90 L431.33,317.71 L431.30,317.52 L431.28,317.33 L431.26,317.14 L431.24,316.95 L431.23,316.76 L431.21,316.57 L431.21,316.38 L431.20,316.19 L431.20,316.00 L431.20,315.81 L431.21,315.62 L431.22,315.43 L431.23,315.24 L431.25,315.05 L431.27,314.86 L431.29,314.67 L431.31,314.48 L431.34,314.29 L431.37,314.10 L431.40,313.92 L431.44,313.73 L431.48,313.54 L431.52,313.36 L431.56,313.18 L431.60,313.00 L431.65,312.82 L431.70,312.65 L431.76,312.47 L431.82,312.29 L431.88,312.12 L431.95,311.95 L432.02,311.78 L432.09,311.61 L432.16,311.44 L432.24,311.27 L432.30,311.10 L432.37,310.94 L432.43,310.78 L432.49,310.62 L432.55,310.46 L432.60,310.30 L432.64,310.15 L432.68,310.00 L432.72,309.87 L432.75,309.73 L432.78,309.61 L432.80,309.48 L432.83,309.35 L432.85,309.23 L432.87,309.10 L432.90,308.96 L432.92,308.82 L432.95,308.68 L432.98,308.52 L433.02,308.36 L433.06,308.19 L433.10,308.00 L433.15,307.80 L433.20,307.59 L433.26,307.37 L433.31,307.14 L433.38,306.90 L433.44,306.65 L433.50,306.40 L433.57,306.15 L433.64,305.89 L433.70,305.63 L433.77,305.37 L433.84,305.11 L433.91,304.85 L433.97,304.60 L434.04,304.35 L434.10,304.10Z" fill="#e98d9f" stroke="#111" stroke-width="1.35" stroke-linejoin="round"/>
<line x1="425.91" y1="354.9" x2="442.29" y2="354.9" stroke="#2a2a2a" stroke-width="1.1"/>
<line x1="427.75" y1="348" x2="440.45" y2="348" stroke="#555" stroke-width="0.6"/>
<line x1="427.84" y1="361.7" x2="440.36" y2="361.7" stroke="#555" stroke-width="0.6"/>
<rect x="433.10" y="312.00" width="2" height="2" fill="#d80a32"/>
<rect x="433.10" y="316.00" width="2" height="2" fill="#d80a32"/>
<rect x="433.10" y="327.00" width="2" height="2" fill="#d80a32"/>
<rect x="433.10" y="332.00" width="2" height="2" fill="#d80a32"/>
<rect x="433.10" y="336.00" width="2" height="2" fill="#d80a32"/>
<rect x="430.00" y="345.00" width="2" height="2" fill="#d80a32"/>
<rect x="436.00" y="345.00" width="2" height="2" fill="#d80a32"/>
<rect x="428.00" y="349.00" width="2" height="2" fill="#d80a32"/>
<rect x="433.10" y="349.00" width="2" height="2" fill="#d80a32"/>
<rect x="438.00" y="349.00" width="2" height="2" fill="#d80a32"/>
<rect x="427.00" y="354.00" width="2" height="2" fill="#d80a32"/>
<rect x="431.00" y="354.00" width="2" height="2" fill="#d80a32"/>
<rect x="435.00" y="354.00" width="2" height="2" fill="#d80a32"/>
<rect x="439.00" y="354.00" width="2" height="2" fill="#d80a32"/>
<rect x="429.00" y="358.00" width="2" height="2" fill="#d80a32"/>
<rect x="437.00" y="358.00" width="2" height="2" fill="#d80a32"/>
<rect x="433.10" y="361.00" width="2" height="2" fill="#d80a32"/>
<rect x="430.00" y="365.00" width="2" height="2" fill="#d80a32"/>
<rect x="436.00" y="365.00" width="2" height="2" fill="#d80a32"/>
<rect x="433.10" y="369.00" width="2" height="2" fill="#d80a32"/>
<rect x="431.00" y="375.00" width="2" height="2" fill="#d80a32"/>
<rect x="433.10" y="379.00" width="2" height="2" fill="#d80a32"/>
<rect x="439.00" y="347.00" width="2" height="2" fill="#d80a32"/>
<rect x="441.00" y="356.00" width="2" height="2" fill="#d80a32"/>
<rect x="437.00" y="367.00" width="2" height="2" fill="#d80a32"/>
<path d="M456.70,336.60 L456.76,336.75 L456.83,336.89 L456.89,337.04 L456.96,337.18 L457.03,337.32 L457.10,337.46 L457.16,337.60 L457.23,337.74 L457.30,337.89 L457.36,338.03 L457.42,338.18 L457.49,338.34 L457.54,338.49 L457.60,338.66 L457.65,338.83 L457.70,339.00 L457.74,339.17 L457.77,339.32 L457.80,339.46 L457.81,339.60 L457.83,339.73 L457.84,339.86 L457.85,340.00 L457.86,340.16 L457.87,340.32 L457.89,340.51 L457.91,340.72 L457.95,340.96 L457.99,341.24 L458.05,341.55 L458.11,341.90 L458.20,342.30 L458.30,342.76 L458.42,343.28 L458.55,343.86 L458.69,344.49 L458.84,345.16 L459.00,345.85 L459.17,346.57 L459.34,347.30 L459.51,348.04 L459.69,348.77 L459.87,349.49 L460.04,350.18 L460.22,350.85 L460.38,351.48 L460.55,352.07 L460.70,352.60 L460.85,353.08 L461.00,353.53 L461.14,353.95 L461.29,354.35 L461.43,354.72 L461.58,355.07 L461.72,355.41 L461.86,355.74 L462.00,356.05 L462.15,356.36 L462.29,356.67 L462.43,356.98 L462.57,357.30 L462.71,357.62 L462.86,357.95 L463.00,358.30 L463.15,358.65 L463.33,359.00 L463.51,359.35 L463.71,359.70 L463.91,360.04 L464.12,360.38 L464.32,360.73 L464.51,361.07 L464.70,361.42 L464.86,361.77 L465.01,362.13 L465.13,362.49 L465.23,362.86 L465.29,363.23 L465.32,363.61 L465.30,364.00 L465.24,364.39 L465.13,364.79 L464.99,365.19 L464.81,365.59 L464.60,365.99 L464.37,366.40 L464.12,366.82 L463.86,367.24 L463.58,367.66 L463.30,368.10 L463.02,368.54 L462.75,368.99 L462.48,369.45 L462.23,369.92 L462.00,370.41 L461.80,370.90 L461.61,371.41 L461.42,371.95 L461.24,372.50 L461.06,373.07 L460.88,373.66 L460.71,374.25 L460.54,374.85 L460.38,375.45 L460.21,376.05 L460.05,376.65 L459.90,377.24 L459.75,377.83 L459.61,378.40 L459.47,378.95 L459.33,379.49 L459.20,380.00 L459.08,380.49 L458.96,380.97 L458.84,381.43 L458.74,381.88 L458.63,382.32 L458.53,382.75 L458.44,383.18 L458.35,383.59 L458.26,384.01 L458.18,384.42 L458.09,384.82 L458.01,385.23 L457.93,385.64 L457.86,386.06 L457.78,386.48 L457.70,386.90 L457.62,387.33 L457.55,387.75 L457.48,388.18 L457.41,388.61 L457.35,389.03 L457.29,389.46 L457.23,389.88 L457.17,390.31 L457.11,390.73 L457.05,391.15 L457.00,391.58 L456.94,392.00 L456.88,392.43 L456.82,392.85 L456.76,393.28 L456.70,393.70 L456.70,393.70 L456.64,393.28 L456.58,392.85 L456.52,392.43 L456.46,392.00 L456.40,391.58 L456.35,391.15 L456.29,390.73 L456.23,390.31 L456.17,389.88 L456.11,389.46 L456.05,389.03 L455.99,388.61 L455.92,388.18 L455.85,387.75 L455.78,387.33 L455.70,386.90 L455.62,386.48 L455.54,386.06 L455.47,385.64 L455.39,385.23 L455.31,384.82 L455.22,384.42 L455.14,384.01 L455.05,383.59 L454.96,383.18 L454.87,382.75 L454.77,382.32 L454.66,381.88 L454.56,381.43 L454.44,380.97 L454.32,380.49 L454.20,380.00 L454.07,379.49 L453.93,378.95 L453.79,378.40 L453.65,377.83 L453.50,377.24 L453.35,376.65 L453.19,376.05 L453.02,375.45 L452.86,374.85 L452.69,374.25 L452.52,373.66 L452.34,373.07 L452.16,372.50 L451.98,371.95 L451.79,371.41 L451.60,370.90 L451.40,370.41 L451.17,369.92 L450.92,369.45 L450.65,368.99 L450.38,368.54 L450.10,368.10 L449.82,367.66 L449.54,367.24 L449.28,366.82 L449.03,366.40 L448.80,365.99 L448.59,365.59 L448.41,365.19 L448.27,364.79 L448.16,364.39 L448.10,364.00 L448.08,363.61 L448.11,363.23 L448.17,362.86 L448.27,362.49 L448.39,362.13 L448.54,361.77 L448.70,361.42 L448.89,361.07 L449.08,360.73 L449.28,360.38 L449.49,360.04 L449.69,359.70 L449.89,359.35 L450.07,359.00 L450.25,358.65 L450.40,358.30 L450.54,357.95 L450.69,357.62 L450.83,357.30 L450.97,356.98 L451.11,356.67 L451.25,356.36 L451.40,356.05 L451.54,355.74 L451.68,355.41 L451.82,355.07 L451.97,354.72 L452.11,354.35 L452.26,353.95 L452.40,353.53 L452.55,353.08 L452.70,352.60 L452.85,352.07 L453.02,351.48 L453.18,350.85 L453.36,350.18 L453.53,349.49 L453.71,348.77 L453.89,348.04 L454.06,347.30 L454.23,346.57 L454.40,345.85 L454.56,345.16 L454.71,344.49 L454.85,343.86 L454.98,343.28 L455.10,342.76 L455.20,342.30 L455.29,341.90 L455.35,341.55 L455.41,341.24 L455.45,340.96 L455.49,340.72 L455.51,340.51 L455.53,340.32 L455.54,340.16 L455.55,340.00 L455.56,339.86 L455.57,339.73 L455.59,339.60 L455.60,339.46 L455.63,339.32 L455.66,339.17 L455.70,339.00 L455.75,338.83 L455.80,338.66 L455.86,338.49 L455.91,338.34 L455.98,338.18 L456.04,338.03 L456.10,337.89 L456.17,337.74 L456.24,337.60 L456.30,337.46 L456.37,337.32 L456.44,337.18 L456.51,337.04 L456.57,336.89 L456.64,336.75 L456.70,336.60Z" fill="#88aed3" stroke="#111" stroke-width="1.35" stroke-linejoin="round"/>
<line x1="450.40" y1="358.3" x2="463.00" y2="358.3" stroke="#555" stroke-width="0.6"/>
<line x1="448.24" y1="364.7" x2="465.16" y2="364.7" stroke="#2a2a2a" stroke-width="1.1"/>
<line x1="452.35" y1="373.1" x2="461.05" y2="373.1" stroke="#555" stroke-width="0.6"/>
<rect x="455.70" y="345.00" width="2" height="2" fill="#1a5796"/>
<rect x="455.70" y="351.00" width="2" height="2" fill="#1a5796"/>
<rect x="450.50" y="357.00" width="2" height="2" fill="#1a5796"/>
<rect x="460.00" y="357.00" width="2" height="2" fill="#1a5796"/>
<rect x="455.70" y="361.00" width="2" height="2" fill="#1a5796"/>
<rect x="450.50" y="367.00" width="2" height="2" fill="#1a5796"/>
<rect x="460.00" y="367.00" width="2" height="2" fill="#1a5796"/>
<rect x="455.70" y="371.00" width="2" height="2" fill="#1a5796"/>
<rect x="452.00" y="376.00" width="2" height="2" fill="#1a5796"/>
<rect x="459.00" y="376.00" width="2" height="2" fill="#1a5796"/>
<rect x="455.70" y="380.00" width="2" height="2" fill="#1a5796"/>
<line x1="416.5" y1="299" x2="416.5" y2="405.1" stroke="#111" stroke-width="1.25" />
<line x1="415.9" y1="404.5" x2="476.4" y2="404.5" stroke="#111" stroke-width="1.3" />
<line x1="433.5" y1="409.1" x2="459.8" y2="409.1" stroke="#111" stroke-width="1.1" />
<path d="M431.5,409.1 L435.7,406.8 L435.7,411.40000000000003Z M461.8,409.1 L457.6,406.8 L457.6,411.40000000000003Z" fill="#111"/>
<text x="445.2" y="421.3" font-size="7.6" text-anchor="middle" font-weight="normal" fill="#3a3a3a" stroke="#3a3a3a" stroke-width="0.08" >SDF1-α</text>
<polygon points="457.10,329.35 457.63,330.62 459.00,330.73 457.96,331.63 458.28,332.97 457.10,332.25 455.92,332.97 456.24,331.63 455.20,330.73 456.57,330.62" fill="#151515"/>
<rect x="0.5" y="0.5" width="519" height="428" fill="none" stroke="#000" stroke-width="1.2"/>
</svg>
</body></html>
